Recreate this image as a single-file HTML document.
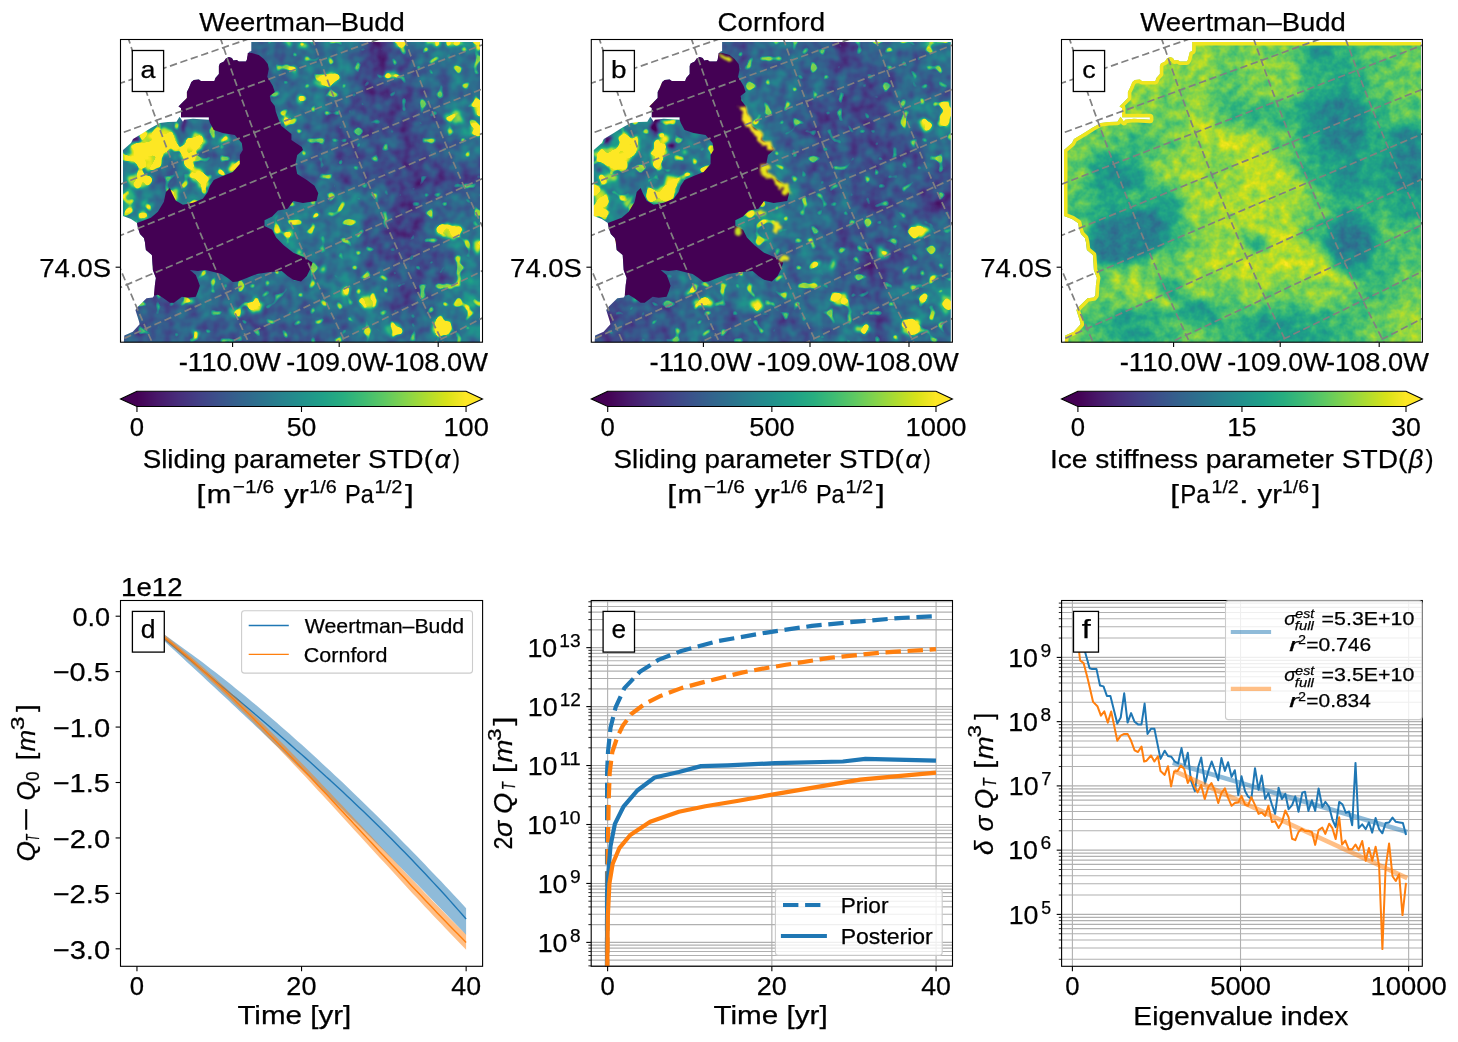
<!DOCTYPE html>
<html><head><meta charset="utf-8"><style>
html,body{margin:0;padding:0;background:#fff;}
svg{display:block;font-family:"Liberation Sans",sans-serif;will-change:transform;}
text{stroke:#000;stroke-width:0.25px;}
</style></head><body>
<svg width="1458" height="1042" viewBox="0 0 1458 1042">
<rect width="1458" height="1042" fill="#fff"/>
<defs>
<linearGradient id="vir" x1="0" x2="1" y1="0" y2="0"><stop offset="0.0000" stop-color="#440154"/><stop offset="0.0627" stop-color="#48186a"/><stop offset="0.1255" stop-color="#472d7b"/><stop offset="0.1882" stop-color="#424086"/><stop offset="0.2510" stop-color="#3b528b"/><stop offset="0.3137" stop-color="#33638d"/><stop offset="0.3765" stop-color="#2c728e"/><stop offset="0.4392" stop-color="#26828e"/><stop offset="0.5020" stop-color="#21918c"/><stop offset="0.5647" stop-color="#1fa088"/><stop offset="0.6275" stop-color="#28ae80"/><stop offset="0.6902" stop-color="#3fbc73"/><stop offset="0.7529" stop-color="#5ec962"/><stop offset="0.8157" stop-color="#84d44b"/><stop offset="0.8784" stop-color="#addc30"/><stop offset="0.9412" stop-color="#d8e219"/><stop offset="1.0000" stop-color="#fde725"/></linearGradient>
<clipPath id="clipT0"><rect x="120.5" y="39.5" width="362.0" height="302.7"/></clipPath>
<clipPath id="clipB0"><rect x="120.5" y="600.5" width="362.0" height="365.79999999999995"/></clipPath>
<clipPath id="clipT1"><rect x="591.3" y="39.5" width="361.1" height="302.7"/></clipPath>
<clipPath id="clipB1"><rect x="591.3" y="600.5" width="361.1" height="365.79999999999995"/></clipPath>
<clipPath id="clipT2"><rect x="1061.5" y="39.5" width="360.9000000000001" height="302.7"/></clipPath>
<clipPath id="clipB2"><rect x="1061.5" y="600.5" width="360.9000000000001" height="365.79999999999995"/></clipPath>
</defs>
<defs><filter id="vf0" filterUnits="userSpaceOnUse" x="110.5" y="29.5" width="382.0" height="322.7" color-interpolation-filters="sRGB"><feGaussianBlur in="SourceGraphic" stdDeviation="1.2" result="g"/><feTurbulence type="fractalNoise" baseFrequency="0.08" numOctaves="2" seed="2" result="n"/><feColorMatrix in="n" type="matrix" values="1 0 0 0 0 1 0 0 0 0 1 0 0 0 0 0 0 0 0 1" result="n1"/><feComposite in="g" in2="n1" operator="arithmetic" k1="0" k2="1" k3="0.4" k4="-0.2" result="v"/><feTurbulence type="fractalNoise" baseFrequency="0.11" numOctaves="1" seed="13" result="t2"/><feColorMatrix in="t2" type="matrix" values="1 0 0 0 0 1 0 0 0 0 1 0 0 0 0 0 0 0 0 1" result="n2a"/><feGaussianBlur in="n2a" stdDeviation="1.0" result="n2"/><feComposite in="n2" in2="g" operator="arithmetic" k1="0" k2="12" k3="4" k4="-8.75" result="sp"/><feComposite in="v" in2="sp" operator="arithmetic" k1="0" k2="1" k3="0.5" k4="0" result="v2"/><feComponentTransfer in="v2"><feFuncR type="table" tableValues="0.2670 0.2770 0.2823 0.2829 0.2788 0.2706 0.2590 0.2450 0.2297 0.2143 0.1994 0.1856 0.1727 0.1607 0.1490 0.1378 0.1276 0.1206 0.1206 0.1323 0.1579 0.1966 0.2461 0.3041 0.3692 0.4401 0.5160 0.5958 0.6785 0.7624 0.8456 0.9261 0.9932"/><feFuncG type="table" tableValues="0.0049 0.0503 0.0950 0.1359 0.1755 0.2141 0.2515 0.2877 0.3224 0.3556 0.3876 0.4186 0.4488 0.4785 0.5081 0.5375 0.5669 0.5964 0.6258 0.6550 0.6838 0.7118 0.7389 0.7647 0.7889 0.8111 0.8312 0.8487 0.8637 0.8764 0.8873 0.8973 0.9062"/><feFuncB type="table" tableValues="0.3294 0.3757 0.4173 0.4534 0.4834 0.5071 0.5247 0.5373 0.5457 0.5512 0.5546 0.5568 0.5579 0.5581 0.5573 0.5549 0.5506 0.5436 0.5335 0.5197 0.5017 0.4792 0.4520 0.4199 0.3829 0.3410 0.2943 0.2433 0.1895 0.1371 0.0997 0.1041 0.1439"/><feFuncA type="linear" slope="0" intercept="1"/></feComponentTransfer></filter><filter id="gb0" filterUnits="userSpaceOnUse" x="100.5" y="19.5" width="402.0" height="342.7" color-interpolation-filters="sRGB"><feGaussianBlur stdDeviation="7"/></filter><filter id="it0" filterUnits="userSpaceOnUse" x="100.5" y="19.5" width="402.0" height="342.7" color-interpolation-filters="sRGB"><feTurbulence type="fractalNoise" baseFrequency="0.12" numOctaves="2" seed="7" result="t"/><feDisplacementMap in="SourceGraphic" in2="t" scale="9" xChannelSelector="R" yChannelSelector="G" result="d"/><feGaussianBlur in="d" stdDeviation="1.0"/></filter><clipPath id="mk0"><polygon points="251.3,42.0 480.0,42.0 480.0,342.2 123.8,342.2 124.3,335.4 132.8,331.7 139.6,324.3 139.1,321.7 135.4,310.1 138.1,306.4 146.5,298.2 152.8,297.4 154.4,295.3 154.9,284.9 155.9,277.9 152.9,269.9 151.9,254.9 145.9,249.9 144.9,241.9 143.9,237.9 140.0,234.0 138.0,228.0 137.0,223.0 131.0,219.0 123.0,216.0 123.0,149.9 131.0,143.0 133.0,139.0 143.0,133.0 150.9,128.0 159.9,123.0 167.9,122.0 176.5,121.8 179.5,116.8 183.0,121.8 184.0,119.8 192.9,118.8 208.9,119.8 208.9,117.3 181.0,117.3 181.0,107.9 178.5,106.4 186.9,97.9 186.9,91.9 188.9,87.9 191.4,81.9 193.9,79.9 198.9,79.4 200.9,80.9 214.4,80.9 215.4,77.9 218.9,73.9 218.9,65.9 219.9,63.4 223.9,61.4 225.9,58.5 228.9,57.0 231.9,58.0 233.4,60.5 236.8,60.0 238.8,61.4 245.8,61.4 246.8,60.0 248.8,52.0 251.3,51.0" fill="#000"/></clipPath></defs>
<g clip-path="url(#mk0)"><g filter="url(#vf0)">
<rect x="110.5" y="29.5" width="382.0" height="322.7" fill="rgb(76,76,76)"/>
<g filter="url(#gb0)">
<rect x="108.5" y="27.5" width="42.0" height="42.0" fill="rgb(102,102,102)"/>
<rect x="150.5" y="27.5" width="30.0" height="42.0" fill="rgb(102,102,102)"/>
<rect x="180.5" y="27.5" width="30.0" height="42.0" fill="rgb(93,93,93)"/>
<rect x="210.5" y="27.5" width="30.0" height="42.0" fill="rgb(76,76,76)"/>
<rect x="240.5" y="27.5" width="30.0" height="42.0" fill="rgb(76,76,76)"/>
<rect x="270.5" y="27.5" width="30.0" height="42.0" fill="rgb(84,84,84)"/>
<rect x="300.5" y="27.5" width="30.0" height="42.0" fill="rgb(97,97,97)"/>
<rect x="330.5" y="27.5" width="30.0" height="42.0" fill="rgb(97,97,97)"/>
<rect x="360.5" y="27.5" width="30.0" height="42.0" fill="rgb(38,38,38)"/>
<rect x="390.5" y="27.5" width="30.0" height="42.0" fill="rgb(76,76,76)"/>
<rect x="420.5" y="27.5" width="30.0" height="42.0" fill="rgb(97,97,97)"/>
<rect x="450.5" y="27.5" width="42.0" height="42.0" fill="rgb(97,97,97)"/>
<rect x="108.5" y="69.5" width="42.0" height="30.0" fill="rgb(102,102,102)"/>
<rect x="150.5" y="69.5" width="30.0" height="30.0" fill="rgb(102,102,102)"/>
<rect x="180.5" y="69.5" width="30.0" height="30.0" fill="rgb(99,99,99)"/>
<rect x="210.5" y="69.5" width="30.0" height="30.0" fill="rgb(88,88,88)"/>
<rect x="240.5" y="69.5" width="30.0" height="30.0" fill="rgb(89,89,89)"/>
<rect x="270.5" y="69.5" width="30.0" height="30.0" fill="rgb(89,89,89)"/>
<rect x="300.5" y="69.5" width="30.0" height="30.0" fill="rgb(97,97,97)"/>
<rect x="330.5" y="69.5" width="30.0" height="30.0" fill="rgb(97,97,97)"/>
<rect x="360.5" y="69.5" width="30.0" height="30.0" fill="rgb(46,46,46)"/>
<rect x="390.5" y="69.5" width="30.0" height="30.0" fill="rgb(56,56,56)"/>
<rect x="420.5" y="69.5" width="30.0" height="30.0" fill="rgb(82,82,82)"/>
<rect x="450.5" y="69.5" width="42.0" height="30.0" fill="rgb(92,92,92)"/>
<rect x="108.5" y="99.5" width="42.0" height="30.0" fill="rgb(102,102,102)"/>
<rect x="150.5" y="99.5" width="30.0" height="30.0" fill="rgb(102,102,102)"/>
<rect x="180.5" y="99.5" width="30.0" height="30.0" fill="rgb(97,97,97)"/>
<rect x="210.5" y="99.5" width="30.0" height="30.0" fill="rgb(90,90,90)"/>
<rect x="240.5" y="99.5" width="30.0" height="30.0" fill="rgb(92,92,92)"/>
<rect x="270.5" y="99.5" width="30.0" height="30.0" fill="rgb(97,97,97)"/>
<rect x="300.5" y="99.5" width="30.0" height="30.0" fill="rgb(89,89,89)"/>
<rect x="330.5" y="99.5" width="30.0" height="30.0" fill="rgb(69,69,69)"/>
<rect x="360.5" y="99.5" width="30.0" height="30.0" fill="rgb(51,51,51)"/>
<rect x="390.5" y="99.5" width="30.0" height="30.0" fill="rgb(56,56,56)"/>
<rect x="420.5" y="99.5" width="30.0" height="30.0" fill="rgb(76,76,76)"/>
<rect x="450.5" y="99.5" width="42.0" height="30.0" fill="rgb(107,107,107)"/>
<rect x="108.5" y="129.5" width="42.0" height="30.0" fill="rgb(102,102,102)"/>
<rect x="150.5" y="129.5" width="30.0" height="30.0" fill="rgb(102,102,102)"/>
<rect x="180.5" y="129.5" width="30.0" height="30.0" fill="rgb(89,89,89)"/>
<rect x="210.5" y="129.5" width="30.0" height="30.0" fill="rgb(84,84,84)"/>
<rect x="240.5" y="129.5" width="30.0" height="30.0" fill="rgb(88,88,88)"/>
<rect x="270.5" y="129.5" width="30.0" height="30.0" fill="rgb(89,89,89)"/>
<rect x="300.5" y="129.5" width="30.0" height="30.0" fill="rgb(76,76,76)"/>
<rect x="330.5" y="129.5" width="30.0" height="30.0" fill="rgb(64,64,64)"/>
<rect x="360.5" y="129.5" width="30.0" height="30.0" fill="rgb(71,71,71)"/>
<rect x="390.5" y="129.5" width="30.0" height="30.0" fill="rgb(51,51,51)"/>
<rect x="420.5" y="129.5" width="30.0" height="30.0" fill="rgb(64,64,64)"/>
<rect x="450.5" y="129.5" width="42.0" height="30.0" fill="rgb(107,107,107)"/>
<rect x="108.5" y="159.5" width="42.0" height="30.0" fill="rgb(107,107,107)"/>
<rect x="150.5" y="159.5" width="30.0" height="30.0" fill="rgb(76,76,76)"/>
<rect x="180.5" y="159.5" width="30.0" height="30.0" fill="rgb(102,102,102)"/>
<rect x="210.5" y="159.5" width="30.0" height="30.0" fill="rgb(84,84,84)"/>
<rect x="240.5" y="159.5" width="30.0" height="30.0" fill="rgb(87,87,87)"/>
<rect x="270.5" y="159.5" width="30.0" height="30.0" fill="rgb(89,89,89)"/>
<rect x="300.5" y="159.5" width="30.0" height="30.0" fill="rgb(82,82,82)"/>
<rect x="330.5" y="159.5" width="30.0" height="30.0" fill="rgb(64,64,64)"/>
<rect x="360.5" y="159.5" width="30.0" height="30.0" fill="rgb(64,64,64)"/>
<rect x="390.5" y="159.5" width="30.0" height="30.0" fill="rgb(51,51,51)"/>
<rect x="420.5" y="159.5" width="30.0" height="30.0" fill="rgb(51,51,51)"/>
<rect x="450.5" y="159.5" width="42.0" height="30.0" fill="rgb(56,56,56)"/>
<rect x="108.5" y="189.5" width="42.0" height="30.0" fill="rgb(107,107,107)"/>
<rect x="150.5" y="189.5" width="30.0" height="30.0" fill="rgb(84,84,84)"/>
<rect x="180.5" y="189.5" width="30.0" height="30.0" fill="rgb(115,115,115)"/>
<rect x="210.5" y="189.5" width="30.0" height="30.0" fill="rgb(99,99,99)"/>
<rect x="240.5" y="189.5" width="30.0" height="30.0" fill="rgb(96,96,96)"/>
<rect x="270.5" y="189.5" width="30.0" height="30.0" fill="rgb(102,102,102)"/>
<rect x="300.5" y="189.5" width="30.0" height="30.0" fill="rgb(97,97,97)"/>
<rect x="330.5" y="189.5" width="30.0" height="30.0" fill="rgb(107,107,107)"/>
<rect x="360.5" y="189.5" width="30.0" height="30.0" fill="rgb(89,89,89)"/>
<rect x="390.5" y="189.5" width="30.0" height="30.0" fill="rgb(46,46,46)"/>
<rect x="420.5" y="189.5" width="30.0" height="30.0" fill="rgb(76,76,76)"/>
<rect x="450.5" y="189.5" width="42.0" height="30.0" fill="rgb(89,89,89)"/>
<rect x="108.5" y="219.5" width="42.0" height="30.0" fill="rgb(107,107,107)"/>
<rect x="150.5" y="219.5" width="30.0" height="30.0" fill="rgb(96,96,96)"/>
<rect x="180.5" y="219.5" width="30.0" height="30.0" fill="rgb(105,105,105)"/>
<rect x="210.5" y="219.5" width="30.0" height="30.0" fill="rgb(102,102,102)"/>
<rect x="240.5" y="219.5" width="30.0" height="30.0" fill="rgb(102,102,102)"/>
<rect x="270.5" y="219.5" width="30.0" height="30.0" fill="rgb(107,107,107)"/>
<rect x="300.5" y="219.5" width="30.0" height="30.0" fill="rgb(102,102,102)"/>
<rect x="330.5" y="219.5" width="30.0" height="30.0" fill="rgb(102,102,102)"/>
<rect x="360.5" y="219.5" width="30.0" height="30.0" fill="rgb(64,64,64)"/>
<rect x="390.5" y="219.5" width="30.0" height="30.0" fill="rgb(38,38,38)"/>
<rect x="420.5" y="219.5" width="30.0" height="30.0" fill="rgb(82,82,82)"/>
<rect x="450.5" y="219.5" width="42.0" height="30.0" fill="rgb(102,102,102)"/>
<rect x="108.5" y="249.5" width="42.0" height="30.0" fill="rgb(85,85,85)"/>
<rect x="150.5" y="249.5" width="30.0" height="30.0" fill="rgb(82,82,82)"/>
<rect x="180.5" y="249.5" width="30.0" height="30.0" fill="rgb(96,96,96)"/>
<rect x="210.5" y="249.5" width="30.0" height="30.0" fill="rgb(94,94,94)"/>
<rect x="240.5" y="249.5" width="30.0" height="30.0" fill="rgb(94,94,94)"/>
<rect x="270.5" y="249.5" width="30.0" height="30.0" fill="rgb(89,89,89)"/>
<rect x="300.5" y="249.5" width="30.0" height="30.0" fill="rgb(89,89,89)"/>
<rect x="330.5" y="249.5" width="30.0" height="30.0" fill="rgb(102,102,102)"/>
<rect x="360.5" y="249.5" width="30.0" height="30.0" fill="rgb(71,71,71)"/>
<rect x="390.5" y="249.5" width="30.0" height="30.0" fill="rgb(64,64,64)"/>
<rect x="420.5" y="249.5" width="30.0" height="30.0" fill="rgb(56,56,56)"/>
<rect x="450.5" y="249.5" width="42.0" height="30.0" fill="rgb(102,102,102)"/>
<rect x="108.5" y="279.5" width="42.0" height="30.0" fill="rgb(64,64,64)"/>
<rect x="150.5" y="279.5" width="30.0" height="30.0" fill="rgb(64,64,64)"/>
<rect x="180.5" y="279.5" width="30.0" height="30.0" fill="rgb(102,102,102)"/>
<rect x="210.5" y="279.5" width="30.0" height="30.0" fill="rgb(84,84,84)"/>
<rect x="240.5" y="279.5" width="30.0" height="30.0" fill="rgb(89,89,89)"/>
<rect x="270.5" y="279.5" width="30.0" height="30.0" fill="rgb(84,84,84)"/>
<rect x="300.5" y="279.5" width="30.0" height="30.0" fill="rgb(97,97,97)"/>
<rect x="330.5" y="279.5" width="30.0" height="30.0" fill="rgb(107,107,107)"/>
<rect x="360.5" y="279.5" width="30.0" height="30.0" fill="rgb(97,97,97)"/>
<rect x="390.5" y="279.5" width="30.0" height="30.0" fill="rgb(56,56,56)"/>
<rect x="420.5" y="279.5" width="30.0" height="30.0" fill="rgb(84,84,84)"/>
<rect x="450.5" y="279.5" width="42.0" height="30.0" fill="rgb(115,115,115)"/>
<rect x="108.5" y="309.5" width="42.0" height="42.0" fill="rgb(64,64,64)"/>
<rect x="150.5" y="309.5" width="30.0" height="42.0" fill="rgb(76,76,76)"/>
<rect x="180.5" y="309.5" width="30.0" height="42.0" fill="rgb(71,71,71)"/>
<rect x="210.5" y="309.5" width="30.0" height="42.0" fill="rgb(64,64,64)"/>
<rect x="240.5" y="309.5" width="30.0" height="42.0" fill="rgb(64,64,64)"/>
<rect x="270.5" y="309.5" width="30.0" height="42.0" fill="rgb(71,71,71)"/>
<rect x="300.5" y="309.5" width="30.0" height="42.0" fill="rgb(76,76,76)"/>
<rect x="330.5" y="309.5" width="30.0" height="42.0" fill="rgb(82,82,82)"/>
<rect x="360.5" y="309.5" width="30.0" height="42.0" fill="rgb(102,102,102)"/>
<rect x="390.5" y="309.5" width="30.0" height="42.0" fill="rgb(71,71,71)"/>
<rect x="420.5" y="309.5" width="30.0" height="42.0" fill="rgb(97,97,97)"/>
<rect x="450.5" y="309.5" width="42.0" height="42.0" fill="rgb(102,102,102)"/>
</g>
<g filter="url(#it0)">
<ellipse cx="328.6" cy="79.7" rx="10" ry="6" fill="rgb(242,242,242)" transform="rotate(-20 328.6 79.7)"/>
<ellipse cx="318.0" cy="82.0" rx="5" ry="4" fill="rgb(191,191,191)" transform="rotate(0 318.0 82.0)"/>
<rect x="394.0" y="38.0" width="12.0" height="7.0" fill="rgb(235,235,235)"/>
<rect x="425.0" y="38.0" width="15.0" height="7.0" fill="rgb(230,230,230)"/>
<rect x="446.0" y="38.0" width="16.0" height="7.0" fill="rgb(217,217,217)"/>
<rect x="474.0" y="38.0" width="8.0" height="12.0" fill="rgb(230,230,230)"/>
<ellipse cx="288.0" cy="44.0" rx="4" ry="3" fill="rgb(204,204,204)" transform="rotate(0 288.0 44.0)"/>
<ellipse cx="302.0" cy="45.0" rx="4" ry="3" fill="rgb(217,217,217)" transform="rotate(0 302.0 45.0)"/>
<ellipse cx="392.0" cy="75.0" rx="6" ry="4" fill="rgb(204,204,204)" transform="rotate(0 392.0 75.0)"/>
<ellipse cx="453.0" cy="118.0" rx="9" ry="7" fill="rgb(204,204,204)" transform="rotate(0 453.0 118.0)"/>
<ellipse cx="478.0" cy="108.0" rx="5" ry="10" fill="rgb(230,230,230)" transform="rotate(0 478.0 108.0)"/>
<ellipse cx="476.0" cy="130.0" rx="6" ry="6" fill="rgb(191,191,191)" transform="rotate(0 476.0 130.0)"/>
<ellipse cx="300.0" cy="100.0" rx="3" ry="3" fill="rgb(217,217,217)" transform="rotate(0 300.0 100.0)"/>
<ellipse cx="285.0" cy="120.0" rx="3" ry="3" fill="rgb(217,217,217)" transform="rotate(0 285.0 120.0)"/>
<ellipse cx="292.0" cy="70.0" rx="3" ry="3" fill="rgb(204,204,204)" transform="rotate(0 292.0 70.0)"/>
<ellipse cx="449.0" cy="231.0" rx="13" ry="7" fill="rgb(247,247,247)" transform="rotate(0 449.0 231.0)"/>
<ellipse cx="478.0" cy="247.0" rx="4" ry="8" fill="rgb(230,230,230)" transform="rotate(0 478.0 247.0)"/>
<ellipse cx="368.8" cy="302.0" rx="9" ry="7" fill="rgb(230,230,230)" transform="rotate(0 368.8 302.0)"/>
<ellipse cx="346.0" cy="292.0" rx="4" ry="4" fill="rgb(230,230,230)" transform="rotate(0 346.0 292.0)"/>
<ellipse cx="394.0" cy="330.0" rx="9" ry="7" fill="rgb(191,191,191)" transform="rotate(0 394.0 330.0)"/>
<ellipse cx="442.6" cy="327.6" rx="10" ry="8" fill="rgb(247,247,247)" transform="rotate(0 442.6 327.6)"/>
<ellipse cx="254.8" cy="305.0" rx="7" ry="6" fill="rgb(235,235,235)" transform="rotate(0 254.8 305.0)"/>
<ellipse cx="290.0" cy="234.0" rx="3" ry="3" fill="rgb(230,230,230)" transform="rotate(0 290.0 234.0)"/>
<ellipse cx="300.0" cy="252.0" rx="3" ry="3" fill="rgb(230,230,230)" transform="rotate(0 300.0 252.0)"/>
<ellipse cx="322.0" cy="268.0" rx="3" ry="3" fill="rgb(217,217,217)" transform="rotate(0 322.0 268.0)"/>
<ellipse cx="315.0" cy="216.0" rx="3" ry="3" fill="rgb(230,230,230)" transform="rotate(0 315.0 216.0)"/>
<ellipse cx="470.0" cy="300.0" rx="7" ry="10" fill="rgb(153,153,153)" transform="rotate(0 470.0 300.0)"/>
<ellipse cx="190.0" cy="302.0" rx="4" ry="3" fill="rgb(242,242,242)" transform="rotate(0 190.0 302.0)"/>
<ellipse cx="196.0" cy="334.0" rx="4" ry="4" fill="rgb(230,230,230)" transform="rotate(0 196.0 334.0)"/>
<ellipse cx="236.0" cy="312.0" rx="8" ry="5" fill="rgb(166,166,166)" transform="rotate(0 236.0 312.0)"/>
<polygon points="130.5,147.4 140.5,137.4 155.4,128.7 170.4,129.9 177.9,137.4 176.6,147.4 165.4,152.4 159.2,164.9 149.2,169.9 134.2,164.9 125.5,158.6" fill="rgb(245,245,245)"/>
<polygon points="185.4,141.2 192.9,133.7 202.9,134.9 207.8,142.4 197.9,152.4 192.9,162.4 197.9,169.9 207.8,177.4 210.3,184.9 205.3,189.8 197.9,187.3 192.9,179.9 187.9,169.9 182.9,159.9 180.4,149.9" fill="rgb(245,245,245)"/>
<ellipse cx="139.0" cy="181.0" rx="11" ry="8" fill="rgb(217,217,217)" transform="rotate(0 139.0 181.0)"/>
<ellipse cx="129.0" cy="200.0" rx="6" ry="12" fill="rgb(191,191,191)" transform="rotate(0 129.0 200.0)"/>
<ellipse cx="174.0" cy="195.0" rx="4" ry="8" fill="rgb(230,230,230)" transform="rotate(0 174.0 195.0)"/>
<ellipse cx="221.0" cy="173.0" rx="4" ry="3" fill="rgb(242,242,242)" transform="rotate(0 221.0 173.0)"/>
<ellipse cx="235.0" cy="166.0" rx="5" ry="4" fill="rgb(242,242,242)" transform="rotate(-30 235.0 166.0)"/>
<ellipse cx="225.0" cy="139.0" rx="5" ry="4" fill="rgb(204,204,204)" transform="rotate(0 225.0 139.0)"/>
<ellipse cx="147.0" cy="205.0" rx="5" ry="5" fill="rgb(153,153,153)" transform="rotate(0 147.0 205.0)"/>
<ellipse cx="143.0" cy="215.0" rx="4" ry="4" fill="rgb(217,217,217)" transform="rotate(0 143.0 215.0)"/>
<ellipse cx="136.0" cy="139.0" rx="5" ry="3.5" fill="rgb(0,0,0)" transform="rotate(0 136.0 139.0)"/>
<polygon points="180.0,117.0 187.0,117.0 186.0,133.0 182.0,130.0" fill="rgb(0,0,0)"/>
</g>
</g>
</g>
<polygon points="246.8,60.0 247.8,53.0 251.8,53.0 258.8,55.0 263.8,59.0 267.8,63.9 268.8,68.9 267.8,73.9 267.3,76.9 269.8,80.9 272.8,85.9 274.8,91.9 269.8,95.9 270.8,100.9 274.8,105.9 275.8,111.8 278.8,119.9 281.1,125.7 286.8,130.3 291.4,134.0 291.4,140.1 301.8,147.0 303.0,150.0 297.2,155.0 295.3,164.5 297.2,174.1 306.8,179.9 314.5,185.7 318.3,193.3 316.4,201.0 302.9,202.9 293.3,201.0 287.6,208.7 278.0,210.6 272.2,216.4 264.5,220.2 264.5,226.0 272.2,229.8 276.1,237.5 283.7,245.2 293.3,252.8 302.9,256.7 312.5,262.4 310.6,268.2 306.8,275.9 301.0,281.6 293.3,279.7 287.6,275.9 281.8,271.1 270.3,272.0 256.9,274.0 247.3,277.8 237.7,281.6 232.8,281.9 227.8,277.9 221.8,273.9 213.8,271.9 205.8,269.9 197.8,270.9 189.9,269.9 195.8,274.9 197.8,279.9 199.8,285.8 197.8,291.8 195.8,296.8 187.9,297.8 181.9,296.8 177.9,299.8 173.9,302.8 169.9,302.8 162.9,297.8 157.9,294.8 153.9,295.8 154.9,284.9 155.9,277.9 152.9,269.9 151.9,254.9 145.9,249.9 144.9,241.9 143.9,237.9 140.0,234.0 138.0,228.0 137.0,223.0 143.0,220.8 150.9,217.8 157.9,211.8 163.9,201.8 165.9,191.9 169.9,187.9 171.9,192.9 175.9,200.8 182.9,204.8 192.9,202.8 202.8,198.8 207.8,191.9 209.8,185.9 213.8,179.9 222.8,175.9 232.8,171.9 239.8,163.9 239.8,154.9 242.8,149.9 241.8,143.0 234.8,135.0 222.8,133.0 213.8,130.0 209.9,122.8 208.9,119.8 208.9,117.3 181.0,117.3 181.0,107.9 178.5,106.4 186.9,97.9 186.9,91.9 188.9,87.9 191.4,81.9 193.9,79.9 198.9,79.4 200.9,80.9 214.4,80.9 215.4,77.9 218.9,73.9 218.9,65.9 219.9,63.4 223.9,61.4 225.9,58.5 228.9,57.0 231.9,58.0 233.4,60.5 236.8,60.0 238.8,61.4 245.8,61.4" fill="#440154"/>
<defs><filter id="vf1" filterUnits="userSpaceOnUse" x="581.3" y="29.5" width="381.1" height="322.7" color-interpolation-filters="sRGB"><feGaussianBlur in="SourceGraphic" stdDeviation="1.2" result="g"/><feTurbulence type="fractalNoise" baseFrequency="0.08" numOctaves="2" seed="3" result="n"/><feColorMatrix in="n" type="matrix" values="1 0 0 0 0 1 0 0 0 0 1 0 0 0 0 0 0 0 0 1" result="n1"/><feComposite in="g" in2="n1" operator="arithmetic" k1="0" k2="1" k3="0.4" k4="-0.2" result="v"/><feTurbulence type="fractalNoise" baseFrequency="0.11" numOctaves="1" seed="14" result="t2"/><feColorMatrix in="t2" type="matrix" values="1 0 0 0 0 1 0 0 0 0 1 0 0 0 0 0 0 0 0 1" result="n2a"/><feGaussianBlur in="n2a" stdDeviation="1.0" result="n2"/><feComposite in="n2" in2="g" operator="arithmetic" k1="0" k2="12" k3="4" k4="-8.75" result="sp"/><feComposite in="v" in2="sp" operator="arithmetic" k1="0" k2="1" k3="0.5" k4="0" result="v2"/><feComponentTransfer in="v2"><feFuncR type="table" tableValues="0.2670 0.2770 0.2823 0.2829 0.2788 0.2706 0.2590 0.2450 0.2297 0.2143 0.1994 0.1856 0.1727 0.1607 0.1490 0.1378 0.1276 0.1206 0.1206 0.1323 0.1579 0.1966 0.2461 0.3041 0.3692 0.4401 0.5160 0.5958 0.6785 0.7624 0.8456 0.9261 0.9932"/><feFuncG type="table" tableValues="0.0049 0.0503 0.0950 0.1359 0.1755 0.2141 0.2515 0.2877 0.3224 0.3556 0.3876 0.4186 0.4488 0.4785 0.5081 0.5375 0.5669 0.5964 0.6258 0.6550 0.6838 0.7118 0.7389 0.7647 0.7889 0.8111 0.8312 0.8487 0.8637 0.8764 0.8873 0.8973 0.9062"/><feFuncB type="table" tableValues="0.3294 0.3757 0.4173 0.4534 0.4834 0.5071 0.5247 0.5373 0.5457 0.5512 0.5546 0.5568 0.5579 0.5581 0.5573 0.5549 0.5506 0.5436 0.5335 0.5197 0.5017 0.4792 0.4520 0.4199 0.3829 0.3410 0.2943 0.2433 0.1895 0.1371 0.0997 0.1041 0.1439"/><feFuncA type="linear" slope="0" intercept="1"/></feComponentTransfer></filter><filter id="gb1" filterUnits="userSpaceOnUse" x="571.3" y="19.5" width="401.1" height="342.7" color-interpolation-filters="sRGB"><feGaussianBlur stdDeviation="7"/></filter><filter id="it1" filterUnits="userSpaceOnUse" x="571.3" y="19.5" width="401.1" height="342.7" color-interpolation-filters="sRGB"><feTurbulence type="fractalNoise" baseFrequency="0.12" numOctaves="2" seed="8" result="t"/><feDisplacementMap in="SourceGraphic" in2="t" scale="9" xChannelSelector="R" yChannelSelector="G" result="d"/><feGaussianBlur in="d" stdDeviation="1.0"/></filter><clipPath id="mk1"><polygon points="722.1,42.0 950.8,42.0 950.8,342.2 594.6,342.2 595.1,335.4 603.6,331.7 610.4,324.3 609.9,321.7 606.2,310.1 608.9,306.4 617.3,298.2 623.6,297.4 625.2,295.3 625.7,284.9 626.7,277.9 623.7,269.9 622.7,254.9 616.7,249.9 615.7,241.9 614.7,237.9 610.8,234.0 608.8,228.0 607.8,223.0 601.8,219.0 593.8,216.0 593.8,149.9 601.8,143.0 603.8,139.0 613.8,133.0 621.7,128.0 630.7,123.0 638.7,122.0 647.3,121.8 650.3,116.8 653.8,121.8 654.8,119.8 663.7,118.8 679.7,119.8 679.7,117.3 651.8,117.3 651.8,107.9 649.3,106.4 657.7,97.9 657.7,91.9 659.7,87.9 662.2,81.9 664.7,79.9 669.7,79.4 671.7,80.9 685.2,80.9 686.2,77.9 689.7,73.9 689.7,65.9 690.7,63.4 694.7,61.4 696.7,58.5 699.7,57.0 702.7,58.0 704.2,60.5 707.6,60.0 709.6,61.4 716.6,61.4 717.6,60.0 719.6,52.0 722.1,51.0" fill="#000"/></clipPath></defs>
<g clip-path="url(#mk1)"><g filter="url(#vf1)">
<rect x="581.3" y="29.5" width="381.1" height="322.7" fill="rgb(76,76,76)"/>
<g filter="url(#gb1)">
<rect x="579.3" y="27.5" width="42.0" height="42.0" fill="rgb(116,116,116)"/>
<rect x="621.3" y="27.5" width="30.0" height="42.0" fill="rgb(115,115,115)"/>
<rect x="651.3" y="27.5" width="30.0" height="42.0" fill="rgb(99,99,99)"/>
<rect x="681.3" y="27.5" width="30.0" height="42.0" fill="rgb(71,71,71)"/>
<rect x="711.3" y="27.5" width="30.0" height="42.0" fill="rgb(71,71,71)"/>
<rect x="741.3" y="27.5" width="30.0" height="42.0" fill="rgb(76,76,76)"/>
<rect x="771.3" y="27.5" width="30.0" height="42.0" fill="rgb(84,84,84)"/>
<rect x="801.3" y="27.5" width="30.0" height="42.0" fill="rgb(76,76,76)"/>
<rect x="831.3" y="27.5" width="30.0" height="42.0" fill="rgb(46,46,46)"/>
<rect x="861.3" y="27.5" width="30.0" height="42.0" fill="rgb(84,84,84)"/>
<rect x="891.3" y="27.5" width="30.0" height="42.0" fill="rgb(84,84,84)"/>
<rect x="921.3" y="27.5" width="42.0" height="42.0" fill="rgb(92,92,92)"/>
<rect x="579.3" y="69.5" width="42.0" height="30.0" fill="rgb(117,117,117)"/>
<rect x="621.3" y="69.5" width="30.0" height="30.0" fill="rgb(115,115,115)"/>
<rect x="651.3" y="69.5" width="30.0" height="30.0" fill="rgb(111,111,111)"/>
<rect x="681.3" y="69.5" width="30.0" height="30.0" fill="rgb(91,91,91)"/>
<rect x="711.3" y="69.5" width="30.0" height="30.0" fill="rgb(89,89,89)"/>
<rect x="741.3" y="69.5" width="30.0" height="30.0" fill="rgb(89,89,89)"/>
<rect x="771.3" y="69.5" width="30.0" height="30.0" fill="rgb(89,89,89)"/>
<rect x="801.3" y="69.5" width="30.0" height="30.0" fill="rgb(82,82,82)"/>
<rect x="831.3" y="69.5" width="30.0" height="30.0" fill="rgb(64,64,64)"/>
<rect x="861.3" y="69.5" width="30.0" height="30.0" fill="rgb(56,56,56)"/>
<rect x="891.3" y="69.5" width="30.0" height="30.0" fill="rgb(82,82,82)"/>
<rect x="921.3" y="69.5" width="42.0" height="30.0" fill="rgb(76,76,76)"/>
<rect x="579.3" y="99.5" width="42.0" height="30.0" fill="rgb(119,119,119)"/>
<rect x="621.3" y="99.5" width="30.0" height="30.0" fill="rgb(115,115,115)"/>
<rect x="651.3" y="99.5" width="30.0" height="30.0" fill="rgb(107,107,107)"/>
<rect x="681.3" y="99.5" width="30.0" height="30.0" fill="rgb(98,98,98)"/>
<rect x="711.3" y="99.5" width="30.0" height="30.0" fill="rgb(96,96,96)"/>
<rect x="741.3" y="99.5" width="30.0" height="30.0" fill="rgb(102,102,102)"/>
<rect x="771.3" y="99.5" width="30.0" height="30.0" fill="rgb(82,82,82)"/>
<rect x="801.3" y="99.5" width="30.0" height="30.0" fill="rgb(56,56,56)"/>
<rect x="831.3" y="99.5" width="30.0" height="30.0" fill="rgb(56,56,56)"/>
<rect x="861.3" y="99.5" width="30.0" height="30.0" fill="rgb(51,51,51)"/>
<rect x="891.3" y="99.5" width="30.0" height="30.0" fill="rgb(97,97,97)"/>
<rect x="921.3" y="99.5" width="42.0" height="30.0" fill="rgb(102,102,102)"/>
<rect x="579.3" y="129.5" width="42.0" height="30.0" fill="rgb(122,122,122)"/>
<rect x="621.3" y="129.5" width="30.0" height="30.0" fill="rgb(107,107,107)"/>
<rect x="651.3" y="129.5" width="30.0" height="30.0" fill="rgb(97,97,97)"/>
<rect x="681.3" y="129.5" width="30.0" height="30.0" fill="rgb(97,97,97)"/>
<rect x="711.3" y="129.5" width="30.0" height="30.0" fill="rgb(103,103,103)"/>
<rect x="741.3" y="129.5" width="30.0" height="30.0" fill="rgb(115,115,115)"/>
<rect x="771.3" y="129.5" width="30.0" height="30.0" fill="rgb(76,76,76)"/>
<rect x="801.3" y="129.5" width="30.0" height="30.0" fill="rgb(64,64,64)"/>
<rect x="831.3" y="129.5" width="30.0" height="30.0" fill="rgb(64,64,64)"/>
<rect x="861.3" y="129.5" width="30.0" height="30.0" fill="rgb(56,56,56)"/>
<rect x="891.3" y="129.5" width="30.0" height="30.0" fill="rgb(64,64,64)"/>
<rect x="921.3" y="129.5" width="42.0" height="30.0" fill="rgb(89,89,89)"/>
<rect x="579.3" y="159.5" width="42.0" height="30.0" fill="rgb(122,122,122)"/>
<rect x="621.3" y="159.5" width="30.0" height="30.0" fill="rgb(89,89,89)"/>
<rect x="651.3" y="159.5" width="30.0" height="30.0" fill="rgb(97,97,97)"/>
<rect x="681.3" y="159.5" width="30.0" height="30.0" fill="rgb(102,102,102)"/>
<rect x="711.3" y="159.5" width="30.0" height="30.0" fill="rgb(102,102,102)"/>
<rect x="741.3" y="159.5" width="30.0" height="30.0" fill="rgb(102,102,102)"/>
<rect x="771.3" y="159.5" width="30.0" height="30.0" fill="rgb(97,97,97)"/>
<rect x="801.3" y="159.5" width="30.0" height="30.0" fill="rgb(64,64,64)"/>
<rect x="831.3" y="159.5" width="30.0" height="30.0" fill="rgb(76,76,76)"/>
<rect x="861.3" y="159.5" width="30.0" height="30.0" fill="rgb(64,64,64)"/>
<rect x="891.3" y="159.5" width="30.0" height="30.0" fill="rgb(76,76,76)"/>
<rect x="921.3" y="159.5" width="42.0" height="30.0" fill="rgb(64,64,64)"/>
<rect x="579.3" y="189.5" width="42.0" height="30.0" fill="rgb(122,122,122)"/>
<rect x="621.3" y="189.5" width="30.0" height="30.0" fill="rgb(89,89,89)"/>
<rect x="651.3" y="189.5" width="30.0" height="30.0" fill="rgb(122,122,122)"/>
<rect x="681.3" y="189.5" width="30.0" height="30.0" fill="rgb(112,112,112)"/>
<rect x="711.3" y="189.5" width="30.0" height="30.0" fill="rgb(118,118,118)"/>
<rect x="741.3" y="189.5" width="30.0" height="30.0" fill="rgb(140,140,140)"/>
<rect x="771.3" y="189.5" width="30.0" height="30.0" fill="rgb(97,97,97)"/>
<rect x="801.3" y="189.5" width="30.0" height="30.0" fill="rgb(84,84,84)"/>
<rect x="831.3" y="189.5" width="30.0" height="30.0" fill="rgb(76,76,76)"/>
<rect x="861.3" y="189.5" width="30.0" height="30.0" fill="rgb(51,51,51)"/>
<rect x="891.3" y="189.5" width="30.0" height="30.0" fill="rgb(76,76,76)"/>
<rect x="921.3" y="189.5" width="42.0" height="30.0" fill="rgb(38,38,38)"/>
<rect x="579.3" y="219.5" width="42.0" height="30.0" fill="rgb(122,122,122)"/>
<rect x="621.3" y="219.5" width="30.0" height="30.0" fill="rgb(106,106,106)"/>
<rect x="651.3" y="219.5" width="30.0" height="30.0" fill="rgb(114,114,114)"/>
<rect x="681.3" y="219.5" width="30.0" height="30.0" fill="rgb(113,113,113)"/>
<rect x="711.3" y="219.5" width="30.0" height="30.0" fill="rgb(115,115,115)"/>
<rect x="741.3" y="219.5" width="30.0" height="30.0" fill="rgb(115,115,115)"/>
<rect x="771.3" y="219.5" width="30.0" height="30.0" fill="rgb(97,97,97)"/>
<rect x="801.3" y="219.5" width="30.0" height="30.0" fill="rgb(92,92,92)"/>
<rect x="831.3" y="219.5" width="30.0" height="30.0" fill="rgb(64,64,64)"/>
<rect x="861.3" y="219.5" width="30.0" height="30.0" fill="rgb(76,76,76)"/>
<rect x="891.3" y="219.5" width="30.0" height="30.0" fill="rgb(82,82,82)"/>
<rect x="921.3" y="219.5" width="42.0" height="30.0" fill="rgb(89,89,89)"/>
<rect x="579.3" y="249.5" width="42.0" height="30.0" fill="rgb(89,89,89)"/>
<rect x="621.3" y="249.5" width="30.0" height="30.0" fill="rgb(91,91,91)"/>
<rect x="651.3" y="249.5" width="30.0" height="30.0" fill="rgb(94,94,94)"/>
<rect x="681.3" y="249.5" width="30.0" height="30.0" fill="rgb(94,94,94)"/>
<rect x="711.3" y="249.5" width="30.0" height="30.0" fill="rgb(100,100,100)"/>
<rect x="741.3" y="249.5" width="30.0" height="30.0" fill="rgb(89,89,89)"/>
<rect x="771.3" y="249.5" width="30.0" height="30.0" fill="rgb(76,76,76)"/>
<rect x="801.3" y="249.5" width="30.0" height="30.0" fill="rgb(97,97,97)"/>
<rect x="831.3" y="249.5" width="30.0" height="30.0" fill="rgb(71,71,71)"/>
<rect x="861.3" y="249.5" width="30.0" height="30.0" fill="rgb(46,46,46)"/>
<rect x="891.3" y="249.5" width="30.0" height="30.0" fill="rgb(64,64,64)"/>
<rect x="921.3" y="249.5" width="42.0" height="30.0" fill="rgb(89,89,89)"/>
<rect x="579.3" y="279.5" width="42.0" height="30.0" fill="rgb(56,56,56)"/>
<rect x="621.3" y="279.5" width="30.0" height="30.0" fill="rgb(76,76,76)"/>
<rect x="651.3" y="279.5" width="30.0" height="30.0" fill="rgb(76,76,76)"/>
<rect x="681.3" y="279.5" width="30.0" height="30.0" fill="rgb(76,76,76)"/>
<rect x="711.3" y="279.5" width="30.0" height="30.0" fill="rgb(102,102,102)"/>
<rect x="741.3" y="279.5" width="30.0" height="30.0" fill="rgb(107,107,107)"/>
<rect x="771.3" y="279.5" width="30.0" height="30.0" fill="rgb(89,89,89)"/>
<rect x="801.3" y="279.5" width="30.0" height="30.0" fill="rgb(97,97,97)"/>
<rect x="831.3" y="279.5" width="30.0" height="30.0" fill="rgb(71,71,71)"/>
<rect x="861.3" y="279.5" width="30.0" height="30.0" fill="rgb(64,64,64)"/>
<rect x="891.3" y="279.5" width="30.0" height="30.0" fill="rgb(97,97,97)"/>
<rect x="921.3" y="279.5" width="42.0" height="30.0" fill="rgb(115,115,115)"/>
<rect x="579.3" y="309.5" width="42.0" height="42.0" fill="rgb(56,56,56)"/>
<rect x="621.3" y="309.5" width="30.0" height="42.0" fill="rgb(64,64,64)"/>
<rect x="651.3" y="309.5" width="30.0" height="42.0" fill="rgb(71,71,71)"/>
<rect x="681.3" y="309.5" width="30.0" height="42.0" fill="rgb(89,89,89)"/>
<rect x="711.3" y="309.5" width="30.0" height="42.0" fill="rgb(64,64,64)"/>
<rect x="741.3" y="309.5" width="30.0" height="42.0" fill="rgb(89,89,89)"/>
<rect x="771.3" y="309.5" width="30.0" height="42.0" fill="rgb(64,64,64)"/>
<rect x="801.3" y="309.5" width="30.0" height="42.0" fill="rgb(82,82,82)"/>
<rect x="831.3" y="309.5" width="30.0" height="42.0" fill="rgb(97,97,97)"/>
<rect x="861.3" y="309.5" width="30.0" height="42.0" fill="rgb(64,64,64)"/>
<rect x="891.3" y="309.5" width="30.0" height="42.0" fill="rgb(102,102,102)"/>
<rect x="921.3" y="309.5" width="42.0" height="42.0" fill="rgb(89,89,89)"/>
</g>
<g filter="url(#it1)">
<polygon points="600.2,149.9 609.0,146.2 620.2,146.2 627.7,137.4 636.4,136.2 638.9,141.2 636.4,149.9 630.2,159.9 626.4,167.4 617.7,168.6 607.7,164.9 599.0,159.9 594.0,154.9" fill="rgb(245,245,245)"/>
<polygon points="656.4,139.9 663.9,134.9 668.9,137.4 666.4,149.9 661.4,162.4 658.9,167.4 652.6,164.9 651.4,157.4 653.9,147.4" fill="rgb(245,245,245)"/>
<polygon points="666.4,174.9 675.1,174.9 678.8,182.4 676.4,192.3 668.9,199.8 661.4,203.6 651.4,202.3 645.2,194.8 647.7,189.8 658.9,189.8 663.9,184.9" fill="rgb(245,245,245)"/>
<polygon points="594.0,187.3 604.0,189.8 609.0,197.3 607.7,207.3 601.5,214.8 594.0,217.3" fill="rgb(237,237,237)"/>
<ellipse cx="607.7" cy="177.4" rx="10" ry="4" fill="rgb(217,217,217)" transform="rotate(0 607.7 177.4)"/>
<ellipse cx="629.0" cy="202.3" rx="4" ry="7" fill="rgb(230,230,230)" transform="rotate(0 629.0 202.3)"/>
<ellipse cx="625.2" cy="136.2" rx="5" ry="5" fill="rgb(230,230,230)" transform="rotate(0 625.2 136.2)"/>
<ellipse cx="683.2" cy="152.4" rx="2.5" ry="3" fill="rgb(217,217,217)" transform="rotate(0 683.2 152.4)"/>
<ellipse cx="704.4" cy="169.3" rx="3.5" ry="2.5" fill="rgb(242,242,242)" transform="rotate(0 704.4 169.3)"/>
<ellipse cx="689.5" cy="173.7" rx="3.5" ry="2" fill="rgb(242,242,242)" transform="rotate(0 689.5 173.7)"/>
<ellipse cx="711.2" cy="146.9" rx="2" ry="2.5" fill="rgb(230,230,230)" transform="rotate(0 711.2 146.9)"/>
<ellipse cx="671.4" cy="146.2" rx="4" ry="4" fill="rgb(5,5,5)" transform="rotate(0 671.4 146.2)"/>
<ellipse cx="607.2" cy="139.3" rx="5.5" ry="3.5" fill="rgb(0,0,0)" transform="rotate(0 607.2 139.3)"/>
<ellipse cx="597.7" cy="169.9" rx="3.5" ry="2.5" fill="rgb(0,0,0)" transform="rotate(0 597.7 169.9)"/>
<polygon points="650.8,117.0 657.8,117.0 656.8,133.0 652.8,130.0" fill="rgb(0,0,0)"/>
<ellipse cx="697.3" cy="80.8" rx="7" ry="6" fill="rgb(247,247,247)" transform="rotate(0 697.3 80.8)"/>
<ellipse cx="710.8" cy="81.0" rx="4" ry="4" fill="rgb(230,230,230)" transform="rotate(0 710.8 81.0)"/>
<ellipse cx="945.8" cy="114.0" rx="5" ry="13" fill="rgb(247,247,247)" transform="rotate(0 945.8 114.0)"/>
<ellipse cx="926.3" cy="125.4" rx="6" ry="6" fill="rgb(247,247,247)" transform="rotate(0 926.3 125.4)"/>
<rect x="925.8" y="40.0" width="27.0" height="5.0" fill="rgb(153,153,153)"/>
<ellipse cx="919.1" cy="230.8" rx="9" ry="6" fill="rgb(247,247,247)" transform="rotate(0 919.1 230.8)"/>
<ellipse cx="883.1" cy="253.8" rx="6" ry="5" fill="rgb(178,178,178)" transform="rotate(0 883.1 253.8)"/>
<ellipse cx="839.9" cy="299.9" rx="7" ry="6" fill="rgb(247,247,247)" transform="rotate(0 839.9 299.9)"/>
<ellipse cx="863.0" cy="328.7" rx="7" ry="5" fill="rgb(242,242,242)" transform="rotate(0 863.0 328.7)"/>
<ellipse cx="911.9" cy="328.0" rx="8" ry="8" fill="rgb(247,247,247)" transform="rotate(0 911.9 328.0)"/>
<ellipse cx="923.4" cy="298.4" rx="4" ry="4" fill="rgb(230,230,230)" transform="rotate(0 923.4 298.4)"/>
<ellipse cx="946.8" cy="305.0" rx="6" ry="10" fill="rgb(191,191,191)" transform="rotate(0 946.8 305.0)"/>
<ellipse cx="816.8" cy="264.0" rx="3" ry="3" fill="rgb(230,230,230)" transform="rotate(0 816.8 264.0)"/>
<ellipse cx="832.8" cy="265.0" rx="3" ry="4" fill="rgb(230,230,230)" transform="rotate(0 832.8 265.0)"/>
<ellipse cx="703.1" cy="302.8" rx="11" ry="4" fill="rgb(242,242,242)" transform="rotate(-10 703.1 302.8)"/>
<ellipse cx="756.4" cy="304.2" rx="6" ry="6" fill="rgb(242,242,242)" transform="rotate(0 756.4 304.2)"/>
<ellipse cx="689.8" cy="291.0" rx="3" ry="3" fill="rgb(230,230,230)" transform="rotate(0 689.8 291.0)"/>
<ellipse cx="635.8" cy="299.0" rx="3" ry="3" fill="rgb(230,230,230)" transform="rotate(0 635.8 299.0)"/>
</g>
</g>
</g>
<polygon points="717.6,60.0 718.6,53.0 722.6,53.0 729.6,55.0 734.6,59.0 738.6,63.9 739.6,68.9 738.6,73.9 738.1,76.9 740.6,80.9 743.6,85.9 745.6,91.9 740.6,95.9 741.6,100.9 745.6,105.9 746.6,111.8 749.6,119.9 751.9,125.7 757.6,130.3 762.2,134.0 762.2,140.1 772.6,147.0 773.8,150.0 768.0,155.0 766.1,164.5 768.0,174.1 777.6,179.9 785.3,185.7 789.1,193.3 787.2,201.0 773.7,202.9 764.1,201.0 758.4,208.7 748.8,210.6 743.0,216.4 735.3,220.2 735.3,226.0 743.0,229.8 746.9,237.5 754.5,245.2 764.1,252.8 773.7,256.7 783.3,262.4 781.4,268.2 777.6,275.9 771.8,281.6 764.1,279.7 758.4,275.9 752.6,271.1 741.1,272.0 727.7,274.0 718.1,277.8 708.5,281.6 703.6,281.9 698.6,277.9 692.6,273.9 684.6,271.9 676.6,269.9 668.6,270.9 660.7,269.9 666.6,274.9 668.6,279.9 670.6,285.8 668.6,291.8 666.6,296.8 658.7,297.8 652.7,296.8 648.7,299.8 644.7,302.8 640.7,302.8 633.7,297.8 628.7,294.8 624.7,295.8 625.7,284.9 626.7,277.9 623.7,269.9 622.7,254.9 616.7,249.9 615.7,241.9 614.7,237.9 610.8,234.0 608.8,228.0 607.8,223.0 613.8,220.8 621.7,217.8 628.7,211.8 634.7,201.8 636.7,191.9 640.7,187.9 642.7,192.9 646.7,200.8 653.7,204.8 663.7,202.8 673.6,198.8 678.6,191.9 680.6,185.9 684.6,179.9 693.6,175.9 703.6,171.9 710.6,163.9 710.6,154.9 713.6,149.9 712.6,143.0 705.6,135.0 693.6,133.0 684.6,130.0 680.7,122.8 679.7,119.8 679.7,117.3 651.8,117.3 651.8,107.9 649.3,106.4 657.7,97.9 657.7,91.9 659.7,87.9 662.2,81.9 664.7,79.9 669.7,79.4 671.7,80.9 685.2,80.9 686.2,77.9 689.7,73.9 689.7,65.9 690.7,63.4 694.7,61.4 696.7,58.5 699.7,57.0 702.7,58.0 704.2,60.5 707.6,60.0 709.6,61.4 716.6,61.4" fill="#440154"/>
<g clip-path="url(#mk1)"><g filter="url(#it1)">
<polygon points="747.1,105.9 748.1,111.8 751.1,119.9 753.4,125.7 759.1,130.3 763.7,134.0 763.7,140.1 774.1,147.0 775.3,150.0 767.8,150.0 766.6,147.0 756.2,140.1 756.2,134.0 751.6,130.3 745.9,125.7 743.6,119.9 740.6,111.8 739.6,105.9" fill="#f6e522"/>
<polygon points="767.6,164.5 769.5,174.1 779.1,179.9 786.8,185.7 790.6,193.3 783.1,193.3 779.3,185.7 771.6,179.9 762.0,174.1 760.1,164.5" fill="#e6e419"/>
<polygon points="717.8,55.0 726.8,56.0 732.8,60.0 728.8,62.0 720.8,59.0" fill="#d8e219"/>
<ellipse cx="776.8" cy="227.0" rx="4" ry="7" fill="#f1e51d" transform="rotate(0 776.8 227.0)"/>
<ellipse cx="760.8" cy="213.0" rx="5" ry="3" fill="#e0e318" transform="rotate(0 760.8 213.0)"/>
<ellipse cx="738.8" cy="232.0" rx="3" ry="3" fill="#c8e020" transform="rotate(0 738.8 232.0)"/>
<ellipse cx="783.8" cy="258.0" rx="4" ry="3" fill="#e8e41a" transform="rotate(0 783.8 258.0)"/>
</g></g>
<defs><filter id="vf2" filterUnits="userSpaceOnUse" x="1051.5" y="29.5" width="380.9000000000001" height="322.7" color-interpolation-filters="sRGB"><feGaussianBlur in="SourceGraphic" stdDeviation="1.0" result="g"/><feTurbulence type="fractalNoise" baseFrequency="0.1" numOctaves="3" seed="5" result="n"/><feColorMatrix in="n" type="matrix" values="1 0 0 0 0 1 0 0 0 0 1 0 0 0 0 0 0 0 0 1" result="n1"/><feComposite in="g" in2="n1" operator="arithmetic" k1="0" k2="1" k3="0.3" k4="-0.15" result="v"/><feComponentTransfer in="v"><feFuncR type="table" tableValues="0.2670 0.2770 0.2823 0.2829 0.2788 0.2706 0.2590 0.2450 0.2297 0.2143 0.1994 0.1856 0.1727 0.1607 0.1490 0.1378 0.1276 0.1206 0.1206 0.1323 0.1579 0.1966 0.2461 0.3041 0.3692 0.4401 0.5160 0.5958 0.6785 0.7624 0.8456 0.9261 0.9932"/><feFuncG type="table" tableValues="0.0049 0.0503 0.0950 0.1359 0.1755 0.2141 0.2515 0.2877 0.3224 0.3556 0.3876 0.4186 0.4488 0.4785 0.5081 0.5375 0.5669 0.5964 0.6258 0.6550 0.6838 0.7118 0.7389 0.7647 0.7889 0.8111 0.8312 0.8487 0.8637 0.8764 0.8873 0.8973 0.9062"/><feFuncB type="table" tableValues="0.3294 0.3757 0.4173 0.4534 0.4834 0.5071 0.5247 0.5373 0.5457 0.5512 0.5546 0.5568 0.5579 0.5581 0.5573 0.5549 0.5506 0.5436 0.5335 0.5197 0.5017 0.4792 0.4520 0.4199 0.3829 0.3410 0.2943 0.2433 0.1895 0.1371 0.0997 0.1041 0.1439"/><feFuncA type="linear" slope="0" intercept="1"/></feComponentTransfer></filter><filter id="gb2" filterUnits="userSpaceOnUse" x="1041.5" y="19.5" width="400.9000000000001" height="342.7" color-interpolation-filters="sRGB"><feGaussianBlur stdDeviation="7"/></filter><filter id="it2" filterUnits="userSpaceOnUse" x="1041.5" y="19.5" width="400.9000000000001" height="342.7" color-interpolation-filters="sRGB"><feTurbulence type="fractalNoise" baseFrequency="0.12" numOctaves="2" seed="9" result="t"/><feDisplacementMap in="SourceGraphic" in2="t" scale="6" xChannelSelector="R" yChannelSelector="G" result="d"/><feGaussianBlur in="d" stdDeviation="4"/></filter><clipPath id="mk2"><polygon points="1192.3,42.0 1421.0,42.0 1421.0,342.2 1064.8,342.2 1065.3,335.4 1073.8,331.7 1080.6,324.3 1080.1,321.7 1076.4,310.1 1079.1,306.4 1087.5,298.2 1093.8,297.4 1095.4,295.3 1095.9,284.9 1096.9,277.9 1093.9,269.9 1092.9,254.9 1086.9,249.9 1085.9,241.9 1084.9,237.9 1081.0,234.0 1079.0,228.0 1078.0,223.0 1072.0,219.0 1064.0,216.0 1064.0,149.9 1072.0,143.0 1074.0,139.0 1084.0,133.0 1091.9,128.0 1100.9,123.0 1108.9,122.0 1117.5,121.8 1120.5,116.8 1124.0,121.8 1125.0,119.8 1133.9,118.8 1149.9,119.8 1149.9,117.3 1122.0,117.3 1122.0,107.9 1119.5,106.4 1127.9,97.9 1127.9,91.9 1129.9,87.9 1132.4,81.9 1134.9,79.9 1139.9,79.4 1141.9,80.9 1155.4,80.9 1156.4,77.9 1159.9,73.9 1159.9,65.9 1160.9,63.4 1164.9,61.4 1166.9,58.5 1169.9,57.0 1172.9,58.0 1174.4,60.5 1177.8,60.0 1179.8,61.4 1186.8,61.4 1187.8,60.0 1189.8,52.0 1192.3,51.0" fill="#000"/></clipPath></defs>
<g clip-path="url(#mk2)"><g filter="url(#vf2)">
<rect x="1051.5" y="29.5" width="380.9000000000001" height="322.7" fill="rgb(178,178,178)"/>
<g filter="url(#gb2)">
<rect x="1049.5" y="27.5" width="42.0" height="42.0" fill="rgb(206,206,206)"/>
<rect x="1091.5" y="27.5" width="30.0" height="42.0" fill="rgb(208,208,208)"/>
<rect x="1121.5" y="27.5" width="30.0" height="42.0" fill="rgb(208,208,208)"/>
<rect x="1151.5" y="27.5" width="30.0" height="42.0" fill="rgb(204,204,204)"/>
<rect x="1181.5" y="27.5" width="30.0" height="42.0" fill="rgb(217,217,217)"/>
<rect x="1211.5" y="27.5" width="30.0" height="42.0" fill="rgb(196,196,196)"/>
<rect x="1241.5" y="27.5" width="30.0" height="42.0" fill="rgb(204,204,204)"/>
<rect x="1271.5" y="27.5" width="30.0" height="42.0" fill="rgb(196,196,196)"/>
<rect x="1301.5" y="27.5" width="30.0" height="42.0" fill="rgb(153,153,153)"/>
<rect x="1331.5" y="27.5" width="30.0" height="42.0" fill="rgb(166,166,166)"/>
<rect x="1361.5" y="27.5" width="30.0" height="42.0" fill="rgb(186,186,186)"/>
<rect x="1391.5" y="27.5" width="42.0" height="42.0" fill="rgb(191,191,191)"/>
<rect x="1049.5" y="69.5" width="42.0" height="30.0" fill="rgb(204,204,204)"/>
<rect x="1091.5" y="69.5" width="30.0" height="30.0" fill="rgb(208,208,208)"/>
<rect x="1121.5" y="69.5" width="30.0" height="30.0" fill="rgb(212,212,212)"/>
<rect x="1151.5" y="69.5" width="30.0" height="30.0" fill="rgb(204,204,204)"/>
<rect x="1181.5" y="69.5" width="30.0" height="30.0" fill="rgb(212,212,212)"/>
<rect x="1211.5" y="69.5" width="30.0" height="30.0" fill="rgb(186,186,186)"/>
<rect x="1241.5" y="69.5" width="30.0" height="30.0" fill="rgb(204,204,204)"/>
<rect x="1271.5" y="69.5" width="30.0" height="30.0" fill="rgb(212,212,212)"/>
<rect x="1301.5" y="69.5" width="30.0" height="30.0" fill="rgb(161,161,161)"/>
<rect x="1331.5" y="69.5" width="30.0" height="30.0" fill="rgb(145,145,145)"/>
<rect x="1361.5" y="69.5" width="30.0" height="30.0" fill="rgb(186,186,186)"/>
<rect x="1391.5" y="69.5" width="42.0" height="30.0" fill="rgb(196,196,196)"/>
<rect x="1049.5" y="99.5" width="42.0" height="30.0" fill="rgb(200,200,200)"/>
<rect x="1091.5" y="99.5" width="30.0" height="30.0" fill="rgb(204,204,204)"/>
<rect x="1121.5" y="99.5" width="30.0" height="30.0" fill="rgb(204,204,204)"/>
<rect x="1151.5" y="99.5" width="30.0" height="30.0" fill="rgb(196,196,196)"/>
<rect x="1181.5" y="99.5" width="30.0" height="30.0" fill="rgb(212,212,212)"/>
<rect x="1211.5" y="99.5" width="30.0" height="30.0" fill="rgb(171,171,171)"/>
<rect x="1241.5" y="99.5" width="30.0" height="30.0" fill="rgb(166,166,166)"/>
<rect x="1271.5" y="99.5" width="30.0" height="30.0" fill="rgb(166,166,166)"/>
<rect x="1301.5" y="99.5" width="30.0" height="30.0" fill="rgb(128,128,128)"/>
<rect x="1331.5" y="99.5" width="30.0" height="30.0" fill="rgb(120,120,120)"/>
<rect x="1361.5" y="99.5" width="30.0" height="30.0" fill="rgb(166,166,166)"/>
<rect x="1391.5" y="99.5" width="42.0" height="30.0" fill="rgb(186,186,186)"/>
<rect x="1049.5" y="129.5" width="42.0" height="30.0" fill="rgb(196,196,196)"/>
<rect x="1091.5" y="129.5" width="30.0" height="30.0" fill="rgb(186,186,186)"/>
<rect x="1121.5" y="129.5" width="30.0" height="30.0" fill="rgb(171,171,171)"/>
<rect x="1151.5" y="129.5" width="30.0" height="30.0" fill="rgb(191,191,191)"/>
<rect x="1181.5" y="129.5" width="30.0" height="30.0" fill="rgb(217,217,217)"/>
<rect x="1211.5" y="129.5" width="30.0" height="30.0" fill="rgb(217,217,217)"/>
<rect x="1241.5" y="129.5" width="30.0" height="30.0" fill="rgb(222,222,222)"/>
<rect x="1271.5" y="129.5" width="30.0" height="30.0" fill="rgb(191,191,191)"/>
<rect x="1301.5" y="129.5" width="30.0" height="30.0" fill="rgb(145,145,145)"/>
<rect x="1331.5" y="129.5" width="30.0" height="30.0" fill="rgb(140,140,140)"/>
<rect x="1361.5" y="129.5" width="30.0" height="30.0" fill="rgb(153,153,153)"/>
<rect x="1391.5" y="129.5" width="42.0" height="30.0" fill="rgb(140,140,140)"/>
<rect x="1049.5" y="159.5" width="42.0" height="30.0" fill="rgb(196,196,196)"/>
<rect x="1091.5" y="159.5" width="30.0" height="30.0" fill="rgb(140,140,140)"/>
<rect x="1121.5" y="159.5" width="30.0" height="30.0" fill="rgb(166,166,166)"/>
<rect x="1151.5" y="159.5" width="30.0" height="30.0" fill="rgb(212,212,212)"/>
<rect x="1181.5" y="159.5" width="30.0" height="30.0" fill="rgb(217,217,217)"/>
<rect x="1211.5" y="159.5" width="30.0" height="30.0" fill="rgb(204,204,204)"/>
<rect x="1241.5" y="159.5" width="30.0" height="30.0" fill="rgb(230,230,230)"/>
<rect x="1271.5" y="159.5" width="30.0" height="30.0" fill="rgb(196,196,196)"/>
<rect x="1301.5" y="159.5" width="30.0" height="30.0" fill="rgb(161,161,161)"/>
<rect x="1331.5" y="159.5" width="30.0" height="30.0" fill="rgb(128,128,128)"/>
<rect x="1361.5" y="159.5" width="30.0" height="30.0" fill="rgb(145,145,145)"/>
<rect x="1391.5" y="159.5" width="42.0" height="30.0" fill="rgb(115,115,115)"/>
<rect x="1049.5" y="189.5" width="42.0" height="30.0" fill="rgb(179,179,179)"/>
<rect x="1091.5" y="189.5" width="30.0" height="30.0" fill="rgb(153,153,153)"/>
<rect x="1121.5" y="189.5" width="30.0" height="30.0" fill="rgb(166,166,166)"/>
<rect x="1151.5" y="189.5" width="30.0" height="30.0" fill="rgb(140,140,140)"/>
<rect x="1181.5" y="189.5" width="30.0" height="30.0" fill="rgb(217,217,217)"/>
<rect x="1211.5" y="189.5" width="30.0" height="30.0" fill="rgb(222,222,222)"/>
<rect x="1241.5" y="189.5" width="30.0" height="30.0" fill="rgb(230,230,230)"/>
<rect x="1271.5" y="189.5" width="30.0" height="30.0" fill="rgb(217,217,217)"/>
<rect x="1301.5" y="189.5" width="30.0" height="30.0" fill="rgb(196,196,196)"/>
<rect x="1331.5" y="189.5" width="30.0" height="30.0" fill="rgb(153,153,153)"/>
<rect x="1361.5" y="189.5" width="30.0" height="30.0" fill="rgb(166,166,166)"/>
<rect x="1391.5" y="189.5" width="42.0" height="30.0" fill="rgb(145,145,145)"/>
<rect x="1049.5" y="219.5" width="42.0" height="30.0" fill="rgb(191,191,191)"/>
<rect x="1091.5" y="219.5" width="30.0" height="30.0" fill="rgb(120,120,120)"/>
<rect x="1121.5" y="219.5" width="30.0" height="30.0" fill="rgb(128,128,128)"/>
<rect x="1151.5" y="219.5" width="30.0" height="30.0" fill="rgb(145,145,145)"/>
<rect x="1181.5" y="219.5" width="30.0" height="30.0" fill="rgb(196,196,196)"/>
<rect x="1211.5" y="219.5" width="30.0" height="30.0" fill="rgb(217,217,217)"/>
<rect x="1241.5" y="219.5" width="30.0" height="30.0" fill="rgb(191,191,191)"/>
<rect x="1271.5" y="219.5" width="30.0" height="30.0" fill="rgb(222,222,222)"/>
<rect x="1301.5" y="219.5" width="30.0" height="30.0" fill="rgb(171,171,171)"/>
<rect x="1331.5" y="219.5" width="30.0" height="30.0" fill="rgb(120,120,120)"/>
<rect x="1361.5" y="219.5" width="30.0" height="30.0" fill="rgb(186,186,186)"/>
<rect x="1391.5" y="219.5" width="42.0" height="30.0" fill="rgb(179,179,179)"/>
<rect x="1049.5" y="249.5" width="42.0" height="30.0" fill="rgb(191,191,191)"/>
<rect x="1091.5" y="249.5" width="30.0" height="30.0" fill="rgb(166,166,166)"/>
<rect x="1121.5" y="249.5" width="30.0" height="30.0" fill="rgb(204,204,204)"/>
<rect x="1151.5" y="249.5" width="30.0" height="30.0" fill="rgb(196,196,196)"/>
<rect x="1181.5" y="249.5" width="30.0" height="30.0" fill="rgb(212,212,212)"/>
<rect x="1211.5" y="249.5" width="30.0" height="30.0" fill="rgb(222,222,222)"/>
<rect x="1241.5" y="249.5" width="30.0" height="30.0" fill="rgb(230,230,230)"/>
<rect x="1271.5" y="249.5" width="30.0" height="30.0" fill="rgb(230,230,230)"/>
<rect x="1301.5" y="249.5" width="30.0" height="30.0" fill="rgb(212,212,212)"/>
<rect x="1331.5" y="249.5" width="30.0" height="30.0" fill="rgb(140,140,140)"/>
<rect x="1361.5" y="249.5" width="30.0" height="30.0" fill="rgb(166,166,166)"/>
<rect x="1391.5" y="249.5" width="42.0" height="30.0" fill="rgb(186,186,186)"/>
<rect x="1049.5" y="279.5" width="42.0" height="30.0" fill="rgb(191,191,191)"/>
<rect x="1091.5" y="279.5" width="30.0" height="30.0" fill="rgb(191,191,191)"/>
<rect x="1121.5" y="279.5" width="30.0" height="30.0" fill="rgb(204,204,204)"/>
<rect x="1151.5" y="279.5" width="30.0" height="30.0" fill="rgb(153,153,153)"/>
<rect x="1181.5" y="279.5" width="30.0" height="30.0" fill="rgb(212,212,212)"/>
<rect x="1211.5" y="279.5" width="30.0" height="30.0" fill="rgb(191,191,191)"/>
<rect x="1241.5" y="279.5" width="30.0" height="30.0" fill="rgb(212,212,212)"/>
<rect x="1271.5" y="279.5" width="30.0" height="30.0" fill="rgb(191,191,191)"/>
<rect x="1301.5" y="279.5" width="30.0" height="30.0" fill="rgb(212,212,212)"/>
<rect x="1331.5" y="279.5" width="30.0" height="30.0" fill="rgb(191,191,191)"/>
<rect x="1361.5" y="279.5" width="30.0" height="30.0" fill="rgb(171,171,171)"/>
<rect x="1391.5" y="279.5" width="42.0" height="30.0" fill="rgb(196,196,196)"/>
<rect x="1049.5" y="309.5" width="42.0" height="42.0" fill="rgb(191,191,191)"/>
<rect x="1091.5" y="309.5" width="30.0" height="42.0" fill="rgb(171,171,171)"/>
<rect x="1121.5" y="309.5" width="30.0" height="42.0" fill="rgb(153,153,153)"/>
<rect x="1151.5" y="309.5" width="30.0" height="42.0" fill="rgb(171,171,171)"/>
<rect x="1181.5" y="309.5" width="30.0" height="42.0" fill="rgb(196,196,196)"/>
<rect x="1211.5" y="309.5" width="30.0" height="42.0" fill="rgb(171,171,171)"/>
<rect x="1241.5" y="309.5" width="30.0" height="42.0" fill="rgb(153,153,153)"/>
<rect x="1271.5" y="309.5" width="30.0" height="42.0" fill="rgb(145,145,145)"/>
<rect x="1301.5" y="309.5" width="30.0" height="42.0" fill="rgb(153,153,153)"/>
<rect x="1331.5" y="309.5" width="30.0" height="42.0" fill="rgb(171,171,171)"/>
<rect x="1361.5" y="309.5" width="30.0" height="42.0" fill="rgb(196,196,196)"/>
<rect x="1391.5" y="309.5" width="42.0" height="42.0" fill="rgb(212,212,212)"/>
</g>
<g filter="url(#it2)">
<ellipse cx="1128.0" cy="238.0" rx="40" ry="24" fill="rgb(107,107,107)" transform="rotate(-25 1128.0 238.0)"/>
<ellipse cx="1120.0" cy="175.0" rx="26" ry="12" fill="rgb(128,128,128)" transform="rotate(20 1120.0 175.0)"/>
<ellipse cx="1343.0" cy="126.0" rx="22" ry="30" fill="rgb(115,115,115)" transform="rotate(0 1343.0 126.0)"/>
<ellipse cx="1407.0" cy="150.0" rx="14" ry="24" fill="rgb(115,115,115)" transform="rotate(0 1407.0 150.0)"/>
<ellipse cx="1353.0" cy="242.0" rx="24" ry="22" fill="rgb(107,107,107)" transform="rotate(0 1353.0 242.0)"/>
<ellipse cx="1259.0" cy="242.0" rx="9" ry="8" fill="rgb(128,128,128)" transform="rotate(0 1259.0 242.0)"/>
<ellipse cx="1322.0" cy="50.0" rx="12" ry="8" fill="rgb(128,128,128)" transform="rotate(0 1322.0 50.0)"/>
<ellipse cx="1200.0" cy="312.0" rx="22" ry="12" fill="rgb(140,140,140)" transform="rotate(20 1200.0 312.0)"/>
<ellipse cx="1275.0" cy="330.0" rx="25" ry="12" fill="rgb(140,140,140)" transform="rotate(15 1275.0 330.0)"/>
<ellipse cx="1128.0" cy="322.0" rx="16" ry="10" fill="rgb(140,140,140)" transform="rotate(20 1128.0 322.0)"/>
<ellipse cx="1252.0" cy="157.0" rx="70" ry="10" fill="rgb(230,230,230)" transform="rotate(35 1252.0 157.0)"/>
<ellipse cx="1289.0" cy="247.0" rx="80" ry="9" fill="rgb(230,230,230)" transform="rotate(32 1289.0 247.0)"/>
<ellipse cx="1138.0" cy="288.0" rx="44" ry="7" fill="rgb(224,224,224)" transform="rotate(27 1138.0 288.0)"/>
<ellipse cx="1096.0" cy="95.0" rx="30" ry="18" fill="rgb(217,217,217)" transform="rotate(-10 1096.0 95.0)"/>
</g>
</g>
<polyline points="1064.8,345.0 1064.8,342.2 1065.3,335.4 1073.8,331.7 1080.6,324.3 1080.1,321.7 1076.4,310.1 1079.1,306.4 1087.5,298.2 1093.8,297.4 1095.4,295.3 1095.9,284.9 1096.9,277.9 1093.9,269.9 1092.9,254.9 1086.9,249.9 1085.9,241.9 1084.9,237.9 1081.0,234.0 1079.0,228.0 1078.0,223.0 1072.0,219.0 1064.0,216.0 1064.0,149.9 1072.0,143.0 1074.0,139.0 1084.0,133.0 1091.9,128.0 1100.9,123.0 1108.9,122.0 1117.5,121.8 1120.5,116.8 1124.0,121.8 1125.0,119.8 1133.9,118.8 1149.9,119.8 1149.9,117.3 1122.0,117.3 1122.0,107.9 1119.5,106.4 1127.9,97.9 1127.9,91.9 1129.9,87.9 1132.4,81.9 1134.9,79.9 1139.9,79.4 1141.9,80.9 1155.4,80.9 1156.4,77.9 1159.9,73.9 1159.9,65.9 1160.9,63.4 1164.9,61.4 1166.9,58.5 1169.9,57.0 1172.9,58.0 1174.4,60.5 1177.8,60.0 1179.8,61.4 1186.8,61.4 1187.8,60.0 1189.8,52.0 1192.3,51.0 1192.3,42.0 1421.0,42.0" fill="none" stroke="#f0e51f" stroke-width="7" stroke-linejoin="round"/>
</g>
<g clip-path="url(#clipT0)" fill="none" stroke="#808080" stroke-width="1.7" stroke-dasharray="7.4 3.6">
<polyline points="-197.5,-134.8 -194.3,-122.1 -191.1,-109.4 -187.8,-96.8 -184.5,-84.2 -181.2,-71.6 -177.8,-59.1 -174.3,-46.5 -170.8,-34.0 -167.3,-21.5 -163.7,-9.1 -160.1,3.4 -156.4,15.8 -152.7,28.2 -148.9,40.5 -145.1,52.9 -141.3,65.2 -137.4,77.5 -133.4,89.8 -129.4,102.0 -125.4,114.2 -121.3,126.4 -117.2,138.6 -113.0,150.8 -108.8,162.9 -104.5,175.0 -100.2,187.1 -95.8,199.1 -91.4,211.2 -87.0,223.2 -82.5,235.2 -78.0,247.1 -73.4,259.1 -68.8,271.0 -64.1,282.9 -59.4,294.7 -54.6,306.6 -49.8,318.4 -45.0,330.2 -40.1,342.0 -35.1,353.7 -30.1,365.4 -25.1,377.1 -20.0,388.8 -14.9,400.5 -9.7,412.1 -4.5,423.7 0.8,435.3 6.1,446.9 11.4,458.4 16.8,469.9 22.3,481.4 27.8,492.8 33.3,504.3 38.9,515.7 44.5,527.1 50.2,538.5 55.9,549.8 61.7,561.1 67.5,572.4 73.3,583.7 79.2,594.9 85.2,606.2 91.1,617.4 97.2,628.6 103.3,639.7 109.4,650.8 115.5,661.9 121.8,673.0 128.0,684.1 134.3,695.1 140.7,706.1 147.1,717.1 153.5,728.1 160.0,739.0 166.5,749.9 173.1,760.8 179.7,771.7 186.4,782.6 193.1,793.4"/>
<polyline points="-110.4,-155.5 -107.4,-143.1 -104.3,-130.8 -101.2,-118.6 -98.0,-106.3 -94.8,-94.1 -91.6,-81.9 -88.3,-69.7 -84.9,-57.5 -81.5,-45.4 -78.1,-33.3 -74.6,-21.2 -71.1,-9.1 -67.5,2.9 -63.9,15.0 -60.2,26.9 -56.5,38.9 -52.8,50.9 -49.0,62.8 -45.1,74.7 -41.2,86.6 -37.3,98.4 -33.3,110.2 -29.3,122.1 -25.2,133.8 -21.1,145.6 -16.9,157.3 -12.7,169.0 -8.5,180.7 -4.2,192.4 0.2,204.0 4.5,215.6 9.0,227.2 13.5,238.8 18.0,250.3 22.6,261.9 27.2,273.4 31.8,284.8 36.5,296.3 41.3,307.7 46.1,319.1 50.9,330.5 55.8,341.8 60.7,353.2 65.7,364.5 70.8,375.8 75.8,387.0 80.9,398.2 86.1,409.5 91.3,420.6 96.6,431.8 101.8,442.9 107.2,454.1 112.6,465.2 118.0,476.2 123.5,487.3 129.0,498.3 134.6,509.3 140.2,520.3 145.9,531.2 151.6,542.1 157.3,553.0 163.1,563.9 168.9,574.8 174.8,585.6 180.8,596.4 186.7,607.2 192.8,618.0 198.8,628.7 204.9,639.4 211.1,650.1 217.3,660.8 223.6,671.4 229.8,682.0 236.2,692.6 242.6,703.2 249.0,713.7 255.5,724.2 262.0,734.7 268.6,745.2"/>
<polyline points="-23.6,-176.0 -20.8,-164.1 -17.8,-152.1 -14.9,-140.2 -11.8,-128.3 -8.8,-116.4 -5.7,-104.5 -2.5,-92.7 0.7,-80.9 3.9,-69.1 7.2,-57.3 10.5,-45.6 13.9,-33.8 17.3,-22.2 20.8,-10.5 24.3,1.2 27.9,12.8 31.5,24.4 35.2,36.0 38.8,47.5 42.6,59.0 46.4,70.6 50.2,82.0 54.1,93.5 58.0,104.9 62.0,116.3 66.0,127.7 70.1,139.1 74.2,150.4 78.3,161.7 82.5,173.0 86.8,184.3 91.0,195.5 95.4,206.8 99.7,218.0 104.2,229.1 108.6,240.3 113.2,251.4 117.7,262.5 122.3,273.6 127.0,284.6 131.7,295.7 136.4,306.7 141.2,317.7 146.0,328.6 150.9,339.6 155.8,350.5 160.8,361.3 165.8,372.2 170.9,383.1 176.0,393.9 181.1,404.7 186.3,415.4 191.5,426.2 196.8,436.9 202.2,447.6 207.5,458.3 213.0,468.9 218.4,479.5 223.9,490.1 229.5,500.7 235.1,511.3 240.7,521.8 246.4,532.3 252.2,542.8 258.0,553.3 263.8,563.7 269.7,574.1 275.6,584.5 281.5,594.9 287.6,605.2 293.6,615.5 299.7,625.8 305.9,636.1 312.1,646.3 318.3,656.5 324.6,666.7 330.9,676.9 337.3,687.1 343.7,697.2"/>
<polyline points="62.8,-196.5 65.6,-184.8 68.3,-173.2 71.2,-161.6 74.0,-150.1 77.0,-138.5 79.9,-127.0 82.9,-115.5 86.0,-104.1 89.1,-92.6 92.2,-81.2 95.4,-69.8 98.6,-58.4 101.9,-47.1 105.2,-35.8 108.6,-24.5 112.0,-13.2 115.5,-1.9 119.0,9.3 122.5,20.5 126.1,31.7 129.8,42.8 133.4,54.0 137.2,65.1 140.9,76.2 144.8,87.2 148.6,98.3 152.5,109.3 156.5,120.3 160.5,131.2 164.6,142.2 168.7,153.1 172.8,164.0 177.0,174.9 181.2,185.7 185.5,196.5 189.8,207.3 194.2,218.1 198.6,228.9 203.0,239.6 207.5,250.3 212.1,261.0 216.7,271.7 221.3,282.3 226.0,292.9 230.7,303.5 235.5,314.1 240.3,324.6 245.2,335.1 250.1,345.6 255.1,356.1 260.1,366.5 265.1,376.9 270.2,387.3 275.3,397.7 280.5,408.1 285.8,418.4 291.0,428.7 296.3,439.0 301.7,449.2 307.1,459.5 312.6,469.7 318.1,479.8 323.6,490.0 329.2,500.1 334.8,510.3 340.5,520.3 346.3,530.4 352.0,540.4 357.8,550.5 363.7,560.5 369.6,570.4 375.6,580.4 381.6,590.3 387.6,600.2 393.7,610.1 399.8,619.9 406.0,629.7 412.3,639.6 418.5,649.3"/>
<polyline points="149.0,-216.8 151.6,-205.5 154.2,-194.2 156.9,-183.0 159.6,-171.8 162.4,-160.6 165.2,-149.4 168.0,-138.2 170.9,-127.1 173.9,-116.0 176.9,-105.0 179.9,-93.9 183.0,-82.9 186.1,-71.9 189.3,-60.9 192.5,-50.0 195.8,-39.0 199.1,-28.1 202.5,-17.2 205.9,-6.4 209.3,4.4 212.8,15.3 216.4,26.0 219.9,36.8 223.6,47.5 227.2,58.3 231.0,69.0 234.7,79.6 238.5,90.3 242.4,100.9 246.3,111.5 250.2,122.1 254.2,132.6 258.3,143.1 262.4,153.6 266.5,164.1 270.7,174.6 274.9,185.0 279.1,195.4 283.5,205.8 287.8,216.1 292.2,226.5 296.7,236.8 301.1,247.1 305.7,257.3 310.3,267.6 314.9,277.8 319.6,288.0 324.3,298.2 329.0,308.3 333.9,318.4 338.7,328.5 343.6,338.6 348.6,348.6 353.5,358.7 358.6,368.7 363.7,378.7 368.8,388.6 374.0,398.5 379.2,408.5 384.4,418.3 389.7,428.2 395.1,438.0 400.5,447.8 405.9,457.6 411.4,467.4 417.0,477.1 422.5,486.9 428.2,496.5 433.8,506.2 439.6,515.9 445.3,525.5 451.1,535.1 457.0,544.7 462.9,554.2 468.8,563.7 474.8,573.2 480.8,582.7 486.9,592.2 493.0,601.6"/>
<polyline points="234.8,-236.9 237.3,-225.9 239.8,-215.0 242.3,-204.1 244.9,-193.3 247.5,-182.4 250.2,-171.6 252.9,-160.8 255.6,-150.0 258.4,-139.3 261.3,-128.6 264.2,-117.9 267.1,-107.2 270.1,-96.5 273.1,-85.9 276.2,-75.3 279.3,-64.7 282.5,-54.2 285.7,-43.6 288.9,-33.1 292.2,-22.6 295.6,-12.2 299.0,-1.7 302.4,8.7 305.9,19.1 309.4,29.4 313.0,39.8 316.6,50.1 320.3,60.4 324.0,70.7 327.7,80.9 331.5,91.2 335.4,101.4 339.3,111.5 343.2,121.7 347.2,131.8 351.2,141.9 355.3,152.0 359.4,162.1 363.6,172.1 367.8,182.1 372.0,192.1 376.3,202.1 380.7,212.0 385.1,221.9 389.5,231.8 394.0,241.7 398.5,251.5 403.1,261.4 407.7,271.2 412.3,280.9 417.0,290.7 421.8,300.4 426.6,310.1 431.4,319.8 436.3,329.4 441.3,339.1 446.2,348.7 451.3,358.3 456.3,367.8 461.4,377.4 466.6,386.9 471.8,396.4 477.1,405.8 482.4,415.3 487.7,424.7 493.1,434.1 498.5,443.4 504.0,452.8 509.5,462.1 515.1,471.4 520.7,480.7 526.4,489.9 532.1,499.2 537.8,508.4 543.6,517.6 549.5,526.7 555.3,535.8 561.3,545.0 567.2,554.0"/>
<polyline points="320.4,-256.9 322.7,-246.3 325.0,-235.7 327.4,-225.2 329.8,-214.6 332.3,-204.2 334.8,-193.7 337.4,-183.2 340.0,-172.8 342.6,-162.4 345.3,-152.0 348.1,-141.7 350.9,-131.3 353.7,-121.0 356.6,-110.8 359.5,-100.5 362.5,-90.3 365.5,-80.1 368.6,-69.9 371.7,-59.7 374.8,-49.6 378.0,-39.4 381.3,-29.4 384.6,-19.3 387.9,-9.2 391.3,0.8 394.7,10.8 398.2,20.7 401.7,30.7 405.2,40.6 408.9,50.5 412.5,60.4 416.2,70.3 419.9,80.1 423.7,89.9 427.6,99.7 431.4,109.4 435.4,119.2 439.3,128.9 443.4,138.6 447.4,148.2 451.5,157.9 455.7,167.5 459.9,177.1 464.1,186.7 468.4,196.2 472.7,205.7 477.1,215.2 481.5,224.7 486.0,234.1 490.5,243.6 495.1,253.0 499.7,262.4 504.3,271.7 509.0,281.0 513.8,290.4 518.5,299.6 523.4,308.9 528.3,318.1 533.2,327.3 538.1,336.5 543.2,345.7 548.2,354.8 553.3,364.0 558.5,373.1 563.7,382.1 568.9,391.2 574.2,400.2 579.5,409.2 584.9,418.2 590.3,427.1 595.8,436.0 601.3,444.9 606.9,453.8 612.5,462.7 618.1,471.5 623.8,480.3 629.5,489.1 635.3,497.9 641.1,506.6"/>
<polyline points="405.6,-276.7 407.8,-266.5 410.0,-256.2 412.2,-246.0 414.5,-235.9 416.8,-225.7 419.2,-215.6 421.6,-205.5 424.0,-195.4 426.6,-185.4 429.1,-175.3 431.7,-165.3 434.3,-155.4 437.0,-145.4 439.8,-135.5 442.5,-125.5 445.4,-115.7 448.2,-105.8 451.2,-96.0 454.1,-86.1 457.1,-76.3 460.2,-66.6 463.3,-56.8 466.4,-47.1 469.6,-37.4 472.8,-27.7 476.1,-18.1 479.4,-8.5 482.8,1.1 486.2,10.7 489.7,20.3 493.2,29.8 496.7,39.3 500.3,48.8 504.0,58.2 507.6,67.7 511.4,77.1 515.2,86.5 519.0,95.8 522.8,105.2 526.8,114.5 530.7,123.8 534.7,133.1 538.8,142.3 542.9,151.5 547.0,160.7 551.2,169.9 555.4,179.1 559.7,188.2 564.0,197.3 568.4,206.4 572.8,215.4 577.2,224.5 581.8,233.5 586.3,242.4 590.9,251.4 595.5,260.3 600.2,269.3 604.9,278.1 609.7,287.0 614.5,295.9 619.4,304.7 624.3,313.5 629.3,322.2 634.3,331.0 639.3,339.7 644.4,348.4 649.5,357.1 654.7,365.7 660.0,374.4 665.2,383.0 670.6,391.5 675.9,400.1 681.3,408.6 686.8,417.1 692.3,425.6 697.8,434.1 703.4,442.5 709.1,450.9 714.7,459.3"/>
<polyline points="490.6,-296.4 492.6,-286.5 494.6,-276.6 496.7,-266.8 498.8,-257.0 501.0,-247.2 503.2,-237.4 505.5,-227.6 507.8,-217.9 510.2,-208.2 512.6,-198.5 515.0,-188.8 517.5,-179.2 520.0,-169.6 522.6,-160.0 525.3,-150.4 527.9,-140.9 530.7,-131.4 533.4,-121.9 536.2,-112.4 539.1,-103.0 542.0,-93.6 545.0,-84.2 547.9,-74.8 551.0,-65.4 554.1,-56.1 557.2,-46.8 560.4,-37.5 563.6,-28.3 566.9,-19.1 570.2,-9.8 573.5,-0.7 576.9,8.5 580.4,17.6 583.9,26.7 587.4,35.8 591.0,44.9 594.6,53.9 598.3,63.0 602.0,71.9 605.8,80.9 609.6,89.9 613.5,98.8 617.4,107.7 621.3,116.6 625.3,125.4 629.3,134.2 633.4,143.0 637.5,151.8 641.7,160.6 645.9,169.3 650.2,178.0 654.5,186.7 658.9,195.4 663.3,204.0 667.7,212.6 672.2,221.2 676.7,229.8 681.3,238.3 685.9,246.8 690.6,255.3 695.3,263.8 700.1,272.2 704.9,280.7 709.8,289.1 714.7,297.4 719.6,305.8 724.6,314.1 729.6,322.4 734.7,330.7 739.8,339.0 745.0,347.2 750.2,355.4 755.5,363.6 760.8,371.7 766.2,379.9 771.6,388.0 777.0,396.1 782.5,404.2 788.0,412.2"/>
<polyline points="-343.6,13.4 -321.9,7.5 -300.3,1.5 -278.7,-4.4 -257.1,-10.4 -235.5,-16.3 -213.9,-22.2 -192.4,-28.1 -170.8,-34.0 -149.3,-39.9 -127.8,-45.8 -106.4,-51.7 -84.9,-57.5 -63.5,-63.4 -42.1,-69.2 -20.7,-75.0 0.7,-80.9 22.0,-86.7 43.4,-92.5 64.7,-98.3 86.0,-104.1 107.2,-109.9 128.5,-115.6 149.7,-121.4 170.9,-127.1 192.1,-132.9 213.3,-138.6 234.5,-144.3 255.6,-150.0 276.7,-155.7 297.8,-161.4 318.9,-167.1 340.0,-172.8 361.0,-178.5 382.1,-184.1 403.1,-189.8 424.0,-195.4 445.0,-201.1 466.0,-206.7 486.9,-212.3 507.8,-217.9 528.7,-223.5 549.6,-229.1 570.4,-234.6 591.2,-240.2 612.0,-245.8 632.8,-251.3 653.6,-256.9"/>
<polyline points="-328.0,66.0 -306.5,59.7 -285.0,53.4 -263.5,47.1 -242.0,40.8 -220.6,34.5 -199.2,28.3 -177.8,22.0 -156.4,15.8 -135.0,9.5 -113.7,3.3 -92.4,-2.9 -71.1,-9.1 -49.8,-15.3 -28.5,-21.5 -7.3,-27.7 13.9,-33.8 35.1,-40.0 56.3,-46.2 77.5,-52.3 98.6,-58.4 119.8,-64.6 140.9,-70.7 161.9,-76.8 183.0,-82.9 204.1,-89.0 225.1,-95.1 246.1,-101.1 267.1,-107.2 288.1,-113.2 309.0,-119.3 330.0,-125.3 350.9,-131.3 371.8,-137.4 392.7,-143.4 413.5,-149.4 434.3,-155.4 455.2,-161.3 476.0,-167.3 496.7,-173.3 517.5,-179.2 538.2,-185.2 559.0,-191.1 579.7,-197.0 600.4,-202.9 621.0,-208.8 641.7,-214.7 662.3,-220.6"/>
<polyline points="-311.6,118.2 -290.3,111.5 -268.9,104.9 -247.6,98.2 -226.3,91.6 -205.0,85.0 -183.7,78.4 -162.5,71.8 -141.3,65.2 -120.0,58.6 -98.9,52.0 -77.7,45.5 -56.5,38.9 -35.4,32.4 -14.3,25.8 6.8,19.3 27.9,12.8 49.0,6.3 70.0,-0.2 91.0,-6.7 112.0,-13.2 133.0,-19.7 153.9,-26.1 174.9,-32.6 195.8,-39.0 216.7,-45.5 237.6,-51.9 258.5,-58.3 279.3,-64.7 300.1,-71.1 320.9,-77.5 341.7,-83.9 362.5,-90.3 383.2,-96.6 404.0,-103.0 424.7,-109.3 445.4,-115.7 466.0,-122.0 486.7,-128.3 507.3,-134.6 527.9,-140.9 548.5,-147.2 569.1,-153.5 589.7,-159.7 610.2,-166.0 630.7,-172.3 651.2,-178.5 671.7,-184.7"/>
<polyline points="-294.6,170.0 -273.4,163.0 -252.2,156.0 -231.0,149.0 -209.8,142.0 -188.7,135.1 -167.6,128.1 -146.5,121.2 -125.4,114.2 -104.3,107.3 -83.3,100.4 -62.2,93.5 -41.2,86.6 -20.3,79.7 0.7,72.8 21.7,65.9 42.6,59.0 63.5,52.2 84.4,45.3 105.3,38.5 126.1,31.7 146.9,24.9 167.8,18.0 188.6,11.2 209.3,4.4 230.1,-2.3 250.8,-9.1 271.5,-15.9 292.2,-22.6 312.9,-29.4 333.6,-36.1 354.2,-42.8 374.8,-49.6 395.4,-56.3 416.0,-63.0 436.6,-69.7 457.1,-76.3 477.6,-83.0 498.1,-89.7 518.6,-96.3 539.1,-103.0 559.5,-109.6 580.0,-116.3 600.4,-122.9 620.8,-129.5 641.1,-136.1 661.5,-142.7 681.8,-149.3"/>
<polyline points="-276.8,221.4 -255.7,214.1 -234.7,206.8 -213.6,199.4 -192.6,192.1 -171.6,184.8 -150.7,177.5 -129.7,170.2 -108.8,162.9 -87.9,155.6 -67.0,148.3 -46.1,141.1 -25.2,133.8 -4.4,126.6 16.4,119.4 37.2,112.1 58.0,104.9 78.8,97.7 99.5,90.5 120.2,83.3 140.9,76.2 161.6,69.0 182.3,61.8 202.9,54.7 223.6,47.5 244.2,40.4 264.8,33.3 285.3,26.2 305.9,19.1 326.4,12.0 346.9,4.9 367.4,-2.2 387.9,-9.2 408.3,-16.3 428.8,-23.3 449.2,-30.4 469.6,-37.4 490.0,-44.4 510.3,-51.4 530.7,-58.5 551.0,-65.4 571.3,-72.4 591.6,-79.4 611.8,-86.4 632.1,-93.3 652.3,-100.3 672.5,-107.2 692.7,-114.1"/>
<polyline points="-258.3,272.5 -237.4,264.8 -216.5,257.1 -195.6,249.4 -174.7,241.8 -153.9,234.1 -133.0,226.4 -112.2,218.8 -91.4,211.2 -70.7,203.5 -49.9,195.9 -29.2,188.3 -8.5,180.7 12.2,173.1 32.9,165.6 53.5,158.0 74.2,150.4 94.8,142.9 115.4,135.3 136.0,127.8 156.5,120.3 177.0,112.8 197.6,105.3 218.1,97.8 238.5,90.3 259.0,82.8 279.4,75.3 299.9,67.9 320.3,60.4 340.7,53.0 361.0,45.5 381.4,38.1 401.7,30.7 422.0,23.3 442.3,15.9 462.5,8.5 482.8,1.1 503.0,-6.2 523.2,-13.6 543.4,-20.9 563.6,-28.3 583.7,-35.6 603.9,-42.9 624.0,-50.3 644.1,-57.6 664.2,-64.8 684.2,-72.1 704.3,-79.4"/>
<polyline points="-239.1,323.2 -218.3,315.1 -197.5,307.1 -176.8,299.1 -156.1,291.0 -135.4,283.0 -114.7,275.0 -94.0,267.0 -73.4,259.1 -52.8,251.1 -32.2,243.1 -11.6,235.2 9.0,227.2 29.5,219.3 50.0,211.4 70.6,203.5 91.0,195.5 111.5,187.6 132.0,179.8 152.4,171.9 172.8,164.0 193.2,156.1 213.6,148.3 233.9,140.4 254.2,132.6 274.6,124.8 294.8,117.0 315.1,109.2 335.4,101.4 355.6,93.6 375.8,85.8 396.0,78.0 416.2,70.3 436.4,62.5 456.5,54.8 476.6,47.0 496.7,39.3 516.8,31.6 536.9,23.9 556.9,16.2 576.9,8.5 596.9,0.8 616.9,-6.9 636.9,-14.5 656.8,-22.2 676.8,-29.8 696.7,-37.4 716.6,-45.1"/>
<polyline points="-219.1,373.5 -198.5,365.1 -177.9,356.7 -157.3,348.3 -136.7,340.0 -116.2,331.6 -95.6,323.3 -75.1,314.9 -54.6,306.6 -34.1,298.3 -13.7,290.0 6.8,281.7 27.2,273.4 47.6,265.1 67.9,256.8 88.3,248.5 108.6,240.3 129.0,232.0 149.3,223.8 169.5,215.6 189.8,207.3 210.0,199.1 230.3,190.9 250.5,182.7 270.7,174.6 290.8,166.4 311.0,158.2 331.1,150.1 351.2,141.9 371.3,133.8 391.4,125.7 411.4,117.5 431.4,109.4 451.5,101.3 471.5,93.2 491.4,85.2 511.4,77.1 531.3,69.0 551.2,61.0 571.1,52.9 591.0,44.9 610.9,36.9 630.7,28.9 650.5,20.8 670.3,12.8 690.1,4.9 709.9,-3.1 729.6,-11.1"/>
<polyline points="-198.4,423.4 -177.9,414.6 -157.5,405.9 -137.0,397.2 -116.6,388.5 -96.2,379.8 -75.8,371.1 -55.5,362.4 -35.1,353.7 -14.8,345.1 5.5,336.4 25.8,327.7 46.1,319.1 66.3,310.5 86.6,301.9 106.8,293.2 127.0,284.6 147.1,276.0 167.3,267.5 187.4,258.9 207.5,250.3 227.6,241.8 247.7,233.2 267.8,224.7 287.8,216.1 307.8,207.6 327.8,199.1 347.8,190.6 367.8,182.1 387.7,173.6 407.6,165.2 427.5,156.7 447.4,148.2 467.3,139.8 487.1,131.4 506.9,122.9 526.8,114.5 546.5,106.1 566.3,97.7 586.1,89.3 605.8,80.9 625.5,72.5 645.2,64.2 664.9,55.8 684.5,47.5 704.1,39.1 723.8,30.8 743.4,22.5"/>
<polyline points="-177.0,472.9 -156.7,463.8 -136.4,454.8 -116.1,445.7 -95.8,436.6 -75.5,427.6 -55.3,418.5 -35.1,409.5 -14.9,400.5 5.3,391.5 25.5,382.5 45.6,373.5 65.7,364.5 85.8,355.5 105.9,346.5 126.0,337.6 146.0,328.6 166.0,319.7 186.1,310.7 206.0,301.8 226.0,292.9 246.0,284.0 265.9,275.1 285.8,266.2 305.7,257.3 325.6,248.5 345.4,239.6 365.2,230.8 385.1,221.9 404.8,213.1 424.6,204.3 444.4,195.5 464.1,186.7 483.8,177.9 503.5,169.1 523.2,160.3 542.9,151.5 562.5,142.8 582.1,134.0 601.7,125.3 621.3,116.6 640.9,107.8 660.4,99.1 679.9,90.4 699.4,81.7 718.9,73.0 738.4,64.4 757.8,55.7"/>
<polyline points="-154.9,522.1 -134.7,512.6 -114.5,503.2 -94.4,493.8 -74.2,484.4 -54.1,475.0 -34.0,465.6 -14.0,456.2 6.1,446.9 26.1,437.5 46.1,428.1 66.1,418.8 86.1,409.5 106.1,400.1 126.0,390.8 145.9,381.5 165.8,372.2 185.7,362.9 205.5,353.6 225.4,344.4 245.2,335.1 265.0,325.9 284.8,316.6 304.5,307.4 324.3,298.2 344.0,288.9 363.7,279.7 383.4,270.5 403.1,261.4 422.7,252.2 442.3,243.0 461.9,233.8 481.5,224.7 501.1,215.6 520.6,206.4 540.2,197.3 559.7,188.2 579.2,179.1 598.7,170.0 618.1,160.9 637.5,151.8 657.0,142.8 676.4,133.7 695.7,124.6 715.1,115.6 734.4,106.6 753.7,97.5 773.0,88.5"/>
<polyline points="-132.0,570.9 -112.0,561.1 -91.9,551.3 -71.9,541.5 -52.0,531.8 -32.0,522.0 -12.1,512.3 7.9,502.6 27.8,492.8 47.7,483.1 67.5,473.4 87.4,463.7 107.2,454.1 127.0,444.4 146.8,434.7 166.6,425.1 186.3,415.4 206.0,405.8 225.7,396.2 245.4,386.5 265.1,376.9 284.8,367.3 304.4,357.8 324.0,348.2 343.6,338.6 363.2,329.0 382.7,319.5 402.3,309.9 421.8,300.4 441.3,290.9 460.8,281.4 480.2,271.9 499.7,262.4 519.1,252.9 538.5,243.4 557.9,233.9 577.2,224.5 596.6,215.0 615.9,205.6 635.2,196.1 654.5,186.7 673.8,177.3 693.0,167.9 712.3,158.5 731.5,149.1 750.7,139.7 769.8,130.3 789.0,121.0"/>
<polyline points="-108.4,619.2 -88.5,609.1 -68.6,599.0 -48.8,588.9 -29.0,578.8 -9.1,568.7 10.6,558.6 30.4,548.5 50.2,538.5 69.9,528.4 89.6,518.4 109.3,508.3 129.0,498.3 148.7,488.3 168.3,478.3 187.9,468.3 207.5,458.3 227.1,448.3 246.7,438.3 266.2,428.3 285.8,418.4 305.3,408.4 324.7,398.5 344.2,388.6 363.7,378.7 383.1,368.7 402.5,358.8 421.9,349.0 441.3,339.1 460.6,329.2 479.9,319.3 499.3,309.5 518.5,299.6 537.8,289.8 557.1,280.0 576.3,270.2 595.5,260.3 614.7,250.5 633.9,240.8 653.1,231.0 672.2,221.2 691.3,211.4 710.4,201.7 729.5,191.9 748.6,182.2 767.6,172.5 786.6,162.8 805.6,153.1"/>
<polyline points="-84.1,667.3 -64.4,656.8 -44.6,646.3 -24.9,635.9 -5.2,625.4 14.4,615.0 34.1,604.5 53.7,594.1 73.3,583.7 92.9,573.3 112.5,562.9 132.0,552.5 151.6,542.1 171.1,531.8 190.6,521.4 210.0,511.1 229.5,500.7 248.9,490.4 268.3,480.1 287.7,469.8 307.1,459.5 326.5,449.2 345.8,438.9 365.1,428.6 384.4,418.3 403.7,408.1 423.0,397.8 442.2,387.6 461.4,377.4 480.6,367.1 499.8,356.9 519.0,346.7 538.1,336.5 557.3,326.3 576.4,316.2 595.5,306.0 614.5,295.9 633.6,285.7 652.6,275.6 671.6,265.4 690.6,255.3 709.6,245.2 728.5,235.1 747.5,225.0 766.4,214.9 785.3,204.9 804.2,194.8 823.0,184.7"/>
<polyline points="-59.1,714.9 -39.5,704.1 -19.9,693.3 -0.3,682.5 19.2,671.7 38.7,660.9 58.2,650.1 77.7,639.3 97.2,628.6 116.6,617.8 136.0,607.1 155.4,596.3 174.8,585.6 194.2,574.9 213.5,564.2 232.9,553.5 252.2,542.8 271.5,532.1 290.7,521.5 310.0,510.8 329.2,500.1 348.4,489.5 367.6,478.9 386.8,468.2 405.9,457.6 425.1,447.0 444.2,436.4 463.3,425.8 482.4,415.3 501.4,404.7 520.5,394.1 539.5,383.6 558.5,373.1 577.4,362.5 596.4,352.0 615.4,341.5 634.3,331.0 653.2,320.5 672.1,310.0 690.9,299.5 709.8,289.1 728.6,278.6 747.4,268.2 766.2,257.7 785.0,247.3 803.7,236.9 822.4,226.4 841.1,216.0"/>
<polyline points="-33.3,762.2 -13.8,751.0 5.6,739.8 25.0,728.7 44.4,717.5 63.8,706.4 83.1,695.3 102.4,684.1 121.8,673.0 141.1,661.9 160.3,650.8 179.6,639.8 198.8,628.7 218.0,617.6 237.2,606.6 256.4,595.5 275.6,584.5 294.7,573.5 313.8,562.5 332.9,551.4 352.0,540.4 371.1,529.5 390.1,518.5 409.2,507.5 428.2,496.5 447.2,485.6 466.1,474.7 485.1,463.7 504.0,452.8 522.9,441.9 541.8,431.0 560.7,420.1 579.5,409.2 598.4,398.3 617.2,387.4 636.0,376.6 654.7,365.7 673.5,354.9 692.2,344.1 710.9,333.2 729.6,322.4 748.3,311.6 767.0,300.8 785.6,290.0 804.2,279.3 822.8,268.5 841.4,257.7 860.0,247.0"/>
<polyline points="-6.8,809.0 12.5,797.5 31.8,786.0 51.0,774.5 70.3,763.0 89.5,751.5 108.7,740.0 127.9,728.6 147.1,717.1 166.2,705.7 185.4,694.2 204.5,682.8 223.6,671.4 242.6,660.0 261.7,648.6 280.7,637.2 299.7,625.8 318.7,614.4 337.7,603.1 356.6,591.7 375.6,580.4 394.5,569.0 413.4,557.7 432.3,546.4 451.1,535.1 470.0,523.8 488.8,512.5 507.6,501.2 526.4,489.9 545.1,478.7 563.9,467.4 582.6,456.2 601.3,444.9 620.0,433.7 638.6,422.5 657.3,411.3 675.9,400.1 694.5,388.9 713.1,377.7 731.7,366.6 750.2,355.4 768.8,344.2 787.3,333.1 805.8,322.0 824.2,310.8 842.7,299.7 861.1,288.6 879.5,277.5"/>
</g>
<rect x="120.50" y="39.50" width="362.00" height="302.70" fill="none" stroke="#000" stroke-width="1.1"/>
<rect x="132.30" y="50.50" width="31.30" height="41.00" fill="#fff" stroke="#000" stroke-width="1.3"/>
<text x="147.95" y="77.59" font-size="24.84" text-anchor="middle" textLength="14.95" lengthAdjust="spacingAndGlyphs" fill="#000">a</text>
<line x1="232.60" y1="342.20" x2="232.60" y2="347.10" stroke="#000" stroke-width="1.1"/>
<line x1="339.20" y1="342.20" x2="339.20" y2="347.10" stroke="#000" stroke-width="1.1"/>
<line x1="438.20" y1="342.20" x2="438.20" y2="347.10" stroke="#000" stroke-width="1.1"/>
<line x1="115.60" y1="267.20" x2="120.50" y2="267.20" stroke="#000" stroke-width="1.1"/>
<g clip-path="url(#clipT1)" fill="none" stroke="#808080" stroke-width="1.7" stroke-dasharray="7.4 3.6">
<polyline points="273.3,-134.8 276.5,-122.1 279.7,-109.4 283.0,-96.8 286.3,-84.2 289.6,-71.6 293.0,-59.1 296.5,-46.5 300.0,-34.0 303.5,-21.5 307.1,-9.1 310.7,3.4 314.4,15.8 318.1,28.2 321.9,40.5 325.7,52.9 329.5,65.2 333.4,77.5 337.4,89.8 341.4,102.0 345.4,114.2 349.5,126.4 353.6,138.6 357.8,150.8 362.0,162.9 366.3,175.0 370.6,187.1 375.0,199.1 379.4,211.2 383.8,223.2 388.3,235.2 392.8,247.1 397.4,259.1 402.0,271.0 406.7,282.9 411.4,294.7 416.2,306.6 421.0,318.4 425.8,330.2 430.7,342.0 435.7,353.7 440.7,365.4 445.7,377.1 450.8,388.8 455.9,400.5 461.1,412.1 466.3,423.7 471.6,435.3 476.9,446.9 482.2,458.4 487.6,469.9 493.1,481.4 498.6,492.8 504.1,504.3 509.7,515.7 515.3,527.1 521.0,538.5 526.7,549.8 532.5,561.1 538.3,572.4 544.1,583.7 550.0,594.9 556.0,606.2 561.9,617.4 568.0,628.6 574.1,639.7 580.2,650.8 586.3,661.9 592.6,673.0 598.8,684.1 605.1,695.1 611.5,706.1 617.9,717.1 624.3,728.1 630.8,739.0 637.3,749.9 643.9,760.8 650.5,771.7 657.2,782.6 663.9,793.4"/>
<polyline points="360.4,-155.5 363.4,-143.1 366.5,-130.8 369.6,-118.6 372.8,-106.3 376.0,-94.1 379.2,-81.9 382.5,-69.7 385.9,-57.5 389.3,-45.4 392.7,-33.3 396.2,-21.2 399.7,-9.1 403.3,2.9 406.9,15.0 410.6,26.9 414.3,38.9 418.0,50.9 421.8,62.8 425.7,74.7 429.6,86.6 433.5,98.4 437.5,110.2 441.5,122.1 445.6,133.8 449.7,145.6 453.9,157.3 458.1,169.0 462.3,180.7 466.6,192.4 471.0,204.0 475.3,215.6 479.8,227.2 484.3,238.8 488.8,250.3 493.4,261.9 498.0,273.4 502.6,284.8 507.3,296.3 512.1,307.7 516.9,319.1 521.7,330.5 526.6,341.8 531.5,353.2 536.5,364.5 541.6,375.8 546.6,387.0 551.7,398.2 556.9,409.5 562.1,420.6 567.4,431.8 572.6,442.9 578.0,454.1 583.4,465.2 588.8,476.2 594.3,487.3 599.8,498.3 605.4,509.3 611.0,520.3 616.7,531.2 622.4,542.1 628.1,553.0 633.9,563.9 639.7,574.8 645.6,585.6 651.6,596.4 657.5,607.2 663.6,618.0 669.6,628.7 675.7,639.4 681.9,650.1 688.1,660.8 694.4,671.4 700.6,682.0 707.0,692.6 713.4,703.2 719.8,713.7 726.3,724.2 732.8,734.7 739.4,745.2"/>
<polyline points="447.2,-176.0 450.0,-164.1 453.0,-152.1 455.9,-140.2 459.0,-128.3 462.0,-116.4 465.1,-104.5 468.3,-92.7 471.5,-80.9 474.7,-69.1 478.0,-57.3 481.3,-45.6 484.7,-33.8 488.1,-22.2 491.6,-10.5 495.1,1.2 498.7,12.8 502.3,24.4 506.0,36.0 509.6,47.5 513.4,59.0 517.2,70.6 521.0,82.0 524.9,93.5 528.8,104.9 532.8,116.3 536.8,127.7 540.9,139.1 545.0,150.4 549.1,161.7 553.3,173.0 557.6,184.3 561.8,195.5 566.2,206.8 570.5,218.0 575.0,229.1 579.4,240.3 584.0,251.4 588.5,262.5 593.1,273.6 597.8,284.6 602.5,295.7 607.2,306.7 612.0,317.7 616.8,328.6 621.7,339.6 626.6,350.5 631.6,361.3 636.6,372.2 641.7,383.1 646.8,393.9 651.9,404.7 657.1,415.4 662.3,426.2 667.6,436.9 673.0,447.6 678.3,458.3 683.8,468.9 689.2,479.5 694.7,490.1 700.3,500.7 705.9,511.3 711.5,521.8 717.2,532.3 723.0,542.8 728.8,553.3 734.6,563.7 740.5,574.1 746.4,584.5 752.3,594.9 758.4,605.2 764.4,615.5 770.5,625.8 776.7,636.1 782.9,646.3 789.1,656.5 795.4,666.7 801.7,676.9 808.1,687.1 814.5,697.2"/>
<polyline points="533.6,-196.5 536.4,-184.8 539.1,-173.2 542.0,-161.6 544.8,-150.1 547.8,-138.5 550.7,-127.0 553.7,-115.5 556.8,-104.1 559.9,-92.6 563.0,-81.2 566.2,-69.8 569.4,-58.4 572.7,-47.1 576.0,-35.8 579.4,-24.5 582.8,-13.2 586.3,-1.9 589.8,9.3 593.3,20.5 596.9,31.7 600.6,42.8 604.2,54.0 608.0,65.1 611.7,76.2 615.6,87.2 619.4,98.3 623.3,109.3 627.3,120.3 631.3,131.2 635.4,142.2 639.5,153.1 643.6,164.0 647.8,174.9 652.0,185.7 656.3,196.5 660.6,207.3 665.0,218.1 669.4,228.9 673.8,239.6 678.3,250.3 682.9,261.0 687.5,271.7 692.1,282.3 696.8,292.9 701.5,303.5 706.3,314.1 711.1,324.6 716.0,335.1 720.9,345.6 725.9,356.1 730.9,366.5 735.9,376.9 741.0,387.3 746.1,397.7 751.3,408.1 756.6,418.4 761.8,428.7 767.1,439.0 772.5,449.2 777.9,459.5 783.4,469.7 788.9,479.8 794.4,490.0 800.0,500.1 805.6,510.3 811.3,520.3 817.1,530.4 822.8,540.4 828.6,550.5 834.5,560.5 840.4,570.4 846.4,580.4 852.4,590.3 858.4,600.2 864.5,610.1 870.6,619.9 876.8,629.7 883.1,639.6 889.3,649.3"/>
<polyline points="619.8,-216.8 622.4,-205.5 625.0,-194.2 627.7,-183.0 630.4,-171.8 633.2,-160.6 636.0,-149.4 638.8,-138.2 641.7,-127.1 644.7,-116.0 647.7,-105.0 650.7,-93.9 653.8,-82.9 656.9,-71.9 660.1,-60.9 663.3,-50.0 666.6,-39.0 669.9,-28.1 673.3,-17.2 676.7,-6.4 680.1,4.4 683.6,15.3 687.2,26.0 690.7,36.8 694.4,47.5 698.0,58.3 701.8,69.0 705.5,79.6 709.3,90.3 713.2,100.9 717.1,111.5 721.0,122.1 725.0,132.6 729.1,143.1 733.2,153.6 737.3,164.1 741.5,174.6 745.7,185.0 749.9,195.4 754.3,205.8 758.6,216.1 763.0,226.5 767.5,236.8 771.9,247.1 776.5,257.3 781.1,267.6 785.7,277.8 790.4,288.0 795.1,298.2 799.8,308.3 804.7,318.4 809.5,328.5 814.4,338.6 819.4,348.6 824.3,358.7 829.4,368.7 834.5,378.7 839.6,388.6 844.8,398.5 850.0,408.5 855.2,418.3 860.5,428.2 865.9,438.0 871.3,447.8 876.7,457.6 882.2,467.4 887.8,477.1 893.3,486.9 899.0,496.5 904.6,506.2 910.4,515.9 916.1,525.5 921.9,535.1 927.8,544.7 933.7,554.2 939.6,563.7 945.6,573.2 951.6,582.7 957.7,592.2 963.8,601.6"/>
<polyline points="705.6,-236.9 708.1,-225.9 710.6,-215.0 713.1,-204.1 715.7,-193.3 718.3,-182.4 721.0,-171.6 723.7,-160.8 726.4,-150.0 729.2,-139.3 732.1,-128.6 735.0,-117.9 737.9,-107.2 740.9,-96.5 743.9,-85.9 747.0,-75.3 750.1,-64.7 753.3,-54.2 756.5,-43.6 759.7,-33.1 763.0,-22.6 766.4,-12.2 769.8,-1.7 773.2,8.7 776.7,19.1 780.2,29.4 783.8,39.8 787.4,50.1 791.1,60.4 794.8,70.7 798.5,80.9 802.3,91.2 806.2,101.4 810.1,111.5 814.0,121.7 818.0,131.8 822.0,141.9 826.1,152.0 830.2,162.1 834.4,172.1 838.6,182.1 842.8,192.1 847.1,202.1 851.5,212.0 855.9,221.9 860.3,231.8 864.8,241.7 869.3,251.5 873.9,261.4 878.5,271.2 883.1,280.9 887.8,290.7 892.6,300.4 897.4,310.1 902.2,319.8 907.1,329.4 912.1,339.1 917.0,348.7 922.1,358.3 927.1,367.8 932.2,377.4 937.4,386.9 942.6,396.4 947.9,405.8 953.2,415.3 958.5,424.7 963.9,434.1 969.3,443.4 974.8,452.8 980.3,462.1 985.9,471.4 991.5,480.7 997.2,489.9 1002.9,499.2 1008.6,508.4 1014.4,517.6 1020.3,526.7 1026.1,535.8 1032.1,545.0 1038.0,554.0"/>
<polyline points="791.2,-256.9 793.5,-246.3 795.8,-235.7 798.2,-225.2 800.6,-214.6 803.1,-204.2 805.6,-193.7 808.2,-183.2 810.8,-172.8 813.4,-162.4 816.1,-152.0 818.9,-141.7 821.7,-131.3 824.5,-121.0 827.4,-110.8 830.3,-100.5 833.3,-90.3 836.3,-80.1 839.4,-69.9 842.5,-59.7 845.6,-49.6 848.8,-39.4 852.1,-29.4 855.4,-19.3 858.7,-9.2 862.1,0.8 865.5,10.8 869.0,20.7 872.5,30.7 876.0,40.6 879.7,50.5 883.3,60.4 887.0,70.3 890.7,80.1 894.5,89.9 898.4,99.7 902.2,109.4 906.2,119.2 910.1,128.9 914.2,138.6 918.2,148.2 922.3,157.9 926.5,167.5 930.7,177.1 934.9,186.7 939.2,196.2 943.5,205.7 947.9,215.2 952.3,224.7 956.8,234.1 961.3,243.6 965.9,253.0 970.5,262.4 975.1,271.7 979.8,281.0 984.6,290.4 989.3,299.6 994.2,308.9 999.1,318.1 1004.0,327.3 1008.9,336.5 1014.0,345.7 1019.0,354.8 1024.1,364.0 1029.3,373.1 1034.5,382.1 1039.7,391.2 1045.0,400.2 1050.3,409.2 1055.7,418.2 1061.1,427.1 1066.6,436.0 1072.1,444.9 1077.7,453.8 1083.3,462.7 1088.9,471.5 1094.6,480.3 1100.3,489.1 1106.1,497.9 1111.9,506.6"/>
<polyline points="876.4,-276.7 878.6,-266.5 880.8,-256.2 883.0,-246.0 885.3,-235.9 887.6,-225.7 890.0,-215.6 892.4,-205.5 894.8,-195.4 897.4,-185.4 899.9,-175.3 902.5,-165.3 905.1,-155.4 907.8,-145.4 910.6,-135.5 913.3,-125.5 916.2,-115.7 919.0,-105.8 922.0,-96.0 924.9,-86.1 927.9,-76.3 931.0,-66.6 934.1,-56.8 937.2,-47.1 940.4,-37.4 943.6,-27.7 946.9,-18.1 950.2,-8.5 953.6,1.1 957.0,10.7 960.5,20.3 964.0,29.8 967.5,39.3 971.1,48.8 974.8,58.2 978.4,67.7 982.2,77.1 986.0,86.5 989.8,95.8 993.6,105.2 997.6,114.5 1001.5,123.8 1005.5,133.1 1009.6,142.3 1013.7,151.5 1017.8,160.7 1022.0,169.9 1026.2,179.1 1030.5,188.2 1034.8,197.3 1039.2,206.4 1043.6,215.4 1048.0,224.5 1052.6,233.5 1057.1,242.4 1061.7,251.4 1066.3,260.3 1071.0,269.3 1075.7,278.1 1080.5,287.0 1085.3,295.9 1090.2,304.7 1095.1,313.5 1100.1,322.2 1105.1,331.0 1110.1,339.7 1115.2,348.4 1120.3,357.1 1125.5,365.7 1130.8,374.4 1136.0,383.0 1141.4,391.5 1146.7,400.1 1152.1,408.6 1157.6,417.1 1163.1,425.6 1168.6,434.1 1174.2,442.5 1179.9,450.9 1185.5,459.3"/>
<polyline points="961.4,-296.4 963.4,-286.5 965.4,-276.6 967.5,-266.8 969.6,-257.0 971.8,-247.2 974.0,-237.4 976.3,-227.6 978.6,-217.9 981.0,-208.2 983.4,-198.5 985.8,-188.8 988.3,-179.2 990.8,-169.6 993.4,-160.0 996.1,-150.4 998.7,-140.9 1001.5,-131.4 1004.2,-121.9 1007.0,-112.4 1009.9,-103.0 1012.8,-93.6 1015.8,-84.2 1018.7,-74.8 1021.8,-65.4 1024.9,-56.1 1028.0,-46.8 1031.2,-37.5 1034.4,-28.3 1037.7,-19.1 1041.0,-9.8 1044.3,-0.7 1047.7,8.5 1051.2,17.6 1054.7,26.7 1058.2,35.8 1061.8,44.9 1065.4,53.9 1069.1,63.0 1072.8,71.9 1076.6,80.9 1080.4,89.9 1084.3,98.8 1088.2,107.7 1092.1,116.6 1096.1,125.4 1100.1,134.2 1104.2,143.0 1108.3,151.8 1112.5,160.6 1116.7,169.3 1121.0,178.0 1125.3,186.7 1129.7,195.4 1134.1,204.0 1138.5,212.6 1143.0,221.2 1147.5,229.8 1152.1,238.3 1156.7,246.8 1161.4,255.3 1166.1,263.8 1170.9,272.2 1175.7,280.7 1180.6,289.1 1185.5,297.4 1190.4,305.8 1195.4,314.1 1200.4,322.4 1205.5,330.7 1210.6,339.0 1215.8,347.2 1221.0,355.4 1226.3,363.6 1231.6,371.7 1237.0,379.9 1242.4,388.0 1247.8,396.1 1253.3,404.2 1258.8,412.2"/>
<polyline points="127.2,13.4 148.9,7.5 170.5,1.5 192.1,-4.4 213.7,-10.4 235.3,-16.3 256.9,-22.2 278.4,-28.1 300.0,-34.0 321.5,-39.9 343.0,-45.8 364.4,-51.7 385.9,-57.5 407.3,-63.4 428.7,-69.2 450.1,-75.0 471.5,-80.9 492.8,-86.7 514.2,-92.5 535.5,-98.3 556.8,-104.1 578.0,-109.9 599.3,-115.6 620.5,-121.4 641.7,-127.1 662.9,-132.9 684.1,-138.6 705.3,-144.3 726.4,-150.0 747.5,-155.7 768.6,-161.4 789.7,-167.1 810.8,-172.8 831.8,-178.5 852.9,-184.1 873.9,-189.8 894.8,-195.4 915.8,-201.1 936.8,-206.7 957.7,-212.3 978.6,-217.9 999.5,-223.5 1020.4,-229.1 1041.2,-234.6 1062.0,-240.2 1082.8,-245.8 1103.6,-251.3 1124.4,-256.9"/>
<polyline points="142.8,66.0 164.3,59.7 185.8,53.4 207.3,47.1 228.8,40.8 250.2,34.5 271.6,28.3 293.0,22.0 314.4,15.8 335.8,9.5 357.1,3.3 378.4,-2.9 399.7,-9.1 421.0,-15.3 442.3,-21.5 463.5,-27.7 484.7,-33.8 505.9,-40.0 527.1,-46.2 548.3,-52.3 569.4,-58.4 590.6,-64.6 611.7,-70.7 632.7,-76.8 653.8,-82.9 674.9,-89.0 695.9,-95.1 716.9,-101.1 737.9,-107.2 758.9,-113.2 779.8,-119.3 800.8,-125.3 821.7,-131.3 842.6,-137.4 863.5,-143.4 884.3,-149.4 905.1,-155.4 926.0,-161.3 946.8,-167.3 967.5,-173.3 988.3,-179.2 1009.0,-185.2 1029.8,-191.1 1050.5,-197.0 1071.2,-202.9 1091.8,-208.8 1112.5,-214.7 1133.1,-220.6"/>
<polyline points="159.2,118.2 180.5,111.5 201.9,104.9 223.2,98.2 244.5,91.6 265.8,85.0 287.1,78.4 308.3,71.8 329.5,65.2 350.8,58.6 371.9,52.0 393.1,45.5 414.3,38.9 435.4,32.4 456.5,25.8 477.6,19.3 498.7,12.8 519.8,6.3 540.8,-0.2 561.8,-6.7 582.8,-13.2 603.8,-19.7 624.7,-26.1 645.7,-32.6 666.6,-39.0 687.5,-45.5 708.4,-51.9 729.3,-58.3 750.1,-64.7 770.9,-71.1 791.7,-77.5 812.5,-83.9 833.3,-90.3 854.0,-96.6 874.8,-103.0 895.5,-109.3 916.2,-115.7 936.8,-122.0 957.5,-128.3 978.1,-134.6 998.7,-140.9 1019.3,-147.2 1039.9,-153.5 1060.5,-159.7 1081.0,-166.0 1101.5,-172.3 1122.0,-178.5 1142.5,-184.7"/>
<polyline points="176.2,170.0 197.4,163.0 218.6,156.0 239.8,149.0 261.0,142.0 282.1,135.1 303.2,128.1 324.3,121.2 345.4,114.2 366.5,107.3 387.5,100.4 408.6,93.5 429.6,86.6 450.5,79.7 471.5,72.8 492.5,65.9 513.4,59.0 534.3,52.2 555.2,45.3 576.1,38.5 596.9,31.7 617.7,24.9 638.6,18.0 659.4,11.2 680.1,4.4 700.9,-2.3 721.6,-9.1 742.3,-15.9 763.0,-22.6 783.7,-29.4 804.4,-36.1 825.0,-42.8 845.6,-49.6 866.2,-56.3 886.8,-63.0 907.4,-69.7 927.9,-76.3 948.4,-83.0 968.9,-89.7 989.4,-96.3 1009.9,-103.0 1030.3,-109.6 1050.8,-116.3 1071.2,-122.9 1091.6,-129.5 1111.9,-136.1 1132.3,-142.7 1152.6,-149.3"/>
<polyline points="194.0,221.4 215.1,214.1 236.1,206.8 257.2,199.4 278.2,192.1 299.2,184.8 320.1,177.5 341.1,170.2 362.0,162.9 382.9,155.6 403.8,148.3 424.7,141.1 445.6,133.8 466.4,126.6 487.2,119.4 508.0,112.1 528.8,104.9 549.6,97.7 570.3,90.5 591.0,83.3 611.7,76.2 632.4,69.0 653.1,61.8 673.7,54.7 694.4,47.5 715.0,40.4 735.6,33.3 756.1,26.2 776.7,19.1 797.2,12.0 817.7,4.9 838.2,-2.2 858.7,-9.2 879.1,-16.3 899.6,-23.3 920.0,-30.4 940.4,-37.4 960.8,-44.4 981.1,-51.4 1001.5,-58.5 1021.8,-65.4 1042.1,-72.4 1062.4,-79.4 1082.6,-86.4 1102.9,-93.3 1123.1,-100.3 1143.3,-107.2 1163.5,-114.1"/>
<polyline points="212.5,272.5 233.4,264.8 254.3,257.1 275.2,249.4 296.1,241.8 316.9,234.1 337.8,226.4 358.6,218.8 379.4,211.2 400.1,203.5 420.9,195.9 441.6,188.3 462.3,180.7 483.0,173.1 503.7,165.6 524.3,158.0 545.0,150.4 565.6,142.9 586.2,135.3 606.8,127.8 627.3,120.3 647.8,112.8 668.4,105.3 688.9,97.8 709.3,90.3 729.8,82.8 750.2,75.3 770.7,67.9 791.1,60.4 811.5,53.0 831.8,45.5 852.2,38.1 872.5,30.7 892.8,23.3 913.1,15.9 933.3,8.5 953.6,1.1 973.8,-6.2 994.0,-13.6 1014.2,-20.9 1034.4,-28.3 1054.5,-35.6 1074.7,-42.9 1094.8,-50.3 1114.9,-57.6 1135.0,-64.8 1155.0,-72.1 1175.1,-79.4"/>
<polyline points="231.7,323.2 252.5,315.1 273.3,307.1 294.0,299.1 314.7,291.0 335.4,283.0 356.1,275.0 376.8,267.0 397.4,259.1 418.0,251.1 438.6,243.1 459.2,235.2 479.8,227.2 500.3,219.3 520.8,211.4 541.4,203.5 561.8,195.5 582.3,187.6 602.8,179.8 623.2,171.9 643.6,164.0 664.0,156.1 684.4,148.3 704.7,140.4 725.0,132.6 745.4,124.8 765.6,117.0 785.9,109.2 806.2,101.4 826.4,93.6 846.6,85.8 866.8,78.0 887.0,70.3 907.2,62.5 927.3,54.8 947.4,47.0 967.5,39.3 987.6,31.6 1007.7,23.9 1027.7,16.2 1047.7,8.5 1067.7,0.8 1087.7,-6.9 1107.7,-14.5 1127.6,-22.2 1147.6,-29.8 1167.5,-37.4 1187.4,-45.1"/>
<polyline points="251.7,373.5 272.3,365.1 292.9,356.7 313.5,348.3 334.1,340.0 354.6,331.6 375.2,323.3 395.7,314.9 416.2,306.6 436.7,298.3 457.1,290.0 477.6,281.7 498.0,273.4 518.4,265.1 538.7,256.8 559.1,248.5 579.4,240.3 599.8,232.0 620.1,223.8 640.3,215.6 660.6,207.3 680.8,199.1 701.1,190.9 721.3,182.7 741.5,174.6 761.6,166.4 781.8,158.2 801.9,150.1 822.0,141.9 842.1,133.8 862.2,125.7 882.2,117.5 902.2,109.4 922.3,101.3 942.3,93.2 962.2,85.2 982.2,77.1 1002.1,69.0 1022.0,61.0 1041.9,52.9 1061.8,44.9 1081.7,36.9 1101.5,28.9 1121.3,20.8 1141.1,12.8 1160.9,4.9 1180.7,-3.1 1200.4,-11.1"/>
<polyline points="272.4,423.4 292.9,414.6 313.3,405.9 333.8,397.2 354.2,388.5 374.6,379.8 395.0,371.1 415.3,362.4 435.7,353.7 456.0,345.1 476.3,336.4 496.6,327.7 516.9,319.1 537.1,310.5 557.4,301.9 577.6,293.2 597.8,284.6 617.9,276.0 638.1,267.5 658.2,258.9 678.3,250.3 698.4,241.8 718.5,233.2 738.6,224.7 758.6,216.1 778.6,207.6 798.6,199.1 818.6,190.6 838.6,182.1 858.5,173.6 878.4,165.2 898.3,156.7 918.2,148.2 938.1,139.8 957.9,131.4 977.7,122.9 997.6,114.5 1017.3,106.1 1037.1,97.7 1056.9,89.3 1076.6,80.9 1096.3,72.5 1116.0,64.2 1135.7,55.8 1155.3,47.5 1174.9,39.1 1194.6,30.8 1214.2,22.5"/>
<polyline points="293.8,472.9 314.1,463.8 334.4,454.8 354.7,445.7 375.0,436.6 395.3,427.6 415.5,418.5 435.7,409.5 455.9,400.5 476.1,391.5 496.3,382.5 516.4,373.5 536.5,364.5 556.6,355.5 576.7,346.5 596.8,337.6 616.8,328.6 636.8,319.7 656.9,310.7 676.8,301.8 696.8,292.9 716.8,284.0 736.7,275.1 756.6,266.2 776.5,257.3 796.4,248.5 816.2,239.6 836.0,230.8 855.9,221.9 875.6,213.1 895.4,204.3 915.2,195.5 934.9,186.7 954.6,177.9 974.3,169.1 994.0,160.3 1013.7,151.5 1033.3,142.8 1052.9,134.0 1072.5,125.3 1092.1,116.6 1111.7,107.8 1131.2,99.1 1150.7,90.4 1170.2,81.7 1189.7,73.0 1209.2,64.4 1228.6,55.7"/>
<polyline points="315.9,522.1 336.1,512.6 356.3,503.2 376.4,493.8 396.6,484.4 416.7,475.0 436.8,465.6 456.8,456.2 476.9,446.9 496.9,437.5 516.9,428.1 536.9,418.8 556.9,409.5 576.9,400.1 596.8,390.8 616.7,381.5 636.6,372.2 656.5,362.9 676.3,353.6 696.2,344.4 716.0,335.1 735.8,325.9 755.6,316.6 775.3,307.4 795.1,298.2 814.8,288.9 834.5,279.7 854.2,270.5 873.9,261.4 893.5,252.2 913.1,243.0 932.7,233.8 952.3,224.7 971.9,215.6 991.4,206.4 1011.0,197.3 1030.5,188.2 1050.0,179.1 1069.5,170.0 1088.9,160.9 1108.3,151.8 1127.8,142.8 1147.2,133.7 1166.5,124.6 1185.9,115.6 1205.2,106.6 1224.5,97.5 1243.8,88.5"/>
<polyline points="338.8,570.9 358.8,561.1 378.9,551.3 398.9,541.5 418.8,531.8 438.8,522.0 458.7,512.3 478.7,502.6 498.6,492.8 518.5,483.1 538.3,473.4 558.2,463.7 578.0,454.1 597.8,444.4 617.6,434.7 637.4,425.1 657.1,415.4 676.8,405.8 696.5,396.2 716.2,386.5 735.9,376.9 755.6,367.3 775.2,357.8 794.8,348.2 814.4,338.6 834.0,329.0 853.5,319.5 873.1,309.9 892.6,300.4 912.1,290.9 931.6,281.4 951.0,271.9 970.5,262.4 989.9,252.9 1009.3,243.4 1028.7,233.9 1048.0,224.5 1067.4,215.0 1086.7,205.6 1106.0,196.1 1125.3,186.7 1144.6,177.3 1163.8,167.9 1183.1,158.5 1202.3,149.1 1221.5,139.7 1240.6,130.3 1259.8,121.0"/>
<polyline points="362.4,619.2 382.3,609.1 402.2,599.0 422.0,588.9 441.8,578.8 461.7,568.7 481.4,558.6 501.2,548.5 521.0,538.5 540.7,528.4 560.4,518.4 580.1,508.3 599.8,498.3 619.5,488.3 639.1,478.3 658.7,468.3 678.3,458.3 697.9,448.3 717.5,438.3 737.0,428.3 756.6,418.4 776.1,408.4 795.5,398.5 815.0,388.6 834.5,378.7 853.9,368.7 873.3,358.8 892.7,349.0 912.1,339.1 931.4,329.2 950.7,319.3 970.1,309.5 989.3,299.6 1008.6,289.8 1027.9,280.0 1047.1,270.2 1066.3,260.3 1085.5,250.5 1104.7,240.8 1123.9,231.0 1143.0,221.2 1162.1,211.4 1181.2,201.7 1200.3,191.9 1219.4,182.2 1238.4,172.5 1257.4,162.8 1276.4,153.1"/>
<polyline points="386.7,667.3 406.4,656.8 426.2,646.3 445.9,635.9 465.6,625.4 485.2,615.0 504.9,604.5 524.5,594.1 544.1,583.7 563.7,573.3 583.3,562.9 602.8,552.5 622.4,542.1 641.9,531.8 661.4,521.4 680.8,511.1 700.3,500.7 719.7,490.4 739.1,480.1 758.5,469.8 777.9,459.5 797.3,449.2 816.6,438.9 835.9,428.6 855.2,418.3 874.5,408.1 893.8,397.8 913.0,387.6 932.2,377.4 951.4,367.1 970.6,356.9 989.8,346.7 1008.9,336.5 1028.1,326.3 1047.2,316.2 1066.3,306.0 1085.3,295.9 1104.4,285.7 1123.4,275.6 1142.4,265.4 1161.4,255.3 1180.4,245.2 1199.3,235.1 1218.3,225.0 1237.2,214.9 1256.1,204.9 1275.0,194.8 1293.8,184.7"/>
<polyline points="411.7,714.9 431.3,704.1 450.9,693.3 470.5,682.5 490.0,671.7 509.5,660.9 529.0,650.1 548.5,639.3 568.0,628.6 587.4,617.8 606.8,607.1 626.2,596.3 645.6,585.6 665.0,574.9 684.3,564.2 703.7,553.5 723.0,542.8 742.3,532.1 761.5,521.5 780.8,510.8 800.0,500.1 819.2,489.5 838.4,478.9 857.6,468.2 876.7,457.6 895.9,447.0 915.0,436.4 934.1,425.8 953.2,415.3 972.2,404.7 991.3,394.1 1010.3,383.6 1029.3,373.1 1048.2,362.5 1067.2,352.0 1086.2,341.5 1105.1,331.0 1124.0,320.5 1142.9,310.0 1161.7,299.5 1180.6,289.1 1199.4,278.6 1218.2,268.2 1237.0,257.7 1255.8,247.3 1274.5,236.9 1293.2,226.4 1311.9,216.0"/>
<polyline points="437.5,762.2 457.0,751.0 476.4,739.8 495.8,728.7 515.2,717.5 534.6,706.4 553.9,695.3 573.2,684.1 592.6,673.0 611.9,661.9 631.1,650.8 650.4,639.8 669.6,628.7 688.8,617.6 708.0,606.6 727.2,595.5 746.4,584.5 765.5,573.5 784.6,562.5 803.7,551.4 822.8,540.4 841.9,529.5 860.9,518.5 880.0,507.5 899.0,496.5 918.0,485.6 936.9,474.7 955.9,463.7 974.8,452.8 993.7,441.9 1012.6,431.0 1031.5,420.1 1050.3,409.2 1069.2,398.3 1088.0,387.4 1106.8,376.6 1125.5,365.7 1144.3,354.9 1163.0,344.1 1181.7,333.2 1200.4,322.4 1219.1,311.6 1237.8,300.8 1256.4,290.0 1275.0,279.3 1293.6,268.5 1312.2,257.7 1330.8,247.0"/>
<polyline points="464.0,809.0 483.3,797.5 502.6,786.0 521.8,774.5 541.1,763.0 560.3,751.5 579.5,740.0 598.7,728.6 617.9,717.1 637.0,705.7 656.2,694.2 675.3,682.8 694.4,671.4 713.4,660.0 732.5,648.6 751.5,637.2 770.5,625.8 789.5,614.4 808.5,603.1 827.4,591.7 846.4,580.4 865.3,569.0 884.2,557.7 903.1,546.4 921.9,535.1 940.8,523.8 959.6,512.5 978.4,501.2 997.2,489.9 1015.9,478.7 1034.7,467.4 1053.4,456.2 1072.1,444.9 1090.8,433.7 1109.4,422.5 1128.1,411.3 1146.7,400.1 1165.3,388.9 1183.9,377.7 1202.5,366.6 1221.0,355.4 1239.6,344.2 1258.1,333.1 1276.6,322.0 1295.0,310.8 1313.5,299.7 1331.9,288.6 1350.3,277.5"/>
</g>
<rect x="591.30" y="39.50" width="361.10" height="302.70" fill="none" stroke="#000" stroke-width="1.1"/>
<rect x="603.10" y="50.50" width="31.30" height="41.00" fill="#fff" stroke="#000" stroke-width="1.3"/>
<text x="618.75" y="77.59" font-size="24.84" text-anchor="middle" textLength="15.49" lengthAdjust="spacingAndGlyphs" fill="#000">b</text>
<line x1="703.40" y1="342.20" x2="703.40" y2="347.10" stroke="#000" stroke-width="1.1"/>
<line x1="810.00" y1="342.20" x2="810.00" y2="347.10" stroke="#000" stroke-width="1.1"/>
<line x1="909.00" y1="342.20" x2="909.00" y2="347.10" stroke="#000" stroke-width="1.1"/>
<line x1="586.40" y1="267.20" x2="591.30" y2="267.20" stroke="#000" stroke-width="1.1"/>
<g clip-path="url(#clipT2)" fill="none" stroke="#808080" stroke-width="1.7" stroke-dasharray="7.4 3.6">
<polyline points="743.5,-134.8 746.7,-122.1 749.9,-109.4 753.2,-96.8 756.5,-84.2 759.8,-71.6 763.2,-59.1 766.7,-46.5 770.2,-34.0 773.7,-21.5 777.3,-9.1 780.9,3.4 784.6,15.8 788.3,28.2 792.1,40.5 795.9,52.9 799.7,65.2 803.6,77.5 807.6,89.8 811.6,102.0 815.6,114.2 819.7,126.4 823.8,138.6 828.0,150.8 832.2,162.9 836.5,175.0 840.8,187.1 845.2,199.1 849.6,211.2 854.0,223.2 858.5,235.2 863.0,247.1 867.6,259.1 872.2,271.0 876.9,282.9 881.6,294.7 886.4,306.6 891.2,318.4 896.0,330.2 900.9,342.0 905.9,353.7 910.9,365.4 915.9,377.1 921.0,388.8 926.1,400.5 931.3,412.1 936.5,423.7 941.8,435.3 947.1,446.9 952.4,458.4 957.8,469.9 963.3,481.4 968.8,492.8 974.3,504.3 979.9,515.7 985.5,527.1 991.2,538.5 996.9,549.8 1002.7,561.1 1008.5,572.4 1014.3,583.7 1020.2,594.9 1026.2,606.2 1032.1,617.4 1038.2,628.6 1044.3,639.7 1050.4,650.8 1056.5,661.9 1062.8,673.0 1069.0,684.1 1075.3,695.1 1081.7,706.1 1088.1,717.1 1094.5,728.1 1101.0,739.0 1107.5,749.9 1114.1,760.8 1120.7,771.7 1127.4,782.6 1134.1,793.4"/>
<polyline points="830.6,-155.5 833.6,-143.1 836.7,-130.8 839.8,-118.6 843.0,-106.3 846.2,-94.1 849.4,-81.9 852.7,-69.7 856.1,-57.5 859.5,-45.4 862.9,-33.3 866.4,-21.2 869.9,-9.1 873.5,2.9 877.1,15.0 880.8,26.9 884.5,38.9 888.2,50.9 892.0,62.8 895.9,74.7 899.8,86.6 903.7,98.4 907.7,110.2 911.7,122.1 915.8,133.8 919.9,145.6 924.1,157.3 928.3,169.0 932.5,180.7 936.8,192.4 941.2,204.0 945.5,215.6 950.0,227.2 954.5,238.8 959.0,250.3 963.6,261.9 968.2,273.4 972.8,284.8 977.5,296.3 982.3,307.7 987.1,319.1 991.9,330.5 996.8,341.8 1001.7,353.2 1006.7,364.5 1011.8,375.8 1016.8,387.0 1021.9,398.2 1027.1,409.5 1032.3,420.6 1037.6,431.8 1042.8,442.9 1048.2,454.1 1053.6,465.2 1059.0,476.2 1064.5,487.3 1070.0,498.3 1075.6,509.3 1081.2,520.3 1086.9,531.2 1092.6,542.1 1098.3,553.0 1104.1,563.9 1109.9,574.8 1115.8,585.6 1121.8,596.4 1127.7,607.2 1133.8,618.0 1139.8,628.7 1145.9,639.4 1152.1,650.1 1158.3,660.8 1164.6,671.4 1170.8,682.0 1177.2,692.6 1183.6,703.2 1190.0,713.7 1196.5,724.2 1203.0,734.7 1209.6,745.2"/>
<polyline points="917.4,-176.0 920.2,-164.1 923.2,-152.1 926.1,-140.2 929.2,-128.3 932.2,-116.4 935.3,-104.5 938.5,-92.7 941.7,-80.9 944.9,-69.1 948.2,-57.3 951.5,-45.6 954.9,-33.8 958.3,-22.2 961.8,-10.5 965.3,1.2 968.9,12.8 972.5,24.4 976.2,36.0 979.8,47.5 983.6,59.0 987.4,70.6 991.2,82.0 995.1,93.5 999.0,104.9 1003.0,116.3 1007.0,127.7 1011.1,139.1 1015.2,150.4 1019.3,161.7 1023.5,173.0 1027.8,184.3 1032.0,195.5 1036.4,206.8 1040.7,218.0 1045.2,229.1 1049.6,240.3 1054.2,251.4 1058.7,262.5 1063.3,273.6 1068.0,284.6 1072.7,295.7 1077.4,306.7 1082.2,317.7 1087.0,328.6 1091.9,339.6 1096.8,350.5 1101.8,361.3 1106.8,372.2 1111.9,383.1 1117.0,393.9 1122.1,404.7 1127.3,415.4 1132.5,426.2 1137.8,436.9 1143.2,447.6 1148.5,458.3 1154.0,468.9 1159.4,479.5 1164.9,490.1 1170.5,500.7 1176.1,511.3 1181.7,521.8 1187.4,532.3 1193.2,542.8 1199.0,553.3 1204.8,563.7 1210.7,574.1 1216.6,584.5 1222.5,594.9 1228.6,605.2 1234.6,615.5 1240.7,625.8 1246.9,636.1 1253.1,646.3 1259.3,656.5 1265.6,666.7 1271.9,676.9 1278.3,687.1 1284.7,697.2"/>
<polyline points="1003.8,-196.5 1006.6,-184.8 1009.3,-173.2 1012.2,-161.6 1015.0,-150.1 1018.0,-138.5 1020.9,-127.0 1023.9,-115.5 1027.0,-104.1 1030.1,-92.6 1033.2,-81.2 1036.4,-69.8 1039.6,-58.4 1042.9,-47.1 1046.2,-35.8 1049.6,-24.5 1053.0,-13.2 1056.5,-1.9 1060.0,9.3 1063.5,20.5 1067.1,31.7 1070.8,42.8 1074.4,54.0 1078.2,65.1 1081.9,76.2 1085.8,87.2 1089.6,98.3 1093.5,109.3 1097.5,120.3 1101.5,131.2 1105.6,142.2 1109.7,153.1 1113.8,164.0 1118.0,174.9 1122.2,185.7 1126.5,196.5 1130.8,207.3 1135.2,218.1 1139.6,228.9 1144.0,239.6 1148.5,250.3 1153.1,261.0 1157.7,271.7 1162.3,282.3 1167.0,292.9 1171.7,303.5 1176.5,314.1 1181.3,324.6 1186.2,335.1 1191.1,345.6 1196.1,356.1 1201.1,366.5 1206.1,376.9 1211.2,387.3 1216.3,397.7 1221.5,408.1 1226.8,418.4 1232.0,428.7 1237.3,439.0 1242.7,449.2 1248.1,459.5 1253.6,469.7 1259.1,479.8 1264.6,490.0 1270.2,500.1 1275.8,510.3 1281.5,520.3 1287.3,530.4 1293.0,540.4 1298.8,550.5 1304.7,560.5 1310.6,570.4 1316.6,580.4 1322.6,590.3 1328.6,600.2 1334.7,610.1 1340.8,619.9 1347.0,629.7 1353.3,639.6 1359.5,649.3"/>
<polyline points="1090.0,-216.8 1092.6,-205.5 1095.2,-194.2 1097.9,-183.0 1100.6,-171.8 1103.4,-160.6 1106.2,-149.4 1109.0,-138.2 1111.9,-127.1 1114.9,-116.0 1117.9,-105.0 1120.9,-93.9 1124.0,-82.9 1127.1,-71.9 1130.3,-60.9 1133.5,-50.0 1136.8,-39.0 1140.1,-28.1 1143.5,-17.2 1146.9,-6.4 1150.3,4.4 1153.8,15.3 1157.4,26.0 1160.9,36.8 1164.6,47.5 1168.2,58.3 1172.0,69.0 1175.7,79.6 1179.5,90.3 1183.4,100.9 1187.3,111.5 1191.2,122.1 1195.2,132.6 1199.3,143.1 1203.4,153.6 1207.5,164.1 1211.7,174.6 1215.9,185.0 1220.1,195.4 1224.5,205.8 1228.8,216.1 1233.2,226.5 1237.7,236.8 1242.1,247.1 1246.7,257.3 1251.3,267.6 1255.9,277.8 1260.6,288.0 1265.3,298.2 1270.0,308.3 1274.9,318.4 1279.7,328.5 1284.6,338.6 1289.6,348.6 1294.5,358.7 1299.6,368.7 1304.7,378.7 1309.8,388.6 1315.0,398.5 1320.2,408.5 1325.4,418.3 1330.7,428.2 1336.1,438.0 1341.5,447.8 1346.9,457.6 1352.4,467.4 1358.0,477.1 1363.5,486.9 1369.2,496.5 1374.8,506.2 1380.6,515.9 1386.3,525.5 1392.1,535.1 1398.0,544.7 1403.9,554.2 1409.8,563.7 1415.8,573.2 1421.8,582.7 1427.9,592.2 1434.0,601.6"/>
<polyline points="1175.8,-236.9 1178.3,-225.9 1180.8,-215.0 1183.3,-204.1 1185.9,-193.3 1188.5,-182.4 1191.2,-171.6 1193.9,-160.8 1196.6,-150.0 1199.4,-139.3 1202.3,-128.6 1205.2,-117.9 1208.1,-107.2 1211.1,-96.5 1214.1,-85.9 1217.2,-75.3 1220.3,-64.7 1223.5,-54.2 1226.7,-43.6 1229.9,-33.1 1233.2,-22.6 1236.6,-12.2 1240.0,-1.7 1243.4,8.7 1246.9,19.1 1250.4,29.4 1254.0,39.8 1257.6,50.1 1261.3,60.4 1265.0,70.7 1268.7,80.9 1272.5,91.2 1276.4,101.4 1280.3,111.5 1284.2,121.7 1288.2,131.8 1292.2,141.9 1296.3,152.0 1300.4,162.1 1304.6,172.1 1308.8,182.1 1313.0,192.1 1317.3,202.1 1321.7,212.0 1326.1,221.9 1330.5,231.8 1335.0,241.7 1339.5,251.5 1344.1,261.4 1348.7,271.2 1353.3,280.9 1358.0,290.7 1362.8,300.4 1367.6,310.1 1372.4,319.8 1377.3,329.4 1382.3,339.1 1387.2,348.7 1392.3,358.3 1397.3,367.8 1402.4,377.4 1407.6,386.9 1412.8,396.4 1418.1,405.8 1423.4,415.3 1428.7,424.7 1434.1,434.1 1439.5,443.4 1445.0,452.8 1450.5,462.1 1456.1,471.4 1461.7,480.7 1467.4,489.9 1473.1,499.2 1478.8,508.4 1484.6,517.6 1490.5,526.7 1496.3,535.8 1502.3,545.0 1508.2,554.0"/>
<polyline points="1261.4,-256.9 1263.7,-246.3 1266.0,-235.7 1268.4,-225.2 1270.8,-214.6 1273.3,-204.2 1275.8,-193.7 1278.4,-183.2 1281.0,-172.8 1283.6,-162.4 1286.3,-152.0 1289.1,-141.7 1291.9,-131.3 1294.7,-121.0 1297.6,-110.8 1300.5,-100.5 1303.5,-90.3 1306.5,-80.1 1309.6,-69.9 1312.7,-59.7 1315.8,-49.6 1319.0,-39.4 1322.3,-29.4 1325.6,-19.3 1328.9,-9.2 1332.3,0.8 1335.7,10.8 1339.2,20.7 1342.7,30.7 1346.2,40.6 1349.9,50.5 1353.5,60.4 1357.2,70.3 1360.9,80.1 1364.7,89.9 1368.6,99.7 1372.4,109.4 1376.4,119.2 1380.3,128.9 1384.4,138.6 1388.4,148.2 1392.5,157.9 1396.7,167.5 1400.9,177.1 1405.1,186.7 1409.4,196.2 1413.7,205.7 1418.1,215.2 1422.5,224.7 1427.0,234.1 1431.5,243.6 1436.1,253.0 1440.7,262.4 1445.3,271.7 1450.0,281.0 1454.8,290.4 1459.5,299.6 1464.4,308.9 1469.3,318.1 1474.2,327.3 1479.1,336.5 1484.2,345.7 1489.2,354.8 1494.3,364.0 1499.5,373.1 1504.7,382.1 1509.9,391.2 1515.2,400.2 1520.5,409.2 1525.9,418.2 1531.3,427.1 1536.8,436.0 1542.3,444.9 1547.9,453.8 1553.5,462.7 1559.1,471.5 1564.8,480.3 1570.5,489.1 1576.3,497.9 1582.1,506.6"/>
<polyline points="1346.6,-276.7 1348.8,-266.5 1351.0,-256.2 1353.2,-246.0 1355.5,-235.9 1357.8,-225.7 1360.2,-215.6 1362.6,-205.5 1365.0,-195.4 1367.6,-185.4 1370.1,-175.3 1372.7,-165.3 1375.3,-155.4 1378.0,-145.4 1380.8,-135.5 1383.5,-125.5 1386.4,-115.7 1389.2,-105.8 1392.2,-96.0 1395.1,-86.1 1398.1,-76.3 1401.2,-66.6 1404.3,-56.8 1407.4,-47.1 1410.6,-37.4 1413.8,-27.7 1417.1,-18.1 1420.4,-8.5 1423.8,1.1 1427.2,10.7 1430.7,20.3 1434.2,29.8 1437.7,39.3 1441.3,48.8 1445.0,58.2 1448.6,67.7 1452.4,77.1 1456.2,86.5 1460.0,95.8 1463.8,105.2 1467.8,114.5 1471.7,123.8 1475.7,133.1 1479.8,142.3 1483.9,151.5 1488.0,160.7 1492.2,169.9 1496.4,179.1 1500.7,188.2 1505.0,197.3 1509.4,206.4 1513.8,215.4 1518.2,224.5 1522.8,233.5 1527.3,242.4 1531.9,251.4 1536.5,260.3 1541.2,269.3 1545.9,278.1 1550.7,287.0 1555.5,295.9 1560.4,304.7 1565.3,313.5 1570.3,322.2 1575.3,331.0 1580.3,339.7 1585.4,348.4 1590.5,357.1 1595.7,365.7 1601.0,374.4 1606.2,383.0 1611.6,391.5 1616.9,400.1 1622.3,408.6 1627.8,417.1 1633.3,425.6 1638.8,434.1 1644.4,442.5 1650.1,450.9 1655.7,459.3"/>
<polyline points="1431.6,-296.4 1433.6,-286.5 1435.6,-276.6 1437.7,-266.8 1439.8,-257.0 1442.0,-247.2 1444.2,-237.4 1446.5,-227.6 1448.8,-217.9 1451.2,-208.2 1453.6,-198.5 1456.0,-188.8 1458.5,-179.2 1461.0,-169.6 1463.6,-160.0 1466.3,-150.4 1468.9,-140.9 1471.7,-131.4 1474.4,-121.9 1477.2,-112.4 1480.1,-103.0 1483.0,-93.6 1486.0,-84.2 1488.9,-74.8 1492.0,-65.4 1495.1,-56.1 1498.2,-46.8 1501.4,-37.5 1504.6,-28.3 1507.9,-19.1 1511.2,-9.8 1514.5,-0.7 1517.9,8.5 1521.4,17.6 1524.9,26.7 1528.4,35.8 1532.0,44.9 1535.6,53.9 1539.3,63.0 1543.0,71.9 1546.8,80.9 1550.6,89.9 1554.5,98.8 1558.4,107.7 1562.3,116.6 1566.3,125.4 1570.3,134.2 1574.4,143.0 1578.5,151.8 1582.7,160.6 1586.9,169.3 1591.2,178.0 1595.5,186.7 1599.9,195.4 1604.3,204.0 1608.7,212.6 1613.2,221.2 1617.7,229.8 1622.3,238.3 1626.9,246.8 1631.6,255.3 1636.3,263.8 1641.1,272.2 1645.9,280.7 1650.8,289.1 1655.7,297.4 1660.6,305.8 1665.6,314.1 1670.6,322.4 1675.7,330.7 1680.8,339.0 1686.0,347.2 1691.2,355.4 1696.5,363.6 1701.8,371.7 1707.2,379.9 1712.6,388.0 1718.0,396.1 1723.5,404.2 1729.0,412.2"/>
<polyline points="597.4,13.4 619.1,7.5 640.7,1.5 662.3,-4.4 683.9,-10.4 705.5,-16.3 727.1,-22.2 748.6,-28.1 770.2,-34.0 791.7,-39.9 813.2,-45.8 834.6,-51.7 856.1,-57.5 877.5,-63.4 898.9,-69.2 920.3,-75.0 941.7,-80.9 963.0,-86.7 984.4,-92.5 1005.7,-98.3 1027.0,-104.1 1048.2,-109.9 1069.5,-115.6 1090.7,-121.4 1111.9,-127.1 1133.1,-132.9 1154.3,-138.6 1175.5,-144.3 1196.6,-150.0 1217.7,-155.7 1238.8,-161.4 1259.9,-167.1 1281.0,-172.8 1302.0,-178.5 1323.1,-184.1 1344.1,-189.8 1365.0,-195.4 1386.0,-201.1 1407.0,-206.7 1427.9,-212.3 1448.8,-217.9 1469.7,-223.5 1490.6,-229.1 1511.4,-234.6 1532.2,-240.2 1553.0,-245.8 1573.8,-251.3 1594.6,-256.9"/>
<polyline points="613.0,66.0 634.5,59.7 656.0,53.4 677.5,47.1 699.0,40.8 720.4,34.5 741.8,28.3 763.2,22.0 784.6,15.8 806.0,9.5 827.3,3.3 848.6,-2.9 869.9,-9.1 891.2,-15.3 912.5,-21.5 933.7,-27.7 954.9,-33.8 976.1,-40.0 997.3,-46.2 1018.5,-52.3 1039.6,-58.4 1060.8,-64.6 1081.9,-70.7 1102.9,-76.8 1124.0,-82.9 1145.1,-89.0 1166.1,-95.1 1187.1,-101.1 1208.1,-107.2 1229.1,-113.2 1250.0,-119.3 1271.0,-125.3 1291.9,-131.3 1312.8,-137.4 1333.7,-143.4 1354.5,-149.4 1375.3,-155.4 1396.2,-161.3 1417.0,-167.3 1437.7,-173.3 1458.5,-179.2 1479.2,-185.2 1500.0,-191.1 1520.7,-197.0 1541.4,-202.9 1562.0,-208.8 1582.7,-214.7 1603.3,-220.6"/>
<polyline points="629.4,118.2 650.7,111.5 672.1,104.9 693.4,98.2 714.7,91.6 736.0,85.0 757.3,78.4 778.5,71.8 799.7,65.2 821.0,58.6 842.1,52.0 863.3,45.5 884.5,38.9 905.6,32.4 926.7,25.8 947.8,19.3 968.9,12.8 990.0,6.3 1011.0,-0.2 1032.0,-6.7 1053.0,-13.2 1074.0,-19.7 1094.9,-26.1 1115.9,-32.6 1136.8,-39.0 1157.7,-45.5 1178.6,-51.9 1199.5,-58.3 1220.3,-64.7 1241.1,-71.1 1261.9,-77.5 1282.7,-83.9 1303.5,-90.3 1324.2,-96.6 1345.0,-103.0 1365.7,-109.3 1386.4,-115.7 1407.0,-122.0 1427.7,-128.3 1448.3,-134.6 1468.9,-140.9 1489.5,-147.2 1510.1,-153.5 1530.7,-159.7 1551.2,-166.0 1571.7,-172.3 1592.2,-178.5 1612.7,-184.7"/>
<polyline points="646.4,170.0 667.6,163.0 688.8,156.0 710.0,149.0 731.2,142.0 752.3,135.1 773.4,128.1 794.5,121.2 815.6,114.2 836.7,107.3 857.7,100.4 878.8,93.5 899.8,86.6 920.7,79.7 941.7,72.8 962.7,65.9 983.6,59.0 1004.5,52.2 1025.4,45.3 1046.3,38.5 1067.1,31.7 1087.9,24.9 1108.8,18.0 1129.6,11.2 1150.3,4.4 1171.1,-2.3 1191.8,-9.1 1212.5,-15.9 1233.2,-22.6 1253.9,-29.4 1274.6,-36.1 1295.2,-42.8 1315.8,-49.6 1336.4,-56.3 1357.0,-63.0 1377.6,-69.7 1398.1,-76.3 1418.6,-83.0 1439.1,-89.7 1459.6,-96.3 1480.1,-103.0 1500.5,-109.6 1521.0,-116.3 1541.4,-122.9 1561.8,-129.5 1582.1,-136.1 1602.5,-142.7 1622.8,-149.3"/>
<polyline points="664.2,221.4 685.3,214.1 706.3,206.8 727.4,199.4 748.4,192.1 769.4,184.8 790.3,177.5 811.3,170.2 832.2,162.9 853.1,155.6 874.0,148.3 894.9,141.1 915.8,133.8 936.6,126.6 957.4,119.4 978.2,112.1 999.0,104.9 1019.8,97.7 1040.5,90.5 1061.2,83.3 1081.9,76.2 1102.6,69.0 1123.3,61.8 1143.9,54.7 1164.6,47.5 1185.2,40.4 1205.8,33.3 1226.3,26.2 1246.9,19.1 1267.4,12.0 1287.9,4.9 1308.4,-2.2 1328.9,-9.2 1349.3,-16.3 1369.8,-23.3 1390.2,-30.4 1410.6,-37.4 1431.0,-44.4 1451.3,-51.4 1471.7,-58.5 1492.0,-65.4 1512.3,-72.4 1532.6,-79.4 1552.8,-86.4 1573.1,-93.3 1593.3,-100.3 1613.5,-107.2 1633.7,-114.1"/>
<polyline points="682.7,272.5 703.6,264.8 724.5,257.1 745.4,249.4 766.3,241.8 787.1,234.1 808.0,226.4 828.8,218.8 849.6,211.2 870.3,203.5 891.1,195.9 911.8,188.3 932.5,180.7 953.2,173.1 973.9,165.6 994.5,158.0 1015.2,150.4 1035.8,142.9 1056.4,135.3 1077.0,127.8 1097.5,120.3 1118.0,112.8 1138.6,105.3 1159.1,97.8 1179.5,90.3 1200.0,82.8 1220.4,75.3 1240.9,67.9 1261.3,60.4 1281.7,53.0 1302.0,45.5 1322.4,38.1 1342.7,30.7 1363.0,23.3 1383.3,15.9 1403.5,8.5 1423.8,1.1 1444.0,-6.2 1464.2,-13.6 1484.4,-20.9 1504.6,-28.3 1524.7,-35.6 1544.9,-42.9 1565.0,-50.3 1585.1,-57.6 1605.2,-64.8 1625.2,-72.1 1645.3,-79.4"/>
<polyline points="701.9,323.2 722.7,315.1 743.5,307.1 764.2,299.1 784.9,291.0 805.6,283.0 826.3,275.0 847.0,267.0 867.6,259.1 888.2,251.1 908.8,243.1 929.4,235.2 950.0,227.2 970.5,219.3 991.0,211.4 1011.6,203.5 1032.0,195.5 1052.5,187.6 1073.0,179.8 1093.4,171.9 1113.8,164.0 1134.2,156.1 1154.6,148.3 1174.9,140.4 1195.2,132.6 1215.6,124.8 1235.8,117.0 1256.1,109.2 1276.4,101.4 1296.6,93.6 1316.8,85.8 1337.0,78.0 1357.2,70.3 1377.4,62.5 1397.5,54.8 1417.6,47.0 1437.7,39.3 1457.8,31.6 1477.9,23.9 1497.9,16.2 1517.9,8.5 1537.9,0.8 1557.9,-6.9 1577.9,-14.5 1597.8,-22.2 1617.8,-29.8 1637.7,-37.4 1657.6,-45.1"/>
<polyline points="721.9,373.5 742.5,365.1 763.1,356.7 783.7,348.3 804.3,340.0 824.8,331.6 845.4,323.3 865.9,314.9 886.4,306.6 906.9,298.3 927.3,290.0 947.8,281.7 968.2,273.4 988.6,265.1 1008.9,256.8 1029.3,248.5 1049.6,240.3 1070.0,232.0 1090.3,223.8 1110.5,215.6 1130.8,207.3 1151.0,199.1 1171.3,190.9 1191.5,182.7 1211.7,174.6 1231.8,166.4 1252.0,158.2 1272.1,150.1 1292.2,141.9 1312.3,133.8 1332.4,125.7 1352.4,117.5 1372.4,109.4 1392.5,101.3 1412.5,93.2 1432.4,85.2 1452.4,77.1 1472.3,69.0 1492.2,61.0 1512.1,52.9 1532.0,44.9 1551.9,36.9 1571.7,28.9 1591.5,20.8 1611.3,12.8 1631.1,4.9 1650.9,-3.1 1670.6,-11.1"/>
<polyline points="742.6,423.4 763.1,414.6 783.5,405.9 804.0,397.2 824.4,388.5 844.8,379.8 865.2,371.1 885.5,362.4 905.9,353.7 926.2,345.1 946.5,336.4 966.8,327.7 987.1,319.1 1007.3,310.5 1027.6,301.9 1047.8,293.2 1068.0,284.6 1088.1,276.0 1108.3,267.5 1128.4,258.9 1148.5,250.3 1168.6,241.8 1188.7,233.2 1208.8,224.7 1228.8,216.1 1248.8,207.6 1268.8,199.1 1288.8,190.6 1308.8,182.1 1328.7,173.6 1348.6,165.2 1368.5,156.7 1388.4,148.2 1408.3,139.8 1428.1,131.4 1447.9,122.9 1467.8,114.5 1487.5,106.1 1507.3,97.7 1527.1,89.3 1546.8,80.9 1566.5,72.5 1586.2,64.2 1605.9,55.8 1625.5,47.5 1645.1,39.1 1664.8,30.8 1684.4,22.5"/>
<polyline points="764.0,472.9 784.3,463.8 804.6,454.8 824.9,445.7 845.2,436.6 865.5,427.6 885.7,418.5 905.9,409.5 926.1,400.5 946.3,391.5 966.5,382.5 986.6,373.5 1006.7,364.5 1026.8,355.5 1046.9,346.5 1067.0,337.6 1087.0,328.6 1107.0,319.7 1127.1,310.7 1147.0,301.8 1167.0,292.9 1187.0,284.0 1206.9,275.1 1226.8,266.2 1246.7,257.3 1266.6,248.5 1286.4,239.6 1306.2,230.8 1326.1,221.9 1345.8,213.1 1365.6,204.3 1385.4,195.5 1405.1,186.7 1424.8,177.9 1444.5,169.1 1464.2,160.3 1483.9,151.5 1503.5,142.8 1523.1,134.0 1542.7,125.3 1562.3,116.6 1581.9,107.8 1601.4,99.1 1620.9,90.4 1640.4,81.7 1659.9,73.0 1679.4,64.4 1698.8,55.7"/>
<polyline points="786.1,522.1 806.3,512.6 826.5,503.2 846.6,493.8 866.8,484.4 886.9,475.0 907.0,465.6 927.0,456.2 947.1,446.9 967.1,437.5 987.1,428.1 1007.1,418.8 1027.1,409.5 1047.1,400.1 1067.0,390.8 1086.9,381.5 1106.8,372.2 1126.7,362.9 1146.5,353.6 1166.4,344.4 1186.2,335.1 1206.0,325.9 1225.8,316.6 1245.5,307.4 1265.3,298.2 1285.0,288.9 1304.7,279.7 1324.4,270.5 1344.1,261.4 1363.7,252.2 1383.3,243.0 1402.9,233.8 1422.5,224.7 1442.1,215.6 1461.6,206.4 1481.2,197.3 1500.7,188.2 1520.2,179.1 1539.7,170.0 1559.1,160.9 1578.5,151.8 1598.0,142.8 1617.4,133.7 1636.7,124.6 1656.1,115.6 1675.4,106.6 1694.7,97.5 1714.0,88.5"/>
<polyline points="809.0,570.9 829.0,561.1 849.1,551.3 869.1,541.5 889.0,531.8 909.0,522.0 928.9,512.3 948.9,502.6 968.8,492.8 988.7,483.1 1008.5,473.4 1028.4,463.7 1048.2,454.1 1068.0,444.4 1087.8,434.7 1107.6,425.1 1127.3,415.4 1147.0,405.8 1166.7,396.2 1186.4,386.5 1206.1,376.9 1225.8,367.3 1245.4,357.8 1265.0,348.2 1284.6,338.6 1304.2,329.0 1323.7,319.5 1343.3,309.9 1362.8,300.4 1382.3,290.9 1401.8,281.4 1421.2,271.9 1440.7,262.4 1460.1,252.9 1479.5,243.4 1498.9,233.9 1518.2,224.5 1537.6,215.0 1556.9,205.6 1576.2,196.1 1595.5,186.7 1614.8,177.3 1634.0,167.9 1653.3,158.5 1672.5,149.1 1691.7,139.7 1710.8,130.3 1730.0,121.0"/>
<polyline points="832.6,619.2 852.5,609.1 872.4,599.0 892.2,588.9 912.0,578.8 931.9,568.7 951.6,558.6 971.4,548.5 991.2,538.5 1010.9,528.4 1030.6,518.4 1050.3,508.3 1070.0,498.3 1089.7,488.3 1109.3,478.3 1128.9,468.3 1148.5,458.3 1168.1,448.3 1187.7,438.3 1207.2,428.3 1226.8,418.4 1246.3,408.4 1265.7,398.5 1285.2,388.6 1304.7,378.7 1324.1,368.7 1343.5,358.8 1362.9,349.0 1382.3,339.1 1401.6,329.2 1420.9,319.3 1440.3,309.5 1459.5,299.6 1478.8,289.8 1498.1,280.0 1517.3,270.2 1536.5,260.3 1555.7,250.5 1574.9,240.8 1594.1,231.0 1613.2,221.2 1632.3,211.4 1651.4,201.7 1670.5,191.9 1689.6,182.2 1708.6,172.5 1727.6,162.8 1746.6,153.1"/>
<polyline points="856.9,667.3 876.6,656.8 896.4,646.3 916.1,635.9 935.8,625.4 955.4,615.0 975.1,604.5 994.7,594.1 1014.3,583.7 1033.9,573.3 1053.5,562.9 1073.0,552.5 1092.6,542.1 1112.1,531.8 1131.6,521.4 1151.0,511.1 1170.5,500.7 1189.9,490.4 1209.3,480.1 1228.7,469.8 1248.1,459.5 1267.5,449.2 1286.8,438.9 1306.1,428.6 1325.4,418.3 1344.7,408.1 1364.0,397.8 1383.2,387.6 1402.4,377.4 1421.6,367.1 1440.8,356.9 1460.0,346.7 1479.1,336.5 1498.3,326.3 1517.4,316.2 1536.5,306.0 1555.5,295.9 1574.6,285.7 1593.6,275.6 1612.6,265.4 1631.6,255.3 1650.6,245.2 1669.5,235.1 1688.5,225.0 1707.4,214.9 1726.3,204.9 1745.2,194.8 1764.0,184.7"/>
<polyline points="881.9,714.9 901.5,704.1 921.1,693.3 940.7,682.5 960.2,671.7 979.7,660.9 999.2,650.1 1018.7,639.3 1038.2,628.6 1057.6,617.8 1077.0,607.1 1096.4,596.3 1115.8,585.6 1135.2,574.9 1154.5,564.2 1173.9,553.5 1193.2,542.8 1212.5,532.1 1231.7,521.5 1251.0,510.8 1270.2,500.1 1289.4,489.5 1308.6,478.9 1327.8,468.2 1346.9,457.6 1366.1,447.0 1385.2,436.4 1404.3,425.8 1423.4,415.3 1442.4,404.7 1461.5,394.1 1480.5,383.6 1499.5,373.1 1518.4,362.5 1537.4,352.0 1556.4,341.5 1575.3,331.0 1594.2,320.5 1613.1,310.0 1631.9,299.5 1650.8,289.1 1669.6,278.6 1688.4,268.2 1707.2,257.7 1726.0,247.3 1744.7,236.9 1763.4,226.4 1782.1,216.0"/>
<polyline points="907.7,762.2 927.2,751.0 946.6,739.8 966.0,728.7 985.4,717.5 1004.8,706.4 1024.1,695.3 1043.4,684.1 1062.8,673.0 1082.1,661.9 1101.3,650.8 1120.6,639.8 1139.8,628.7 1159.0,617.6 1178.2,606.6 1197.4,595.5 1216.6,584.5 1235.7,573.5 1254.8,562.5 1273.9,551.4 1293.0,540.4 1312.1,529.5 1331.1,518.5 1350.2,507.5 1369.2,496.5 1388.2,485.6 1407.1,474.7 1426.1,463.7 1445.0,452.8 1463.9,441.9 1482.8,431.0 1501.7,420.1 1520.5,409.2 1539.4,398.3 1558.2,387.4 1577.0,376.6 1595.7,365.7 1614.5,354.9 1633.2,344.1 1651.9,333.2 1670.6,322.4 1689.3,311.6 1708.0,300.8 1726.6,290.0 1745.2,279.3 1763.8,268.5 1782.4,257.7 1801.0,247.0"/>
<polyline points="934.2,809.0 953.5,797.5 972.8,786.0 992.0,774.5 1011.3,763.0 1030.5,751.5 1049.7,740.0 1068.9,728.6 1088.1,717.1 1107.2,705.7 1126.4,694.2 1145.5,682.8 1164.6,671.4 1183.6,660.0 1202.7,648.6 1221.7,637.2 1240.7,625.8 1259.7,614.4 1278.7,603.1 1297.6,591.7 1316.6,580.4 1335.5,569.0 1354.4,557.7 1373.3,546.4 1392.1,535.1 1411.0,523.8 1429.8,512.5 1448.6,501.2 1467.4,489.9 1486.1,478.7 1504.9,467.4 1523.6,456.2 1542.3,444.9 1561.0,433.7 1579.6,422.5 1598.3,411.3 1616.9,400.1 1635.5,388.9 1654.1,377.7 1672.7,366.6 1691.2,355.4 1709.8,344.2 1728.3,333.1 1746.8,322.0 1765.2,310.8 1783.7,299.7 1802.1,288.6 1820.5,277.5"/>
</g>
<rect x="1061.50" y="39.50" width="360.90" height="302.70" fill="none" stroke="#000" stroke-width="1.1"/>
<rect x="1073.30" y="50.50" width="31.30" height="41.00" fill="#fff" stroke="#000" stroke-width="1.3"/>
<text x="1088.95" y="77.59" font-size="24.84" text-anchor="middle" textLength="13.42" lengthAdjust="spacingAndGlyphs" fill="#000">c</text>
<line x1="1173.60" y1="342.20" x2="1173.60" y2="347.10" stroke="#000" stroke-width="1.1"/>
<line x1="1280.20" y1="342.20" x2="1280.20" y2="347.10" stroke="#000" stroke-width="1.1"/>
<line x1="1379.20" y1="342.20" x2="1379.20" y2="347.10" stroke="#000" stroke-width="1.1"/>
<line x1="1056.60" y1="267.20" x2="1061.50" y2="267.20" stroke="#000" stroke-width="1.1"/>
<text x="199.36" y="30.90" font-size="26.00" textLength="205.45" lengthAdjust="spacingAndGlyphs" fill="#000">Weertman–Budd</text>
<text x="39.33" y="276.70" font-size="26.00" textLength="71.70" lengthAdjust="spacingAndGlyphs" fill="#000">74.0S</text>
<text x="178.66" y="370.60" font-size="26.00" textLength="102.28" lengthAdjust="spacingAndGlyphs" fill="#000">-110.0W</text>
<text x="286.19" y="370.60" font-size="26.00" textLength="101.22" lengthAdjust="spacingAndGlyphs" fill="#000">-109.0W</text>
<text x="384.97" y="370.60" font-size="26.00" textLength="102.94" lengthAdjust="spacingAndGlyphs" fill="#000">-108.0W</text>
<text x="717.62" y="30.90" font-size="26.00" textLength="107.40" lengthAdjust="spacingAndGlyphs" fill="#000">Cornford</text>
<text x="510.13" y="276.70" font-size="26.00" textLength="71.70" lengthAdjust="spacingAndGlyphs" fill="#000">74.0S</text>
<text x="649.46" y="370.60" font-size="26.00" textLength="102.28" lengthAdjust="spacingAndGlyphs" fill="#000">-110.0W</text>
<text x="756.99" y="370.60" font-size="26.00" textLength="101.22" lengthAdjust="spacingAndGlyphs" fill="#000">-109.0W</text>
<text x="855.77" y="370.60" font-size="26.00" textLength="102.94" lengthAdjust="spacingAndGlyphs" fill="#000">-108.0W</text>
<text x="1140.36" y="30.90" font-size="26.00" textLength="205.45" lengthAdjust="spacingAndGlyphs" fill="#000">Weertman–Budd</text>
<text x="980.33" y="276.70" font-size="26.00" textLength="71.70" lengthAdjust="spacingAndGlyphs" fill="#000">74.0S</text>
<text x="1119.66" y="370.60" font-size="26.00" textLength="102.28" lengthAdjust="spacingAndGlyphs" fill="#000">-110.0W</text>
<text x="1227.19" y="370.60" font-size="26.00" textLength="101.22" lengthAdjust="spacingAndGlyphs" fill="#000">-109.0W</text>
<text x="1325.97" y="370.60" font-size="26.00" textLength="102.94" lengthAdjust="spacingAndGlyphs" fill="#000">-108.0W</text>
<rect x="136.95" y="391.3" width="329.09" height="15.20" fill="url(#vir)"/>
<polygon points="137.25,391.3 120.50,398.90 137.25,406.5" fill="#440154"/>
<polygon points="465.75,391.3 482.50,398.90 465.75,406.5" fill="#fde725"/>
<polygon points="136.95,391.3 120.50,398.90 136.95,406.5 466.05,406.5 482.50,398.90 466.05,391.3" fill="none" stroke="#000" stroke-width="1.1" stroke-linejoin="miter"/>
<line x1="136.95" y1="406.50" x2="136.95" y2="412.00" stroke="#000" stroke-width="1.1"/>
<text x="129.75" y="435.50" font-size="26.00" textLength="14.28" lengthAdjust="spacingAndGlyphs" fill="#000">0</text>
<line x1="301.50" y1="406.50" x2="301.50" y2="412.00" stroke="#000" stroke-width="1.1"/>
<text x="286.74" y="435.50" font-size="26.00" textLength="29.63" lengthAdjust="spacingAndGlyphs" fill="#000">50</text>
<line x1="466.05" y1="406.50" x2="466.05" y2="412.00" stroke="#000" stroke-width="1.1"/>
<text x="443.40" y="435.50" font-size="26.00" textLength="45.42" lengthAdjust="spacingAndGlyphs" fill="#000">100</text>
<rect x="607.71" y="391.3" width="328.27" height="15.20" fill="url(#vir)"/>
<polygon points="608.01,391.3 591.30,398.90 608.01,406.5" fill="#440154"/>
<polygon points="935.69,391.3 952.40,398.90 935.69,406.5" fill="#fde725"/>
<polygon points="607.71,391.3 591.30,398.90 607.71,406.5 935.99,406.5 952.40,398.90 935.99,391.3" fill="none" stroke="#000" stroke-width="1.1" stroke-linejoin="miter"/>
<line x1="607.71" y1="406.50" x2="607.71" y2="412.00" stroke="#000" stroke-width="1.1"/>
<text x="600.51" y="435.50" font-size="26.00" textLength="14.28" lengthAdjust="spacingAndGlyphs" fill="#000">0</text>
<line x1="771.85" y1="406.50" x2="771.85" y2="412.00" stroke="#000" stroke-width="1.1"/>
<text x="749.31" y="435.50" font-size="26.00" textLength="45.32" lengthAdjust="spacingAndGlyphs" fill="#000">500</text>
<line x1="935.99" y1="406.50" x2="935.99" y2="412.00" stroke="#000" stroke-width="1.1"/>
<text x="905.57" y="435.50" font-size="26.00" textLength="60.83" lengthAdjust="spacingAndGlyphs" fill="#000">1000</text>
<rect x="1077.90" y="391.3" width="328.09" height="15.20" fill="url(#vir)"/>
<polygon points="1078.20,391.3 1061.50,398.90 1078.20,406.5" fill="#440154"/>
<polygon points="1405.70,391.3 1422.40,398.90 1405.70,406.5" fill="#fde725"/>
<polygon points="1077.90,391.3 1061.50,398.90 1077.90,406.5 1406.00,406.5 1422.40,398.90 1406.00,391.3" fill="none" stroke="#000" stroke-width="1.1" stroke-linejoin="miter"/>
<line x1="1077.90" y1="406.50" x2="1077.90" y2="412.00" stroke="#000" stroke-width="1.1"/>
<text x="1070.70" y="435.50" font-size="26.00" textLength="14.28" lengthAdjust="spacingAndGlyphs" fill="#000">0</text>
<line x1="1241.95" y1="406.50" x2="1241.95" y2="412.00" stroke="#000" stroke-width="1.1"/>
<text x="1227.13" y="435.50" font-size="26.00" textLength="29.32" lengthAdjust="spacingAndGlyphs" fill="#000">15</text>
<line x1="1406.00" y1="406.50" x2="1406.00" y2="412.00" stroke="#000" stroke-width="1.1"/>
<text x="1391.24" y="435.50" font-size="26.00" textLength="29.63" lengthAdjust="spacingAndGlyphs" fill="#000">30</text>
<text x="142.65" y="467.60" font-size="26.00" textLength="290.29" lengthAdjust="spacingAndGlyphs" fill="#000">Sliding parameter STD(</text>
<text x="434.75" y="467.60" font-size="26.00" textLength="15.48" lengthAdjust="spacingAndGlyphs" font-style="italic" fill="#000">α</text>
<text x="452.79" y="467.60" font-size="26.00" textLength="7.16" lengthAdjust="spacingAndGlyphs" fill="#000">)</text>
<text x="196.49" y="503.00" font-size="26.00" textLength="8.75" lengthAdjust="spacingAndGlyphs" fill="#000">[</text>
<text x="206.68" y="503.00" font-size="26.00" textLength="24.58" lengthAdjust="spacingAndGlyphs" fill="#000">m</text>
<text x="232.85" y="492.90" font-size="18.90" textLength="41.26" lengthAdjust="spacingAndGlyphs" fill="#000">−1/6</text>
<text x="283.90" y="503.00" font-size="26.00" textLength="24.94" lengthAdjust="spacingAndGlyphs" fill="#000">yr</text>
<text x="309.22" y="492.90" font-size="18.90" textLength="27.48" lengthAdjust="spacingAndGlyphs" fill="#000">1/6</text>
<text x="345.12" y="503.00" font-size="26.00" textLength="28.76" lengthAdjust="spacingAndGlyphs" fill="#000">Pa</text>
<text x="374.60" y="492.90" font-size="18.90" textLength="27.80" lengthAdjust="spacingAndGlyphs" fill="#000">1/2</text>
<text x="405.14" y="503.00" font-size="26.00" textLength="8.75" lengthAdjust="spacingAndGlyphs" fill="#000">]</text>
<text x="613.45" y="467.60" font-size="26.00" textLength="290.29" lengthAdjust="spacingAndGlyphs" fill="#000">Sliding parameter STD(</text>
<text x="905.55" y="467.60" font-size="26.00" textLength="15.48" lengthAdjust="spacingAndGlyphs" font-style="italic" fill="#000">α</text>
<text x="923.59" y="467.60" font-size="26.00" textLength="7.16" lengthAdjust="spacingAndGlyphs" fill="#000">)</text>
<text x="667.29" y="503.00" font-size="26.00" textLength="8.75" lengthAdjust="spacingAndGlyphs" fill="#000">[</text>
<text x="677.48" y="503.00" font-size="26.00" textLength="24.58" lengthAdjust="spacingAndGlyphs" fill="#000">m</text>
<text x="703.65" y="492.90" font-size="18.90" textLength="41.26" lengthAdjust="spacingAndGlyphs" fill="#000">−1/6</text>
<text x="754.70" y="503.00" font-size="26.00" textLength="24.94" lengthAdjust="spacingAndGlyphs" fill="#000">yr</text>
<text x="780.02" y="492.90" font-size="18.90" textLength="27.48" lengthAdjust="spacingAndGlyphs" fill="#000">1/6</text>
<text x="815.92" y="503.00" font-size="26.00" textLength="28.76" lengthAdjust="spacingAndGlyphs" fill="#000">Pa</text>
<text x="845.40" y="492.90" font-size="18.90" textLength="27.80" lengthAdjust="spacingAndGlyphs" fill="#000">1/2</text>
<text x="875.94" y="503.00" font-size="26.00" textLength="8.75" lengthAdjust="spacingAndGlyphs" fill="#000">]</text>
<text x="1049.97" y="467.60" font-size="26.00" textLength="357.46" lengthAdjust="spacingAndGlyphs" fill="#000">Ice stiffness parameter STD(</text>
<text x="1408.64" y="467.60" font-size="26.00" textLength="14.61" lengthAdjust="spacingAndGlyphs" font-style="italic" fill="#000">β</text>
<text x="1425.38" y="467.60" font-size="26.00" textLength="8.04" lengthAdjust="spacingAndGlyphs" fill="#000">)</text>
<text x="1170.39" y="503.00" font-size="26.00" textLength="8.75" lengthAdjust="spacingAndGlyphs" fill="#000">[</text>
<text x="1180.28" y="503.00" font-size="26.00" textLength="29.40" lengthAdjust="spacingAndGlyphs" fill="#000">Pa</text>
<text x="1211.54" y="492.90" font-size="18.90" textLength="27.14" lengthAdjust="spacingAndGlyphs" fill="#000">1/2</text>
<text x="1238.68" y="503.00" font-size="26.00" textLength="10.24" lengthAdjust="spacingAndGlyphs" fill="#000">.</text>
<text x="1257.50" y="503.00" font-size="26.00" textLength="24.43" lengthAdjust="spacingAndGlyphs" fill="#000">yr</text>
<text x="1282.05" y="492.90" font-size="18.90" textLength="26.82" lengthAdjust="spacingAndGlyphs" fill="#000">1/6</text>
<text x="1312.16" y="503.00" font-size="26.00" textLength="7.92" lengthAdjust="spacingAndGlyphs" fill="#000">]</text>
<defs><clipPath id="cpd"><rect x="120.5" y="600.5" width="362.1" height="365.79999999999995"/></clipPath></defs>
<g clip-path="url(#cpd)">
<polygon points="137.0,616.2 141.1,618.9 145.2,621.6 149.3,624.4 153.4,627.1 157.5,630.0 161.6,632.8 165.8,635.6 169.9,638.5 174.0,641.5 178.1,644.4 182.2,647.4 186.3,650.4 190.5,653.4 194.6,656.5 198.7,659.5 202.8,662.6 206.9,665.8 211.0,668.9 215.1,672.1 219.3,675.3 223.4,678.6 227.5,681.8 231.6,685.1 235.7,688.4 239.8,691.7 243.9,695.1 248.1,698.5 252.2,701.9 256.3,705.3 260.4,708.8 264.5,712.3 268.6,715.8 272.7,719.3 276.9,722.8 281.0,726.4 285.1,730.0 289.2,733.6 293.3,737.3 297.4,740.9 301.6,744.6 305.7,748.3 309.8,752.1 313.9,755.8 318.0,759.6 322.1,763.4 326.2,767.2 330.4,771.0 334.5,774.9 338.6,778.8 342.7,782.6 346.8,786.6 350.9,790.5 355.0,794.5 359.2,798.4 363.3,802.4 367.4,806.4 371.5,810.5 375.6,814.5 379.7,818.6 383.8,822.7 388.0,826.8 392.1,830.9 396.2,835.1 400.3,839.2 404.4,843.4 408.5,847.6 412.6,851.8 416.8,856.1 420.9,860.3 425.0,864.6 429.1,868.9 433.2,873.2 437.3,877.5 441.5,881.8 445.6,886.2 449.7,890.5 453.8,894.9 457.9,899.3 462.0,903.7 466.1,908.2 466.1,934.9 462.0,930.6 457.9,926.3 453.8,922.0 449.7,917.7 445.6,913.4 441.5,909.2 437.3,904.9 433.2,900.7 429.1,896.5 425.0,892.2 420.9,888.0 416.8,883.8 412.6,879.7 408.5,875.5 404.4,871.3 400.3,867.1 396.2,863.0 392.1,858.8 388.0,854.7 383.8,850.6 379.7,846.5 375.6,842.4 371.5,838.3 367.4,834.2 363.3,830.1 359.2,826.0 355.0,822.0 350.9,817.9 346.8,813.9 342.7,809.8 338.6,805.8 334.5,801.8 330.4,797.7 326.2,793.7 322.1,789.7 318.0,785.7 313.9,781.7 309.8,777.8 305.7,773.8 301.6,769.8 297.4,765.9 293.3,761.9 289.2,758.0 285.1,754.0 281.0,750.1 276.9,746.2 272.7,742.3 268.6,738.4 264.5,734.5 260.4,730.6 256.3,726.7 252.2,722.8 248.1,718.9 243.9,715.0 239.8,711.2 235.7,707.3 231.6,703.5 227.5,699.6 223.4,695.8 219.3,691.9 215.1,688.1 211.0,684.3 206.9,680.4 202.8,676.6 198.7,672.8 194.6,669.0 190.5,665.2 186.3,661.4 182.2,657.6 178.1,653.8 174.0,650.0 169.9,646.3 165.8,642.5 161.6,638.7 157.5,635.0 153.4,631.2 149.3,627.4 145.2,623.7 141.1,619.9 137.0,616.2" fill="#1f77b4" fill-opacity="0.5"/>
<polyline points="137.0,616.2 141.1,619.6 145.2,623.0 149.3,626.4 153.4,629.8 157.5,633.2 161.6,636.6 165.8,640.0 169.9,643.4 174.0,646.8 178.1,650.2 182.2,653.6 186.3,656.9 190.5,660.3 194.6,663.7 198.7,667.1 202.8,670.5 206.9,673.9 211.0,677.3 215.1,680.8 219.3,684.2 223.4,687.6 227.5,691.0 231.6,694.5 235.7,697.9 239.8,701.4 243.9,704.8 248.1,708.3 252.2,711.8 256.3,715.3 260.4,718.8 264.5,722.3 268.6,725.8 272.7,729.4 276.9,732.9 281.0,736.5 285.1,740.0 289.2,743.6 293.3,747.2 297.4,750.9 301.6,754.5 305.7,758.1 309.8,761.8 313.9,765.5 318.0,769.2 322.1,772.9 326.2,776.7 330.4,780.4 334.5,784.2 338.6,788.0 342.7,791.8 346.8,795.7 350.9,799.5 355.0,803.4 359.2,807.4 363.3,811.3 367.4,815.2 371.5,819.2 375.6,823.2 379.7,827.3 383.8,831.3 388.0,835.4 392.1,839.6 396.2,843.7 400.3,847.9 404.4,852.1 408.5,856.3 412.6,860.6 416.8,864.9 420.9,869.2 425.0,873.5 429.1,877.9 433.2,882.4 437.3,886.8 441.5,891.3 445.6,895.8 449.7,900.4 453.8,905.0 457.9,909.6 462.0,914.3 466.1,919.0" fill="none" stroke="#1f77b4" stroke-width="1.4" stroke-linejoin="round"/>
<polygon points="137.0,614.0 141.1,617.0 145.2,620.0 149.3,623.0 153.4,626.2 157.5,629.3 161.6,632.5 165.8,635.8 169.9,639.1 174.0,642.4 178.1,645.8 182.2,649.3 186.3,652.7 190.5,656.3 194.6,659.8 198.7,663.4 202.8,667.0 206.9,670.7 211.0,674.4 215.1,678.1 219.3,681.9 223.4,685.7 227.5,689.5 231.6,693.4 235.7,697.3 239.8,701.2 243.9,705.2 248.1,709.2 252.2,713.2 256.3,717.2 260.4,721.3 264.5,725.3 268.6,729.4 272.7,733.6 276.9,737.7 281.0,741.9 285.1,746.1 289.2,750.3 293.3,754.5 297.4,758.7 301.6,763.0 305.7,767.2 309.8,771.5 313.9,775.8 318.0,780.1 322.1,784.4 326.2,788.7 330.4,793.1 334.5,797.4 338.6,801.8 342.7,806.1 346.8,810.5 350.9,814.8 355.0,819.2 359.2,823.5 363.3,827.9 367.4,832.3 371.5,836.6 375.6,841.0 379.7,845.4 383.8,849.7 388.0,854.1 392.1,858.4 396.2,862.8 400.3,867.1 404.4,871.4 408.5,875.7 412.6,880.0 416.8,884.3 420.9,888.6 425.0,892.9 429.1,897.1 433.2,901.4 437.3,905.6 441.5,909.8 445.6,914.0 449.7,918.2 453.8,922.3 457.9,926.5 462.0,930.6 466.1,934.7 466.1,949.8 462.0,945.6 457.9,941.3 453.8,937.1 449.7,932.8 445.6,928.5 441.5,924.1 437.3,919.8 433.2,915.4 429.1,911.1 425.0,906.7 420.9,902.3 416.8,897.8 412.6,893.4 408.5,889.0 404.4,884.5 400.3,880.1 396.2,875.6 392.1,871.1 388.0,866.6 383.8,862.1 379.7,857.7 375.6,853.2 371.5,848.7 367.4,844.2 363.3,839.7 359.2,835.2 355.0,830.7 350.9,826.2 346.8,821.7 342.7,817.2 338.6,812.7 334.5,808.2 330.4,803.7 326.2,799.3 322.1,794.8 318.0,790.4 313.9,785.9 309.8,781.5 305.7,777.1 301.6,772.7 297.4,768.3 293.3,763.9 289.2,759.6 285.1,755.3 281.0,750.9 276.9,746.6 272.7,742.4 268.6,738.1 264.5,733.9 260.4,729.6 256.3,725.4 252.2,721.3 248.1,717.1 243.9,713.0 239.8,708.9 235.7,704.9 231.6,700.8 227.5,696.8 223.4,692.9 219.3,688.9 215.1,685.0 211.0,681.2 206.9,677.3 202.8,673.5 198.7,669.8 194.6,666.0 190.5,662.3 186.3,658.7 182.2,655.1 178.1,651.5 174.0,648.0 169.9,644.5 165.8,641.1 161.6,637.7 157.5,634.3 153.4,631.0 149.3,627.8 145.2,624.6 141.1,621.4 137.0,618.3" fill="#ff7f0e" fill-opacity="0.5"/>
<polyline points="137.0,616.2 141.1,619.2 145.2,622.3 149.3,625.5 153.4,628.7 157.5,631.9 161.6,635.2 165.8,638.5 169.9,641.9 174.0,645.3 178.1,648.7 182.2,652.2 186.3,655.8 190.5,659.4 194.6,663.0 198.7,666.7 202.8,670.4 206.9,674.1 211.0,677.9 215.1,681.7 219.3,685.5 223.4,689.4 227.5,693.3 231.6,697.2 235.7,701.2 239.8,705.2 243.9,709.2 248.1,713.3 252.2,717.3 256.3,721.4 260.4,725.6 264.5,729.7 268.6,733.9 272.7,738.1 276.9,742.3 281.0,746.5 285.1,750.8 289.2,755.1 293.3,759.3 297.4,763.6 301.6,768.0 305.7,772.3 309.8,776.6 313.9,781.0 318.0,785.4 322.1,789.8 326.2,794.1 330.4,798.5 334.5,803.0 338.6,807.4 342.7,811.8 346.8,816.2 350.9,820.6 355.0,825.1 359.2,829.5 363.3,833.9 367.4,838.4 371.5,842.8 375.6,847.2 379.7,851.7 383.8,856.1 388.0,860.5 392.1,864.9 396.2,869.3 400.3,873.7 404.4,878.1 408.5,882.5 412.6,886.9 416.8,891.3 420.9,895.6 425.0,899.9 429.1,904.3 433.2,908.6 437.3,912.9 441.5,917.2 445.6,921.4 449.7,925.7 453.8,929.9 457.9,934.1 462.0,938.3 466.1,942.4" fill="none" stroke="#ff7f0e" stroke-width="1.4" stroke-linejoin="round"/>
</g>
<rect x="120.50" y="600.50" width="362.10" height="365.80" fill="none" stroke="#000" stroke-width="1.1"/>
<line x1="115.60" y1="616.20" x2="120.50" y2="616.20" stroke="#000" stroke-width="1.1"/>
<text x="72.50" y="625.90" font-size="26.00" textLength="37.66" lengthAdjust="spacingAndGlyphs" fill="#000">0.0</text>
<line x1="115.60" y1="671.63" x2="120.50" y2="671.63" stroke="#000" stroke-width="1.1"/>
<text x="52.67" y="681.34" font-size="26.00" textLength="57.11" lengthAdjust="spacingAndGlyphs" fill="#000">−0.5</text>
<line x1="115.60" y1="727.07" x2="120.50" y2="727.07" stroke="#000" stroke-width="1.1"/>
<text x="52.66" y="736.77" font-size="26.00" textLength="57.47" lengthAdjust="spacingAndGlyphs" fill="#000">−1.0</text>
<line x1="115.60" y1="782.51" x2="120.50" y2="782.51" stroke="#000" stroke-width="1.1"/>
<text x="52.67" y="792.21" font-size="26.00" textLength="57.11" lengthAdjust="spacingAndGlyphs" fill="#000">−1.5</text>
<line x1="115.60" y1="837.94" x2="120.50" y2="837.94" stroke="#000" stroke-width="1.1"/>
<text x="52.66" y="847.64" font-size="26.00" textLength="57.47" lengthAdjust="spacingAndGlyphs" fill="#000">−2.0</text>
<line x1="115.60" y1="893.38" x2="120.50" y2="893.38" stroke="#000" stroke-width="1.1"/>
<text x="52.67" y="903.08" font-size="26.00" textLength="57.11" lengthAdjust="spacingAndGlyphs" fill="#000">−2.5</text>
<line x1="115.60" y1="948.81" x2="120.50" y2="948.81" stroke="#000" stroke-width="1.1"/>
<text x="52.66" y="958.51" font-size="26.00" textLength="57.47" lengthAdjust="spacingAndGlyphs" fill="#000">−3.0</text>
<line x1="136.96" y1="966.30" x2="136.96" y2="971.20" stroke="#000" stroke-width="1.1"/>
<text x="129.76" y="994.70" font-size="26.00" textLength="14.28" lengthAdjust="spacingAndGlyphs" fill="#000">0</text>
<line x1="301.55" y1="966.30" x2="301.55" y2="971.20" stroke="#000" stroke-width="1.1"/>
<text x="286.38" y="994.70" font-size="26.00" textLength="30.05" lengthAdjust="spacingAndGlyphs" fill="#000">20</text>
<line x1="466.14" y1="966.30" x2="466.14" y2="971.20" stroke="#000" stroke-width="1.1"/>
<text x="451.30" y="994.70" font-size="26.00" textLength="29.71" lengthAdjust="spacingAndGlyphs" fill="#000">40</text>
<text x="237.41" y="1024.30" font-size="26.00" textLength="113.81" lengthAdjust="spacingAndGlyphs" fill="#000">Time [yr]</text>
<text x="121.13" y="595.90" font-size="26.00" textLength="61.34" lengthAdjust="spacingAndGlyphs" fill="#000">1e12</text>
<rect x="132.40" y="611.4" width="31.89" height="40.7" fill="#fff" stroke="#000" stroke-width="1.3"/>
<text x="140.88" y="637.80" font-size="26.00" textLength="14.78" lengthAdjust="spacingAndGlyphs" fill="#000">d</text>
<rect x="241.6" y="610.7" width="230.9" height="62.4" rx="2.8" fill="#fff" fill-opacity="0.8" stroke="#cccccc" stroke-width="1.1"/>
<line x1="248.7" y1="625.5" x2="288.8" y2="625.5" stroke="#1f77b4" stroke-width="1.4"/>
<line x1="248.7" y1="654.4" x2="288.8" y2="654.4" stroke="#ff7f0e" stroke-width="1.4"/>
<text x="304.79" y="633.00" font-size="21.00" textLength="159.31" lengthAdjust="spacingAndGlyphs" fill="#000">Weertman–Budd</text>
<text x="303.83" y="661.90" font-size="21.00" textLength="83.59" lengthAdjust="spacingAndGlyphs" fill="#000">Cornford</text>
<g transform="rotate(-90)">
<text x="-861.61" y="34.60" font-size="26.00" textLength="20.37" lengthAdjust="spacingAndGlyphs" font-style="italic" fill="#000">Q</text>
<text x="-841.29" y="38.70" font-size="18.20" textLength="6.74" lengthAdjust="spacingAndGlyphs" font-style="italic" fill="#000">T</text>
<text x="-831.47" y="34.60" font-size="26.00" textLength="24.20" lengthAdjust="spacingAndGlyphs" fill="#000">−</text>
<text x="-800.54" y="34.60" font-size="26.00" textLength="19.36" lengthAdjust="spacingAndGlyphs" font-style="italic" fill="#000">Q</text>
<text x="-780.88" y="38.70" font-size="18.20" textLength="9.50" lengthAdjust="spacingAndGlyphs" fill="#000">0</text>
<text x="-760.19" y="34.60" font-size="26.00" textLength="7.50" lengthAdjust="spacingAndGlyphs" fill="#000">[</text>
<text x="-751.39" y="34.60" font-size="26.00" textLength="21.64" lengthAdjust="spacingAndGlyphs" font-style="italic" fill="#000">m</text>
<text x="-730.20" y="24.10" font-size="18.20" textLength="13.93" lengthAdjust="spacingAndGlyphs" fill="#000">3</text>
<text x="-712.04" y="34.60" font-size="26.00" textLength="7.64" lengthAdjust="spacingAndGlyphs" fill="#000">]</text>
</g>
<defs><clipPath id="cpe"><rect x="591.2" y="600.5" width="361.29999999999995" height="365.79999999999995"/></clipPath></defs>
<g clip-path="url(#cpe)" stroke="#b0b0b0" stroke-width="1.1">
<line x1="591.2" y1="965.86" x2="952.5" y2="965.86"/>
<line x1="591.2" y1="960.15" x2="952.5" y2="960.15"/>
<line x1="591.2" y1="955.48" x2="952.5" y2="955.48"/>
<line x1="591.2" y1="951.53" x2="952.5" y2="951.53"/>
<line x1="591.2" y1="948.11" x2="952.5" y2="948.11"/>
<line x1="591.2" y1="945.10" x2="952.5" y2="945.10"/>
<line x1="591.2" y1="942.40" x2="952.5" y2="942.40"/>
<line x1="591.2" y1="924.65" x2="952.5" y2="924.65"/>
<line x1="591.2" y1="914.27" x2="952.5" y2="914.27"/>
<line x1="591.2" y1="906.91" x2="952.5" y2="906.91"/>
<line x1="591.2" y1="901.20" x2="952.5" y2="901.20"/>
<line x1="591.2" y1="896.53" x2="952.5" y2="896.53"/>
<line x1="591.2" y1="892.58" x2="952.5" y2="892.58"/>
<line x1="591.2" y1="889.16" x2="952.5" y2="889.16"/>
<line x1="591.2" y1="886.15" x2="952.5" y2="886.15"/>
<line x1="591.2" y1="883.45" x2="952.5" y2="883.45"/>
<line x1="591.2" y1="865.70" x2="952.5" y2="865.70"/>
<line x1="591.2" y1="855.32" x2="952.5" y2="855.32"/>
<line x1="591.2" y1="847.96" x2="952.5" y2="847.96"/>
<line x1="591.2" y1="842.25" x2="952.5" y2="842.25"/>
<line x1="591.2" y1="837.58" x2="952.5" y2="837.58"/>
<line x1="591.2" y1="833.63" x2="952.5" y2="833.63"/>
<line x1="591.2" y1="830.21" x2="952.5" y2="830.21"/>
<line x1="591.2" y1="827.20" x2="952.5" y2="827.20"/>
<line x1="591.2" y1="824.50" x2="952.5" y2="824.50"/>
<line x1="591.2" y1="806.75" x2="952.5" y2="806.75"/>
<line x1="591.2" y1="796.37" x2="952.5" y2="796.37"/>
<line x1="591.2" y1="789.01" x2="952.5" y2="789.01"/>
<line x1="591.2" y1="783.30" x2="952.5" y2="783.30"/>
<line x1="591.2" y1="778.63" x2="952.5" y2="778.63"/>
<line x1="591.2" y1="774.68" x2="952.5" y2="774.68"/>
<line x1="591.2" y1="771.26" x2="952.5" y2="771.26"/>
<line x1="591.2" y1="768.25" x2="952.5" y2="768.25"/>
<line x1="591.2" y1="765.55" x2="952.5" y2="765.55"/>
<line x1="591.2" y1="747.80" x2="952.5" y2="747.80"/>
<line x1="591.2" y1="737.42" x2="952.5" y2="737.42"/>
<line x1="591.2" y1="730.06" x2="952.5" y2="730.06"/>
<line x1="591.2" y1="724.35" x2="952.5" y2="724.35"/>
<line x1="591.2" y1="719.68" x2="952.5" y2="719.68"/>
<line x1="591.2" y1="715.73" x2="952.5" y2="715.73"/>
<line x1="591.2" y1="712.31" x2="952.5" y2="712.31"/>
<line x1="591.2" y1="709.30" x2="952.5" y2="709.30"/>
<line x1="591.2" y1="706.60" x2="952.5" y2="706.60"/>
<line x1="591.2" y1="688.85" x2="952.5" y2="688.85"/>
<line x1="591.2" y1="678.47" x2="952.5" y2="678.47"/>
<line x1="591.2" y1="671.11" x2="952.5" y2="671.11"/>
<line x1="591.2" y1="665.40" x2="952.5" y2="665.40"/>
<line x1="591.2" y1="660.73" x2="952.5" y2="660.73"/>
<line x1="591.2" y1="656.78" x2="952.5" y2="656.78"/>
<line x1="591.2" y1="653.36" x2="952.5" y2="653.36"/>
<line x1="591.2" y1="650.35" x2="952.5" y2="650.35"/>
<line x1="591.2" y1="647.65" x2="952.5" y2="647.65"/>
<line x1="591.2" y1="629.90" x2="952.5" y2="629.90"/>
<line x1="591.2" y1="619.52" x2="952.5" y2="619.52"/>
<line x1="591.2" y1="612.16" x2="952.5" y2="612.16"/>
<line x1="591.2" y1="606.45" x2="952.5" y2="606.45"/>
<line x1="591.2" y1="601.78" x2="952.5" y2="601.78"/>
<line x1="607.62" y1="600.5" x2="607.62" y2="966.3"/>
<line x1="771.85" y1="600.5" x2="771.85" y2="966.3"/>
<line x1="936.08" y1="600.5" x2="936.08" y2="966.3"/>
</g>
<g clip-path="url(#cpe)">
<polyline points="607.0,975.0 607.1,772.7 608.0,752.0 610.5,727.8 615.7,707.1 624.4,688.1 639.9,671.7 658.9,659.6 681.4,651.0 715.9,641.5 765.2,632.8 811.8,625.9 856.7,621.6 898.2,618.1 936.0,616.2" fill="none" stroke="#1f77b4" stroke-width="4.2" stroke-linejoin="round" stroke-dasharray="15.4 6.7" stroke-linecap="butt"/>
<polyline points="607.2,975.0 607.8,850.0 608.7,800.0 609.7,772.7 612.3,752.0 617.5,736.5 622.6,726.1 631.3,714.0 645.1,703.6 660.6,695.9 681.4,688.1 707.3,681.2 741.8,672.6 760.0,669.1 785.9,664.8 829.1,657.9 880.9,652.7 936.0,649.2" fill="none" stroke="#ff7f0e" stroke-width="4.2" stroke-linejoin="round" stroke-dasharray="15.4 6.7" stroke-linecap="butt"/>
<polyline points="607.0,975.0 607.1,890.2 608.7,868.1 610.5,846.0 614.9,823.9 623.7,806.3 637.0,790.8 654.6,777.5 678.9,772.0 701.0,766.1 727.5,765.4 775.0,763.2 842.9,761.5 865.4,758.9 936.0,760.6" fill="none" stroke="#1f77b4" stroke-width="4.2" stroke-linejoin="round"/>
<polyline points="607.1,975.0 607.8,916.7 609.4,883.6 612.7,863.7 619.3,848.2 630.3,835.0 650.2,821.7 678.9,811.8 705.4,806.3 738.5,800.7 775.0,794.1 860.2,779.6 936.0,772.7" fill="none" stroke="#ff7f0e" stroke-width="4.2" stroke-linejoin="round"/>
</g>
<rect x="591.20" y="600.50" width="361.30" height="365.80" fill="none" stroke="#000" stroke-width="1.1"/>
<line x1="588.40" y1="965.86" x2="591.20" y2="965.86" stroke="#000" stroke-width="0.85"/>
<line x1="588.40" y1="960.15" x2="591.20" y2="960.15" stroke="#000" stroke-width="0.85"/>
<line x1="588.40" y1="955.48" x2="591.20" y2="955.48" stroke="#000" stroke-width="0.85"/>
<line x1="588.40" y1="951.53" x2="591.20" y2="951.53" stroke="#000" stroke-width="0.85"/>
<line x1="588.40" y1="948.11" x2="591.20" y2="948.11" stroke="#000" stroke-width="0.85"/>
<line x1="588.40" y1="945.10" x2="591.20" y2="945.10" stroke="#000" stroke-width="0.85"/>
<line x1="586.30" y1="942.40" x2="591.20" y2="942.40" stroke="#000" stroke-width="1.1"/>
<line x1="588.40" y1="924.65" x2="591.20" y2="924.65" stroke="#000" stroke-width="0.85"/>
<line x1="588.40" y1="914.27" x2="591.20" y2="914.27" stroke="#000" stroke-width="0.85"/>
<line x1="588.40" y1="906.91" x2="591.20" y2="906.91" stroke="#000" stroke-width="0.85"/>
<line x1="588.40" y1="901.20" x2="591.20" y2="901.20" stroke="#000" stroke-width="0.85"/>
<line x1="588.40" y1="896.53" x2="591.20" y2="896.53" stroke="#000" stroke-width="0.85"/>
<line x1="588.40" y1="892.58" x2="591.20" y2="892.58" stroke="#000" stroke-width="0.85"/>
<line x1="588.40" y1="889.16" x2="591.20" y2="889.16" stroke="#000" stroke-width="0.85"/>
<line x1="588.40" y1="886.15" x2="591.20" y2="886.15" stroke="#000" stroke-width="0.85"/>
<line x1="586.30" y1="883.45" x2="591.20" y2="883.45" stroke="#000" stroke-width="1.1"/>
<line x1="588.40" y1="865.70" x2="591.20" y2="865.70" stroke="#000" stroke-width="0.85"/>
<line x1="588.40" y1="855.32" x2="591.20" y2="855.32" stroke="#000" stroke-width="0.85"/>
<line x1="588.40" y1="847.96" x2="591.20" y2="847.96" stroke="#000" stroke-width="0.85"/>
<line x1="588.40" y1="842.25" x2="591.20" y2="842.25" stroke="#000" stroke-width="0.85"/>
<line x1="588.40" y1="837.58" x2="591.20" y2="837.58" stroke="#000" stroke-width="0.85"/>
<line x1="588.40" y1="833.63" x2="591.20" y2="833.63" stroke="#000" stroke-width="0.85"/>
<line x1="588.40" y1="830.21" x2="591.20" y2="830.21" stroke="#000" stroke-width="0.85"/>
<line x1="588.40" y1="827.20" x2="591.20" y2="827.20" stroke="#000" stroke-width="0.85"/>
<line x1="586.30" y1="824.50" x2="591.20" y2="824.50" stroke="#000" stroke-width="1.1"/>
<line x1="588.40" y1="806.75" x2="591.20" y2="806.75" stroke="#000" stroke-width="0.85"/>
<line x1="588.40" y1="796.37" x2="591.20" y2="796.37" stroke="#000" stroke-width="0.85"/>
<line x1="588.40" y1="789.01" x2="591.20" y2="789.01" stroke="#000" stroke-width="0.85"/>
<line x1="588.40" y1="783.30" x2="591.20" y2="783.30" stroke="#000" stroke-width="0.85"/>
<line x1="588.40" y1="778.63" x2="591.20" y2="778.63" stroke="#000" stroke-width="0.85"/>
<line x1="588.40" y1="774.68" x2="591.20" y2="774.68" stroke="#000" stroke-width="0.85"/>
<line x1="588.40" y1="771.26" x2="591.20" y2="771.26" stroke="#000" stroke-width="0.85"/>
<line x1="588.40" y1="768.25" x2="591.20" y2="768.25" stroke="#000" stroke-width="0.85"/>
<line x1="586.30" y1="765.55" x2="591.20" y2="765.55" stroke="#000" stroke-width="1.1"/>
<line x1="588.40" y1="747.80" x2="591.20" y2="747.80" stroke="#000" stroke-width="0.85"/>
<line x1="588.40" y1="737.42" x2="591.20" y2="737.42" stroke="#000" stroke-width="0.85"/>
<line x1="588.40" y1="730.06" x2="591.20" y2="730.06" stroke="#000" stroke-width="0.85"/>
<line x1="588.40" y1="724.35" x2="591.20" y2="724.35" stroke="#000" stroke-width="0.85"/>
<line x1="588.40" y1="719.68" x2="591.20" y2="719.68" stroke="#000" stroke-width="0.85"/>
<line x1="588.40" y1="715.73" x2="591.20" y2="715.73" stroke="#000" stroke-width="0.85"/>
<line x1="588.40" y1="712.31" x2="591.20" y2="712.31" stroke="#000" stroke-width="0.85"/>
<line x1="588.40" y1="709.30" x2="591.20" y2="709.30" stroke="#000" stroke-width="0.85"/>
<line x1="586.30" y1="706.60" x2="591.20" y2="706.60" stroke="#000" stroke-width="1.1"/>
<line x1="588.40" y1="688.85" x2="591.20" y2="688.85" stroke="#000" stroke-width="0.85"/>
<line x1="588.40" y1="678.47" x2="591.20" y2="678.47" stroke="#000" stroke-width="0.85"/>
<line x1="588.40" y1="671.11" x2="591.20" y2="671.11" stroke="#000" stroke-width="0.85"/>
<line x1="588.40" y1="665.40" x2="591.20" y2="665.40" stroke="#000" stroke-width="0.85"/>
<line x1="588.40" y1="660.73" x2="591.20" y2="660.73" stroke="#000" stroke-width="0.85"/>
<line x1="588.40" y1="656.78" x2="591.20" y2="656.78" stroke="#000" stroke-width="0.85"/>
<line x1="588.40" y1="653.36" x2="591.20" y2="653.36" stroke="#000" stroke-width="0.85"/>
<line x1="588.40" y1="650.35" x2="591.20" y2="650.35" stroke="#000" stroke-width="0.85"/>
<line x1="586.30" y1="647.65" x2="591.20" y2="647.65" stroke="#000" stroke-width="1.1"/>
<line x1="588.40" y1="629.90" x2="591.20" y2="629.90" stroke="#000" stroke-width="0.85"/>
<line x1="588.40" y1="619.52" x2="591.20" y2="619.52" stroke="#000" stroke-width="0.85"/>
<line x1="588.40" y1="612.16" x2="591.20" y2="612.16" stroke="#000" stroke-width="0.85"/>
<line x1="588.40" y1="606.45" x2="591.20" y2="606.45" stroke="#000" stroke-width="0.85"/>
<line x1="588.40" y1="601.78" x2="591.20" y2="601.78" stroke="#000" stroke-width="0.85"/>
<text x="570.11" y="941.70" font-size="18.90" textLength="10.58" lengthAdjust="spacingAndGlyphs" fill="#000">8</text>
<text x="537.65" y="951.50" font-size="26.00" textLength="29.81" lengthAdjust="spacingAndGlyphs" fill="#000">10</text>
<text x="570.10" y="882.75" font-size="18.90" textLength="10.69" lengthAdjust="spacingAndGlyphs" fill="#000">9</text>
<text x="537.65" y="892.55" font-size="26.00" textLength="29.81" lengthAdjust="spacingAndGlyphs" fill="#000">10</text>
<text x="559.06" y="823.80" font-size="18.90" textLength="21.56" lengthAdjust="spacingAndGlyphs" fill="#000">10</text>
<text x="527.21" y="833.60" font-size="26.00" textLength="29.81" lengthAdjust="spacingAndGlyphs" fill="#000">10</text>
<text x="559.41" y="764.85" font-size="18.90" textLength="21.49" lengthAdjust="spacingAndGlyphs" fill="#000">11</text>
<text x="527.65" y="774.65" font-size="26.00" textLength="29.81" lengthAdjust="spacingAndGlyphs" fill="#000">10</text>
<text x="559.71" y="705.90" font-size="18.90" textLength="21.19" lengthAdjust="spacingAndGlyphs" fill="#000">12</text>
<text x="527.83" y="715.70" font-size="26.00" textLength="29.81" lengthAdjust="spacingAndGlyphs" fill="#000">10</text>
<text x="559.34" y="646.95" font-size="18.90" textLength="21.37" lengthAdjust="spacingAndGlyphs" fill="#000">13</text>
<text x="527.47" y="656.75" font-size="26.00" textLength="29.81" lengthAdjust="spacingAndGlyphs" fill="#000">10</text>
<line x1="607.62" y1="966.30" x2="607.62" y2="971.20" stroke="#000" stroke-width="1.1"/>
<text x="600.42" y="994.70" font-size="26.00" textLength="14.28" lengthAdjust="spacingAndGlyphs" fill="#000">0</text>
<line x1="771.85" y1="966.30" x2="771.85" y2="971.20" stroke="#000" stroke-width="1.1"/>
<text x="756.68" y="994.70" font-size="26.00" textLength="30.05" lengthAdjust="spacingAndGlyphs" fill="#000">20</text>
<line x1="936.08" y1="966.30" x2="936.08" y2="971.20" stroke="#000" stroke-width="1.1"/>
<text x="921.24" y="994.70" font-size="26.00" textLength="29.71" lengthAdjust="spacingAndGlyphs" fill="#000">40</text>
<text x="713.51" y="1023.80" font-size="26.00" textLength="114.12" lengthAdjust="spacingAndGlyphs" fill="#000">Time [yr]</text>
<rect x="603.10" y="611.4" width="31.41" height="40.7" fill="#fff" stroke="#000" stroke-width="1.3"/>
<text x="611.59" y="637.80" font-size="26.00" textLength="14.57" lengthAdjust="spacingAndGlyphs" fill="#000">e</text>
<rect x="775.4" y="889.1" width="166.8" height="66.2" rx="2.8" fill="#fff" fill-opacity="0.8" stroke="#cccccc" stroke-width="1.1"/>
<line x1="783" y1="905.0" x2="820.4" y2="905.0" stroke="#1f77b4" stroke-width="4.2" stroke-dasharray="15.4 6.7"/>
<line x1="780.9" y1="936.0" x2="826.9" y2="936.0" stroke="#1f77b4" stroke-width="4.2"/>
<text x="840.69" y="912.60" font-size="21.60" textLength="47.78" lengthAdjust="spacingAndGlyphs" fill="#000">Prior</text>
<text x="840.66" y="943.90" font-size="21.60" textLength="92.12" lengthAdjust="spacingAndGlyphs" fill="#000">Posterior</text>
<g transform="rotate(-90)">
<text x="-849.56" y="511.80" font-size="26.00" textLength="12.96" lengthAdjust="spacingAndGlyphs" fill="#000">2</text>
<text x="-836.91" y="511.80" font-size="26.00" textLength="16.25" lengthAdjust="spacingAndGlyphs" font-style="italic" fill="#000">σ</text>
<text x="-813.85" y="511.80" font-size="26.00" textLength="20.93" lengthAdjust="spacingAndGlyphs" font-style="italic" fill="#000">Q</text>
<text x="-790.05" y="515.30" font-size="18.20" textLength="7.79" lengthAdjust="spacingAndGlyphs" font-style="italic" fill="#000">T</text>
<text x="-773.17" y="511.80" font-size="26.00" textLength="9.03" lengthAdjust="spacingAndGlyphs" fill="#000">[</text>
<text x="-762.41" y="511.80" font-size="26.00" textLength="22.94" lengthAdjust="spacingAndGlyphs" font-style="italic" fill="#000">m</text>
<text x="-740.90" y="500.60" font-size="18.20" textLength="12.53" lengthAdjust="spacingAndGlyphs" fill="#000">3</text>
<text x="-725.46" y="511.80" font-size="26.00" textLength="9.03" lengthAdjust="spacingAndGlyphs" fill="#000">]</text>
</g>
<defs><clipPath id="cpf"><rect x="1061.6" y="600.5" width="360.70000000000005" height="365.79999999999995"/></clipPath></defs>
<g clip-path="url(#cpf)" stroke="#b0b0b0" stroke-width="1.1">
<line x1="1061.6" y1="959.31" x2="1422.3" y2="959.31"/>
<line x1="1061.6" y1="947.99" x2="1422.3" y2="947.99"/>
<line x1="1061.6" y1="939.97" x2="1422.3" y2="939.97"/>
<line x1="1061.6" y1="933.74" x2="1422.3" y2="933.74"/>
<line x1="1061.6" y1="928.65" x2="1422.3" y2="928.65"/>
<line x1="1061.6" y1="924.35" x2="1422.3" y2="924.35"/>
<line x1="1061.6" y1="920.63" x2="1422.3" y2="920.63"/>
<line x1="1061.6" y1="917.34" x2="1422.3" y2="917.34"/>
<line x1="1061.6" y1="914.40" x2="1422.3" y2="914.40"/>
<line x1="1061.6" y1="895.06" x2="1422.3" y2="895.06"/>
<line x1="1061.6" y1="883.74" x2="1422.3" y2="883.74"/>
<line x1="1061.6" y1="875.72" x2="1422.3" y2="875.72"/>
<line x1="1061.6" y1="869.49" x2="1422.3" y2="869.49"/>
<line x1="1061.6" y1="864.40" x2="1422.3" y2="864.40"/>
<line x1="1061.6" y1="860.10" x2="1422.3" y2="860.10"/>
<line x1="1061.6" y1="856.38" x2="1422.3" y2="856.38"/>
<line x1="1061.6" y1="853.09" x2="1422.3" y2="853.09"/>
<line x1="1061.6" y1="850.15" x2="1422.3" y2="850.15"/>
<line x1="1061.6" y1="830.81" x2="1422.3" y2="830.81"/>
<line x1="1061.6" y1="819.49" x2="1422.3" y2="819.49"/>
<line x1="1061.6" y1="811.47" x2="1422.3" y2="811.47"/>
<line x1="1061.6" y1="805.24" x2="1422.3" y2="805.24"/>
<line x1="1061.6" y1="800.15" x2="1422.3" y2="800.15"/>
<line x1="1061.6" y1="795.85" x2="1422.3" y2="795.85"/>
<line x1="1061.6" y1="792.13" x2="1422.3" y2="792.13"/>
<line x1="1061.6" y1="788.84" x2="1422.3" y2="788.84"/>
<line x1="1061.6" y1="785.90" x2="1422.3" y2="785.90"/>
<line x1="1061.6" y1="766.56" x2="1422.3" y2="766.56"/>
<line x1="1061.6" y1="755.24" x2="1422.3" y2="755.24"/>
<line x1="1061.6" y1="747.22" x2="1422.3" y2="747.22"/>
<line x1="1061.6" y1="740.99" x2="1422.3" y2="740.99"/>
<line x1="1061.6" y1="735.90" x2="1422.3" y2="735.90"/>
<line x1="1061.6" y1="731.60" x2="1422.3" y2="731.60"/>
<line x1="1061.6" y1="727.88" x2="1422.3" y2="727.88"/>
<line x1="1061.6" y1="724.59" x2="1422.3" y2="724.59"/>
<line x1="1061.6" y1="721.65" x2="1422.3" y2="721.65"/>
<line x1="1061.6" y1="702.31" x2="1422.3" y2="702.31"/>
<line x1="1061.6" y1="690.99" x2="1422.3" y2="690.99"/>
<line x1="1061.6" y1="682.97" x2="1422.3" y2="682.97"/>
<line x1="1061.6" y1="676.74" x2="1422.3" y2="676.74"/>
<line x1="1061.6" y1="671.65" x2="1422.3" y2="671.65"/>
<line x1="1061.6" y1="667.35" x2="1422.3" y2="667.35"/>
<line x1="1061.6" y1="663.63" x2="1422.3" y2="663.63"/>
<line x1="1061.6" y1="660.34" x2="1422.3" y2="660.34"/>
<line x1="1061.6" y1="657.40" x2="1422.3" y2="657.40"/>
<line x1="1061.6" y1="638.06" x2="1422.3" y2="638.06"/>
<line x1="1061.6" y1="626.74" x2="1422.3" y2="626.74"/>
<line x1="1061.6" y1="618.72" x2="1422.3" y2="618.72"/>
<line x1="1061.6" y1="612.49" x2="1422.3" y2="612.49"/>
<line x1="1061.6" y1="607.40" x2="1422.3" y2="607.40"/>
<line x1="1061.6" y1="603.10" x2="1422.3" y2="603.10"/>
<line x1="1072.40" y1="600.5" x2="1072.40" y2="966.3"/>
<line x1="1240.52" y1="600.5" x2="1240.52" y2="966.3"/>
<line x1="1408.64" y1="600.5" x2="1408.64" y2="966.3"/>
</g>
<g clip-path="url(#cpf)">
<polyline points="1079.0,625.0 1085.3,652.7 1089.6,668.2 1092.2,669.1 1096.5,669.1 1100.0,685.5 1103.5,686.4 1106.9,695.9 1110.4,695.9 1117.3,723.5 1120.7,717.5 1124.2,693.3 1127.6,722.6 1131.1,713.1 1134.6,721.8 1138.0,724.4 1141.5,724.4 1144.6,703.6 1147.5,733.9 1151.0,728.7 1154.4,728.7 1160.5,758.9 1164.7,750.7 1168.0,756.1 1171.4,756.8 1174.8,761.5 1178.1,763.5 1181.5,748.1 1184.8,764.9 1187.8,752.8 1190.9,780.3 1194.9,791.1 1198.3,766.9 1201.2,757.5 1205.0,783.7 1208.4,770.9 1211.7,761.5 1215.1,770.9 1218.2,780.3 1221.4,758.1 1224.9,770.9 1228.1,762.2 1231.6,776.9 1234.8,770.2 1238.3,795.1 1241.5,776.3 1245.0,791.1 1248.0,796.4 1251.3,799.1 1255.0,768.2 1258.5,789.7 1261.7,775.6 1265.2,799.1 1268.4,793.1 1271.9,804.5 1275.1,813.9 1278.6,787.7 1281.8,799.1 1285.3,793.7 1288.6,809.2 1292.1,805.2 1295.3,796.4 1298.5,811.8 1302.3,792.6 1305.0,791.7 1308.4,810.9 1311.9,800.3 1315.2,810.9 1318.6,788.4 1322.3,807.0 1325.3,801.9 1329.2,807.0 1332.4,819.5 1335.7,827.2 1339.2,801.9 1342.6,804.5 1345.9,812.8 1349.1,811.5 1352.2,825.3 1355.5,762.9 1358.7,828.2 1362.2,824.3 1365.7,829.1 1368.9,822.4 1372.2,832.6 1375.6,818.0 1379.1,829.1 1382.4,833.3 1385.6,823.0 1389.1,822.4 1392.5,817.6 1395.8,821.8 1399.6,822.4 1402.9,823.0 1406.0,834.9" fill="none" stroke="#1f77b4" stroke-width="2.0" stroke-linejoin="round"/>
<line x1="1172.7" y1="762.8" x2="1407.3" y2="832" stroke="#1f77b4" stroke-opacity="0.5" stroke-width="4.6"/>
<polyline points="1076.0,620.0 1079.3,653.5 1080.1,660.5 1083.6,663.1 1087.9,679.5 1093.1,701.9 1097.4,706.2 1100.9,715.7 1104.3,711.4 1107.8,722.6 1111.2,711.4 1117.3,740.8 1120.7,735.6 1124.2,733.9 1127.6,733.9 1131.1,740.8 1134.6,750.3 1138.0,752.0 1141.5,746.5 1144.1,761.5 1146.6,760.7 1151.0,755.5 1154.4,761.5 1157.9,756.3 1160.5,771.0 1164.7,774.9 1168.0,766.2 1171.1,786.4 1174.1,771.6 1177.5,770.9 1180.8,765.5 1184.2,768.9 1187.8,783.0 1190.9,777.0 1194.2,785.7 1197.6,792.4 1201.2,785.0 1204.7,799.1 1208.4,787.0 1211.4,783.0 1214.7,790.4 1218.2,803.1 1221.4,793.1 1224.9,788.4 1228.1,797.8 1231.6,805.8 1234.8,803.1 1238.3,802.5 1241.5,795.8 1245.0,804.5 1248.0,805.8 1251.3,797.1 1255.0,805.2 1258.5,813.9 1261.7,812.6 1265.2,815.9 1268.4,805.8 1271.9,822.0 1275.1,821.3 1278.6,828.0 1281.8,822.6 1285.3,810.5 1288.6,817.3 1292.1,838.8 1295.3,840.1 1298.5,832.0 1301.7,828.7 1305.0,831.0 1308.4,830.7 1311.9,832.0 1315.2,844.9 1318.6,830.1 1322.3,827.6 1325.3,833.9 1329.2,823.7 1332.4,828.2 1335.7,839.1 1339.2,817.2 1342.0,844.5 1345.3,840.6 1348.8,849.3 1352.2,849.3 1355.5,844.5 1358.7,850.2 1362.2,841.0 1365.7,860.8 1368.9,847.9 1372.2,860.8 1375.6,846.8 1379.1,866.0 1382.4,949.1 1385.6,867.5 1389.1,843.5 1392.5,876.2 1395.8,881.0 1399.1,874.2 1402.5,915.1 1406.0,882.9" fill="none" stroke="#ff7f0e" stroke-width="2.0" stroke-linejoin="round"/>
<line x1="1174.1" y1="770.9" x2="1407.3" y2="878.1" stroke="#ff7f0e" stroke-opacity="0.5" stroke-width="4.6"/>
</g>
<rect x="1061.60" y="600.50" width="360.70" height="365.80" fill="none" stroke="#000" stroke-width="1.1"/>
<line x1="1058.80" y1="959.31" x2="1061.60" y2="959.31" stroke="#000" stroke-width="0.85"/>
<line x1="1058.80" y1="947.99" x2="1061.60" y2="947.99" stroke="#000" stroke-width="0.85"/>
<line x1="1058.80" y1="939.97" x2="1061.60" y2="939.97" stroke="#000" stroke-width="0.85"/>
<line x1="1058.80" y1="933.74" x2="1061.60" y2="933.74" stroke="#000" stroke-width="0.85"/>
<line x1="1058.80" y1="928.65" x2="1061.60" y2="928.65" stroke="#000" stroke-width="0.85"/>
<line x1="1058.80" y1="924.35" x2="1061.60" y2="924.35" stroke="#000" stroke-width="0.85"/>
<line x1="1058.80" y1="920.63" x2="1061.60" y2="920.63" stroke="#000" stroke-width="0.85"/>
<line x1="1058.80" y1="917.34" x2="1061.60" y2="917.34" stroke="#000" stroke-width="0.85"/>
<line x1="1056.70" y1="914.40" x2="1061.60" y2="914.40" stroke="#000" stroke-width="1.1"/>
<line x1="1058.80" y1="895.06" x2="1061.60" y2="895.06" stroke="#000" stroke-width="0.85"/>
<line x1="1058.80" y1="883.74" x2="1061.60" y2="883.74" stroke="#000" stroke-width="0.85"/>
<line x1="1058.80" y1="875.72" x2="1061.60" y2="875.72" stroke="#000" stroke-width="0.85"/>
<line x1="1058.80" y1="869.49" x2="1061.60" y2="869.49" stroke="#000" stroke-width="0.85"/>
<line x1="1058.80" y1="864.40" x2="1061.60" y2="864.40" stroke="#000" stroke-width="0.85"/>
<line x1="1058.80" y1="860.10" x2="1061.60" y2="860.10" stroke="#000" stroke-width="0.85"/>
<line x1="1058.80" y1="856.38" x2="1061.60" y2="856.38" stroke="#000" stroke-width="0.85"/>
<line x1="1058.80" y1="853.09" x2="1061.60" y2="853.09" stroke="#000" stroke-width="0.85"/>
<line x1="1056.70" y1="850.15" x2="1061.60" y2="850.15" stroke="#000" stroke-width="1.1"/>
<line x1="1058.80" y1="830.81" x2="1061.60" y2="830.81" stroke="#000" stroke-width="0.85"/>
<line x1="1058.80" y1="819.49" x2="1061.60" y2="819.49" stroke="#000" stroke-width="0.85"/>
<line x1="1058.80" y1="811.47" x2="1061.60" y2="811.47" stroke="#000" stroke-width="0.85"/>
<line x1="1058.80" y1="805.24" x2="1061.60" y2="805.24" stroke="#000" stroke-width="0.85"/>
<line x1="1058.80" y1="800.15" x2="1061.60" y2="800.15" stroke="#000" stroke-width="0.85"/>
<line x1="1058.80" y1="795.85" x2="1061.60" y2="795.85" stroke="#000" stroke-width="0.85"/>
<line x1="1058.80" y1="792.13" x2="1061.60" y2="792.13" stroke="#000" stroke-width="0.85"/>
<line x1="1058.80" y1="788.84" x2="1061.60" y2="788.84" stroke="#000" stroke-width="0.85"/>
<line x1="1056.70" y1="785.90" x2="1061.60" y2="785.90" stroke="#000" stroke-width="1.1"/>
<line x1="1058.80" y1="766.56" x2="1061.60" y2="766.56" stroke="#000" stroke-width="0.85"/>
<line x1="1058.80" y1="755.24" x2="1061.60" y2="755.24" stroke="#000" stroke-width="0.85"/>
<line x1="1058.80" y1="747.22" x2="1061.60" y2="747.22" stroke="#000" stroke-width="0.85"/>
<line x1="1058.80" y1="740.99" x2="1061.60" y2="740.99" stroke="#000" stroke-width="0.85"/>
<line x1="1058.80" y1="735.90" x2="1061.60" y2="735.90" stroke="#000" stroke-width="0.85"/>
<line x1="1058.80" y1="731.60" x2="1061.60" y2="731.60" stroke="#000" stroke-width="0.85"/>
<line x1="1058.80" y1="727.88" x2="1061.60" y2="727.88" stroke="#000" stroke-width="0.85"/>
<line x1="1058.80" y1="724.59" x2="1061.60" y2="724.59" stroke="#000" stroke-width="0.85"/>
<line x1="1056.70" y1="721.65" x2="1061.60" y2="721.65" stroke="#000" stroke-width="1.1"/>
<line x1="1058.80" y1="702.31" x2="1061.60" y2="702.31" stroke="#000" stroke-width="0.85"/>
<line x1="1058.80" y1="690.99" x2="1061.60" y2="690.99" stroke="#000" stroke-width="0.85"/>
<line x1="1058.80" y1="682.97" x2="1061.60" y2="682.97" stroke="#000" stroke-width="0.85"/>
<line x1="1058.80" y1="676.74" x2="1061.60" y2="676.74" stroke="#000" stroke-width="0.85"/>
<line x1="1058.80" y1="671.65" x2="1061.60" y2="671.65" stroke="#000" stroke-width="0.85"/>
<line x1="1058.80" y1="667.35" x2="1061.60" y2="667.35" stroke="#000" stroke-width="0.85"/>
<line x1="1058.80" y1="663.63" x2="1061.60" y2="663.63" stroke="#000" stroke-width="0.85"/>
<line x1="1058.80" y1="660.34" x2="1061.60" y2="660.34" stroke="#000" stroke-width="0.85"/>
<line x1="1056.70" y1="657.40" x2="1061.60" y2="657.40" stroke="#000" stroke-width="1.1"/>
<line x1="1058.80" y1="638.06" x2="1061.60" y2="638.06" stroke="#000" stroke-width="0.85"/>
<line x1="1058.80" y1="626.74" x2="1061.60" y2="626.74" stroke="#000" stroke-width="0.85"/>
<line x1="1058.80" y1="618.72" x2="1061.60" y2="618.72" stroke="#000" stroke-width="0.85"/>
<line x1="1058.80" y1="612.49" x2="1061.60" y2="612.49" stroke="#000" stroke-width="0.85"/>
<line x1="1058.80" y1="607.40" x2="1061.60" y2="607.40" stroke="#000" stroke-width="0.85"/>
<line x1="1058.80" y1="603.10" x2="1061.60" y2="603.10" stroke="#000" stroke-width="0.85"/>
<text x="1041.28" y="913.70" font-size="18.90" textLength="9.84" lengthAdjust="spacingAndGlyphs" fill="#000">5</text>
<text x="1008.68" y="923.50" font-size="26.00" textLength="29.81" lengthAdjust="spacingAndGlyphs" fill="#000">10</text>
<text x="1040.50" y="849.45" font-size="18.90" textLength="10.69" lengthAdjust="spacingAndGlyphs" fill="#000">6</text>
<text x="1008.15" y="859.25" font-size="26.00" textLength="29.81" lengthAdjust="spacingAndGlyphs" fill="#000">10</text>
<text x="1041.17" y="785.20" font-size="18.90" textLength="10.17" lengthAdjust="spacingAndGlyphs" fill="#000">7</text>
<text x="1008.77" y="795.00" font-size="26.00" textLength="29.81" lengthAdjust="spacingAndGlyphs" fill="#000">10</text>
<text x="1040.61" y="720.95" font-size="18.90" textLength="10.58" lengthAdjust="spacingAndGlyphs" fill="#000">8</text>
<text x="1008.15" y="730.75" font-size="26.00" textLength="29.81" lengthAdjust="spacingAndGlyphs" fill="#000">10</text>
<text x="1040.60" y="656.70" font-size="18.90" textLength="10.69" lengthAdjust="spacingAndGlyphs" fill="#000">9</text>
<text x="1008.15" y="666.50" font-size="26.00" textLength="29.81" lengthAdjust="spacingAndGlyphs" fill="#000">10</text>
<line x1="1072.40" y1="966.30" x2="1072.40" y2="971.20" stroke="#000" stroke-width="1.1"/>
<text x="1065.20" y="994.70" font-size="26.00" textLength="14.28" lengthAdjust="spacingAndGlyphs" fill="#000">0</text>
<line x1="1240.52" y1="966.30" x2="1240.52" y2="971.20" stroke="#000" stroke-width="1.1"/>
<text x="1210.21" y="994.70" font-size="26.00" textLength="60.72" lengthAdjust="spacingAndGlyphs" fill="#000">5000</text>
<line x1="1408.64" y1="966.30" x2="1408.64" y2="971.20" stroke="#000" stroke-width="1.1"/>
<text x="1370.45" y="994.70" font-size="26.00" textLength="76.37" lengthAdjust="spacingAndGlyphs" fill="#000">10000</text>
<text x="1133.34" y="1024.60" font-size="26.00" textLength="215.00" lengthAdjust="spacingAndGlyphs" fill="#000">Eigenvalue index</text>
<rect x="1073.50" y="611.4" width="24.99" height="40.7" fill="#fff" stroke="#000" stroke-width="1.3"/>
<text x="1081.70" y="637.80" font-size="26.00" textLength="8.95" lengthAdjust="spacingAndGlyphs" fill="#000">f</text>
<rect x="1225.5" y="600.9" width="196.5" height="118.7" rx="2.8" fill="#fff" fill-opacity="0.8" stroke="#cccccc" stroke-width="1.1"/>
<line x1="1230.8" y1="632.0" x2="1271.1" y2="632.0" stroke="#1f77b4" stroke-opacity="0.5" stroke-width="4.2"/>
<line x1="1230.8" y1="688.9" x2="1271.1" y2="688.9" stroke="#ff7f0e" stroke-opacity="0.5" stroke-width="4.2"/>
<text x="1284.23" y="624.60" font-size="18.20" textLength="11.46" lengthAdjust="spacingAndGlyphs" font-style="italic" fill="#000">σ</text>
<text x="1295.31" y="617.90" font-size="13.20" textLength="18.79" lengthAdjust="spacingAndGlyphs" font-style="italic" fill="#000">est</text>
<text x="1294.88" y="629.90" font-size="13.20" textLength="18.90" lengthAdjust="spacingAndGlyphs" font-style="italic" fill="#000">full</text>
<text x="1321.63" y="624.60" font-size="18.20" textLength="92.67" lengthAdjust="spacingAndGlyphs" fill="#000">=5.3E+10</text>
<text x="1289.17" y="650.50" font-size="18.20" textLength="9.61" lengthAdjust="spacingAndGlyphs" font-style="italic" fill="#000">r</text>
<text x="1298.21" y="643.80" font-size="13.20" textLength="7.70" lengthAdjust="spacingAndGlyphs" fill="#000">2</text>
<text x="1306.35" y="650.50" font-size="18.20" textLength="64.82" lengthAdjust="spacingAndGlyphs" fill="#000">=0.746</text>
<text x="1284.23" y="681.40" font-size="18.20" textLength="11.46" lengthAdjust="spacingAndGlyphs" font-style="italic" fill="#000">σ</text>
<text x="1295.31" y="674.70" font-size="13.20" textLength="18.79" lengthAdjust="spacingAndGlyphs" font-style="italic" fill="#000">est</text>
<text x="1294.88" y="686.70" font-size="13.20" textLength="18.90" lengthAdjust="spacingAndGlyphs" font-style="italic" fill="#000">full</text>
<text x="1321.63" y="681.40" font-size="18.20" textLength="92.67" lengthAdjust="spacingAndGlyphs" fill="#000">=3.5E+10</text>
<text x="1289.17" y="707.30" font-size="18.20" textLength="9.61" lengthAdjust="spacingAndGlyphs" font-style="italic" fill="#000">r</text>
<text x="1298.21" y="700.60" font-size="13.20" textLength="7.70" lengthAdjust="spacingAndGlyphs" fill="#000">2</text>
<text x="1306.36" y="707.30" font-size="18.20" textLength="64.50" lengthAdjust="spacingAndGlyphs" fill="#000">=0.834</text>
<g transform="rotate(-90)">
<text x="-855.08" y="992.60" font-size="26.00" textLength="14.44" lengthAdjust="spacingAndGlyphs" font-style="italic" fill="#000">δ</text>
<text x="-831.37" y="992.60" font-size="26.00" textLength="15.45" lengthAdjust="spacingAndGlyphs" font-style="italic" fill="#000">σ</text>
<text x="-809.09" y="992.60" font-size="26.00" textLength="20.14" lengthAdjust="spacingAndGlyphs" font-style="italic" fill="#000">Q</text>
<text x="-786.96" y="996.10" font-size="18.90" textLength="8.53" lengthAdjust="spacingAndGlyphs" font-style="italic" fill="#000">T</text>
<text x="-768.89" y="992.60" font-size="26.00" textLength="7.92" lengthAdjust="spacingAndGlyphs" fill="#000">[</text>
<text x="-759.21" y="992.60" font-size="26.00" textLength="22.94" lengthAdjust="spacingAndGlyphs" font-style="italic" fill="#000">m</text>
<text x="-737.59" y="981.40" font-size="18.90" textLength="12.41" lengthAdjust="spacingAndGlyphs" fill="#000">3</text>
<text x="-719.72" y="992.60" font-size="26.00" textLength="6.81" lengthAdjust="spacingAndGlyphs" fill="#000">]</text>
</g>
</svg></body></html>
